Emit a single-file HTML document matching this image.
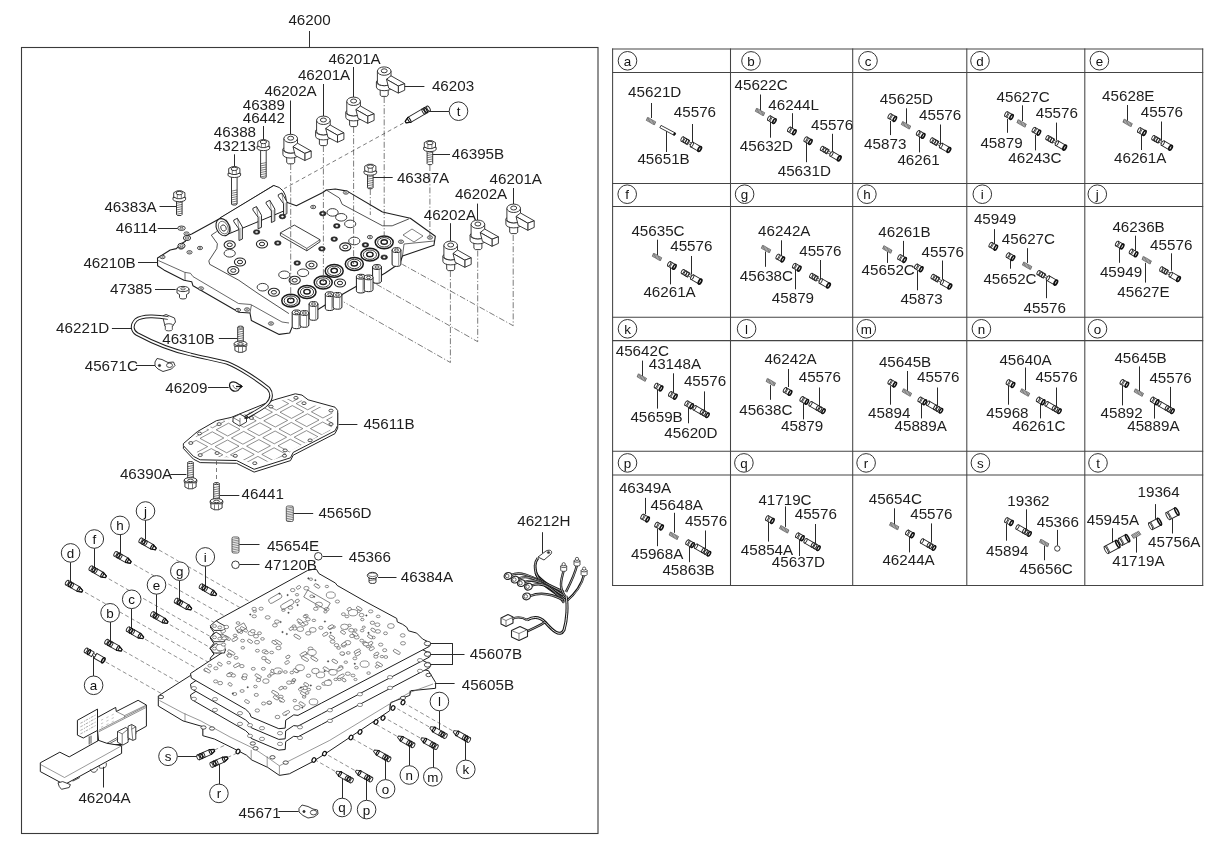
<!DOCTYPE html>
<html><head><meta charset="utf-8"><style>
html,body{margin:0;padding:0;background:#fff;}
body{width:1224px;height:848px;overflow:hidden;}
svg{display:block;will-change:transform;}
text{font-family:"Liberation Sans",sans-serif;}
</style></head><body>
<svg width="1224" height="848" viewBox="0 0 1224 848">

<g fill="none" stroke="#3a3a3a" stroke-width="1.1">
<rect x="21.5" y="47.5" width="576.5" height="786"/>
</g><g fill="none" stroke="#444" stroke-width="1.05">
<line x1="612.6" y1="48.5" x2="612.6" y2="585.9"/>
<line x1="730.5" y1="48.5" x2="730.5" y2="585.9"/>
<line x1="852.7" y1="48.5" x2="852.7" y2="585.9"/>
<line x1="966.8" y1="48.5" x2="966.8" y2="585.9"/>
<line x1="1084.8" y1="48.5" x2="1084.8" y2="585.9"/>
<line x1="1202.7" y1="48.5" x2="1202.7" y2="585.9"/>
<line x1="612.1" y1="49.0" x2="1203.2" y2="49.0"/>
<line x1="612.1" y1="72.4" x2="1203.2" y2="72.4"/>
<line x1="612.1" y1="183.4" x2="1203.2" y2="183.4"/>
<line x1="612.1" y1="206.4" x2="1203.2" y2="206.4"/>
<line x1="612.1" y1="317.3" x2="1203.2" y2="317.3"/>
<line x1="612.1" y1="340.6" x2="1203.2" y2="340.6"/>
<line x1="612.1" y1="451.3" x2="1203.2" y2="451.3"/>
<line x1="612.1" y1="474.9" x2="1203.2" y2="474.9"/>
<line x1="612.1" y1="585.4" x2="1203.2" y2="585.4"/>
</g>
<polygon points="157.5,258.0 164.7,253.5 170.2,250.0 176.3,248.6 181.2,243.7 185.5,241.3 185.5,236.4 191.7,234.0 218.6,219.2 273.8,185.5 286.0,202.0 296.4,205.7 322.8,192.5 326.3,190.0 335.3,189.0 347.1,191.1 382.5,212.0 410.3,218.2 435.3,236.3 433.9,245.3 402.5,256.0 400.0,263.0 385.3,273.0 370.6,281.5 358.3,285.2 341.2,295.0 321.6,307.3 309.3,314.6 292.2,326.9 289.7,333.0 279.2,334.4 251.4,320.6 250.0,313.0 238.9,312.2 193.0,285.8 191.7,281.7 184.0,280.3 163.9,269.9 157.6,265.7" fill="#fff" stroke="#1e1e1e" stroke-width="1.1" stroke-linejoin="round" />
<polyline points="158.3,260.5 184.7,272.3 190.5,273.3 193.0,276.6 238.5,303.5 250.8,304.5 282.0,322.0 289.0,323.0" fill="none" stroke="#262626" stroke-width="0.7" stroke-linejoin="round" />
<polyline points="250.0,313.0 251.4,305.0" fill="none" stroke="#262626" stroke-width="0.7" stroke-linejoin="round" />
<polyline points="185.0,272.5 185.0,280.3" fill="none" stroke="#262626" stroke-width="0.7" stroke-linejoin="round" />
<polyline points="216.8,231.5 211.3,235.1 217.4,243.7 216.8,248.6 208.8,260.9 209.7,264.3 238.9,280.3 257.0,292.8 288.9,313.6" fill="none" stroke="#262626" stroke-width="0.8" stroke-linejoin="round" />
<polyline points="326.3,190.0 339.4,198.0 342.2,204.3 382.5,225.8 392.2,225.8 408.9,218.9" fill="none" stroke="#262626" stroke-width="0.8" stroke-linejoin="round" />
<polyline points="403.0,235.0 412.0,229.0 423.0,236.0 414.0,242.0 403.0,235.0" fill="none" stroke="#262626" stroke-width="0.6" stroke-linejoin="round" />
<polyline points="402.5,256.0 404.0,244.0 434.0,241.0" fill="none" stroke="#262626" stroke-width="0.7" stroke-linejoin="round" />
<polygon points="280.4,232.8 294.3,225.1 320.0,239.7 320.0,241.8 306.8,250.8 280.4,235.6" fill="#fff" stroke="#262626" stroke-width="0.9" stroke-linejoin="round" />
<polyline points="280.4,232.8 306.8,248.4 320.0,239.7" fill="none" stroke="#262626" stroke-width="0.7" stroke-linejoin="round" />
<polyline points="306.8,248.4 306.8,250.8" fill="none" stroke="#262626" stroke-width="0.7" stroke-linejoin="round" />
<path d="M219.9,218 L273.8,185.5 Q286,188 286.5,202 L284.8,210.6 L228.4,234 Z" fill="#fff" stroke="#1e1e1e" stroke-width="1.0" stroke-linejoin="round" />
<ellipse cx="222.9" cy="227.2" rx="6.4" ry="9.0" fill="#fff" stroke="#1e1e1e" stroke-width="1.1" transform="rotate(-25 222.9 227.2)"/>
<ellipse cx="223.3" cy="227.6" rx="4.6" ry="6.6" fill="#fff" stroke="#262626" stroke-width="0.6" transform="rotate(-25 223.3 227.6)"/>
<ellipse cx="223.5" cy="228.0" rx="2.6" ry="3.2" fill="#fff" stroke="#262626" stroke-width="0.8" transform="rotate(-28 223.5 228.0)"/>
<polyline points="226.0,219.5 230.0,226.0 231.0,233.0" fill="none" stroke="#262626" stroke-width="0.6" stroke-linejoin="round" />
<polygon points="233.8,220.0 237.4,218.3 242.4,227.0 242.4,239.0 239.0,240.5 239.0,229.0 233.8,221.7" fill="#fff" stroke="#1a1a1a" stroke-width="0.9" stroke-linejoin="round" />
<line x1="237.4" y1="218.3" x2="239.0" y2="229.0" stroke="#262626" stroke-width="0.5"/>
<line x1="240.7" y1="228.0" x2="240.7" y2="239.7" stroke="#666" stroke-width="0.5"/>
<polygon points="252.9,208.3 256.5,206.6 261.5,215.3 261.5,227.3 258.1,228.8 258.1,217.3 252.9,210.0" fill="#fff" stroke="#1a1a1a" stroke-width="0.9" stroke-linejoin="round" />
<line x1="256.5" y1="206.6" x2="258.1" y2="217.3" stroke="#262626" stroke-width="0.5"/>
<line x1="259.8" y1="216.3" x2="259.8" y2="228.0" stroke="#666" stroke-width="0.5"/>
<polygon points="266.2,202.0 269.8,200.3 274.8,209.0 274.8,221.0 271.4,222.5 271.4,211.0 266.2,203.7" fill="#fff" stroke="#1a1a1a" stroke-width="0.9" stroke-linejoin="round" />
<line x1="269.8" y1="200.3" x2="271.4" y2="211.0" stroke="#262626" stroke-width="0.5"/>
<line x1="273.1" y1="210.0" x2="273.1" y2="221.7" stroke="#666" stroke-width="0.5"/>
<polygon points="278.3,194.7 281.9,193.0 286.9,201.7 286.9,213.7 283.5,215.2 283.5,203.7 278.3,196.4" fill="#fff" stroke="#1a1a1a" stroke-width="0.9" stroke-linejoin="round" />
<line x1="281.9" y1="193.0" x2="283.5" y2="203.7" stroke="#262626" stroke-width="0.5"/>
<line x1="285.2" y1="202.7" x2="285.2" y2="214.4" stroke="#666" stroke-width="0.5"/>
<ellipse cx="290.8" cy="300.7" rx="9.0" ry="6.4" fill="#fff" stroke="#1a1a1a" stroke-width="1.5"/>
<ellipse cx="290.8" cy="300.7" rx="6.6" ry="4.7" fill="#fff" stroke="#262626" stroke-width="0.9"/>
<ellipse cx="290.8" cy="300.4" rx="3.2" ry="2.3" fill="#fff" stroke="#1a1a1a" stroke-width="1.4"/>
<ellipse cx="307.0" cy="292.0" rx="9.0" ry="6.4" fill="#fff" stroke="#1a1a1a" stroke-width="1.5"/>
<ellipse cx="307.0" cy="292.0" rx="6.6" ry="4.7" fill="#fff" stroke="#262626" stroke-width="0.9"/>
<ellipse cx="307.0" cy="291.7" rx="3.2" ry="2.3" fill="#fff" stroke="#1a1a1a" stroke-width="1.4"/>
<ellipse cx="323.2" cy="282.5" rx="9.0" ry="6.4" fill="#fff" stroke="#1a1a1a" stroke-width="1.5"/>
<ellipse cx="323.2" cy="282.5" rx="6.6" ry="4.7" fill="#fff" stroke="#262626" stroke-width="0.9"/>
<ellipse cx="323.2" cy="282.2" rx="3.2" ry="2.3" fill="#fff" stroke="#1a1a1a" stroke-width="1.4"/>
<ellipse cx="334.2" cy="270.9" rx="9.0" ry="6.4" fill="#fff" stroke="#1a1a1a" stroke-width="1.5"/>
<ellipse cx="334.2" cy="270.9" rx="6.6" ry="4.7" fill="#fff" stroke="#262626" stroke-width="0.9"/>
<ellipse cx="334.2" cy="270.6" rx="3.2" ry="2.3" fill="#fff" stroke="#1a1a1a" stroke-width="1.4"/>
<ellipse cx="354.3" cy="264.0" rx="9.0" ry="6.4" fill="#fff" stroke="#1a1a1a" stroke-width="1.5"/>
<ellipse cx="354.3" cy="264.0" rx="6.6" ry="4.7" fill="#fff" stroke="#262626" stroke-width="0.9"/>
<ellipse cx="354.3" cy="263.7" rx="3.2" ry="2.3" fill="#fff" stroke="#1a1a1a" stroke-width="1.4"/>
<ellipse cx="369.9" cy="254.7" rx="9.0" ry="6.4" fill="#fff" stroke="#1a1a1a" stroke-width="1.5"/>
<ellipse cx="369.9" cy="254.7" rx="6.6" ry="4.7" fill="#fff" stroke="#262626" stroke-width="0.9"/>
<ellipse cx="369.9" cy="254.4" rx="3.2" ry="2.3" fill="#fff" stroke="#1a1a1a" stroke-width="1.4"/>
<ellipse cx="384.2" cy="242.3" rx="9.0" ry="6.4" fill="#fff" stroke="#1a1a1a" stroke-width="1.5"/>
<ellipse cx="384.2" cy="242.3" rx="6.6" ry="4.7" fill="#fff" stroke="#262626" stroke-width="0.9"/>
<ellipse cx="384.2" cy="242.0" rx="3.2" ry="2.3" fill="#fff" stroke="#1a1a1a" stroke-width="1.4"/>
<ellipse cx="311.5" cy="265.0" rx="5.6" ry="4.0" fill="#fff" stroke="#262626" stroke-width="1.1"/>
<ellipse cx="311.5" cy="265.0" rx="2.6" ry="1.8" fill="#fff" stroke="#262626" stroke-width="1.0"/>
<ellipse cx="345.3" cy="246.9" rx="5.6" ry="4.0" fill="#fff" stroke="#262626" stroke-width="1.1"/>
<ellipse cx="345.3" cy="246.9" rx="2.6" ry="1.8" fill="#fff" stroke="#262626" stroke-width="1.0"/>
<ellipse cx="273.9" cy="292.3" rx="5.6" ry="4.0" fill="#fff" stroke="#262626" stroke-width="1.1"/>
<ellipse cx="273.9" cy="292.3" rx="2.6" ry="1.8" fill="#fff" stroke="#262626" stroke-width="1.0"/>
<ellipse cx="294.7" cy="280.3" rx="5.6" ry="4.0" fill="#fff" stroke="#262626" stroke-width="1.1"/>
<ellipse cx="294.7" cy="280.3" rx="2.6" ry="1.8" fill="#fff" stroke="#262626" stroke-width="1.0"/>
<ellipse cx="340.0" cy="283.0" rx="5.6" ry="4.0" fill="#fff" stroke="#262626" stroke-width="1.1"/>
<ellipse cx="340.0" cy="283.0" rx="2.6" ry="1.8" fill="#fff" stroke="#262626" stroke-width="1.0"/>
<ellipse cx="233.3" cy="270.5" rx="5.6" ry="4.0" fill="#fff" stroke="#262626" stroke-width="1.1"/>
<ellipse cx="233.3" cy="270.5" rx="2.6" ry="1.8" fill="#fff" stroke="#262626" stroke-width="1.0"/>
<ellipse cx="229.7" cy="244.8" rx="5.6" ry="4.0" fill="#fff" stroke="#262626" stroke-width="1.1"/>
<ellipse cx="229.7" cy="244.8" rx="2.6" ry="1.8" fill="#fff" stroke="#262626" stroke-width="1.0"/>
<ellipse cx="262.0" cy="244.0" rx="5.6" ry="4.0" fill="#fff" stroke="#262626" stroke-width="1.1"/>
<ellipse cx="262.0" cy="244.0" rx="2.6" ry="1.8" fill="#fff" stroke="#262626" stroke-width="1.0"/>
<ellipse cx="240.0" cy="262.0" rx="5.6" ry="4.0" fill="#fff" stroke="#262626" stroke-width="1.1"/>
<ellipse cx="240.0" cy="262.0" rx="2.6" ry="1.8" fill="#fff" stroke="#262626" stroke-width="1.0"/>
<ellipse cx="284.3" cy="274.8" rx="5.6" ry="3.8" fill="#fff" stroke="#262626" stroke-width="0.9"/>
<ellipse cx="303.1" cy="272.8" rx="5.6" ry="3.8" fill="#fff" stroke="#262626" stroke-width="0.9"/>
<ellipse cx="354.3" cy="241.0" rx="5.6" ry="3.8" fill="#fff" stroke="#262626" stroke-width="0.9"/>
<ellipse cx="229.7" cy="253.3" rx="5.6" ry="3.8" fill="#fff" stroke="#262626" stroke-width="0.9"/>
<ellipse cx="262.7" cy="287.2" rx="5.6" ry="3.8" fill="#fff" stroke="#262626" stroke-width="0.9"/>
<ellipse cx="332.6" cy="212.4" rx="5.6" ry="3.8" fill="#fff" stroke="#262626" stroke-width="0.9"/>
<ellipse cx="341.2" cy="217.3" rx="5.6" ry="3.8" fill="#fff" stroke="#262626" stroke-width="0.9"/>
<ellipse cx="350.2" cy="223.9" rx="5.6" ry="3.8" fill="#fff" stroke="#262626" stroke-width="0.9"/>
<ellipse cx="277.8" cy="243.0" rx="3.3" ry="2.3" fill="#2a2a2a" stroke="#262626" stroke-width="0.6"/>
<ellipse cx="277.8" cy="243.0" rx="1.2" ry="0.8" fill="#fff" stroke="#fff" stroke-width="0.3"/>
<ellipse cx="297.2" cy="263.0" rx="3.3" ry="2.3" fill="#2a2a2a" stroke="#262626" stroke-width="0.6"/>
<ellipse cx="297.2" cy="263.0" rx="1.2" ry="0.8" fill="#fff" stroke="#fff" stroke-width="0.3"/>
<ellipse cx="321.9" cy="248.8" rx="3.3" ry="2.3" fill="#2a2a2a" stroke="#262626" stroke-width="0.6"/>
<ellipse cx="321.9" cy="248.8" rx="1.2" ry="0.8" fill="#fff" stroke="#fff" stroke-width="0.3"/>
<ellipse cx="334.2" cy="239.1" rx="3.3" ry="2.3" fill="#2a2a2a" stroke="#262626" stroke-width="0.6"/>
<ellipse cx="334.2" cy="239.1" rx="1.2" ry="0.8" fill="#fff" stroke="#fff" stroke-width="0.3"/>
<ellipse cx="365.4" cy="244.9" rx="3.3" ry="2.3" fill="#2a2a2a" stroke="#262626" stroke-width="0.6"/>
<ellipse cx="365.4" cy="244.9" rx="1.2" ry="0.8" fill="#fff" stroke="#fff" stroke-width="0.3"/>
<ellipse cx="384.2" cy="257.2" rx="3.3" ry="2.3" fill="#2a2a2a" stroke="#262626" stroke-width="0.6"/>
<ellipse cx="384.2" cy="257.2" rx="1.2" ry="0.8" fill="#fff" stroke="#fff" stroke-width="0.3"/>
<ellipse cx="256.6" cy="232.0" rx="3.3" ry="2.3" fill="#2a2a2a" stroke="#262626" stroke-width="0.6"/>
<ellipse cx="256.6" cy="232.0" rx="1.2" ry="0.8" fill="#fff" stroke="#fff" stroke-width="0.3"/>
<ellipse cx="282.4" cy="216.6" rx="3.3" ry="2.3" fill="#2a2a2a" stroke="#262626" stroke-width="0.6"/>
<ellipse cx="282.4" cy="216.6" rx="1.2" ry="0.8" fill="#fff" stroke="#fff" stroke-width="0.3"/>
<ellipse cx="336.8" cy="225.9" rx="3.3" ry="2.3" fill="#2a2a2a" stroke="#262626" stroke-width="0.6"/>
<ellipse cx="336.8" cy="225.9" rx="1.2" ry="0.8" fill="#fff" stroke="#fff" stroke-width="0.3"/>
<ellipse cx="322.8" cy="213.6" rx="3.3" ry="2.3" fill="#2a2a2a" stroke="#262626" stroke-width="0.6"/>
<ellipse cx="322.8" cy="213.6" rx="1.2" ry="0.8" fill="#fff" stroke="#fff" stroke-width="0.3"/>
<ellipse cx="369.9" cy="237.1" rx="2.6" ry="1.7" fill="#fff" stroke="#262626" stroke-width="0.8"/>
<ellipse cx="369.9" cy="237.1" rx="1.0" ry="0.6" fill="#fff" stroke="#262626" stroke-width="0.5"/>
<ellipse cx="401.0" cy="241.7" rx="2.6" ry="1.7" fill="#fff" stroke="#262626" stroke-width="0.8"/>
<ellipse cx="401.0" cy="241.7" rx="1.0" ry="0.6" fill="#fff" stroke="#262626" stroke-width="0.5"/>
<ellipse cx="162.5" cy="257.0" rx="2.6" ry="1.7" fill="#fff" stroke="#262626" stroke-width="0.8"/>
<ellipse cx="162.5" cy="257.0" rx="1.0" ry="0.6" fill="#fff" stroke="#262626" stroke-width="0.5"/>
<ellipse cx="200.0" cy="248.0" rx="2.6" ry="1.7" fill="#fff" stroke="#262626" stroke-width="0.8"/>
<ellipse cx="200.0" cy="248.0" rx="1.0" ry="0.6" fill="#fff" stroke="#262626" stroke-width="0.5"/>
<ellipse cx="186.5" cy="233.6" rx="2.6" ry="1.7" fill="#fff" stroke="#262626" stroke-width="0.8"/>
<ellipse cx="186.5" cy="233.6" rx="1.0" ry="0.6" fill="#fff" stroke="#262626" stroke-width="0.5"/>
<ellipse cx="181.0" cy="247.5" rx="2.6" ry="1.7" fill="#fff" stroke="#262626" stroke-width="0.8"/>
<ellipse cx="181.0" cy="247.5" rx="1.0" ry="0.6" fill="#fff" stroke="#262626" stroke-width="0.5"/>
<ellipse cx="189.5" cy="252.3" rx="2.6" ry="1.7" fill="#fff" stroke="#262626" stroke-width="0.8"/>
<ellipse cx="189.5" cy="252.3" rx="1.0" ry="0.6" fill="#fff" stroke="#262626" stroke-width="0.5"/>
<ellipse cx="345.9" cy="192.5" rx="2.6" ry="1.7" fill="#fff" stroke="#262626" stroke-width="0.8"/>
<ellipse cx="345.9" cy="192.5" rx="1.0" ry="0.6" fill="#fff" stroke="#262626" stroke-width="0.5"/>
<ellipse cx="313.2" cy="207.0" rx="2.6" ry="1.7" fill="#fff" stroke="#262626" stroke-width="0.8"/>
<ellipse cx="313.2" cy="207.0" rx="1.0" ry="0.6" fill="#fff" stroke="#262626" stroke-width="0.5"/>
<ellipse cx="430.0" cy="237.5" rx="2.6" ry="1.7" fill="#fff" stroke="#262626" stroke-width="0.8"/>
<ellipse cx="430.0" cy="237.5" rx="1.0" ry="0.6" fill="#fff" stroke="#262626" stroke-width="0.5"/>
<ellipse cx="201.0" cy="288.5" rx="2.6" ry="1.7" fill="#fff" stroke="#262626" stroke-width="0.8"/>
<ellipse cx="201.0" cy="288.5" rx="1.0" ry="0.6" fill="#fff" stroke="#262626" stroke-width="0.5"/>
<ellipse cx="247.0" cy="309.5" rx="2.6" ry="1.7" fill="#fff" stroke="#262626" stroke-width="0.8"/>
<ellipse cx="247.0" cy="309.5" rx="1.0" ry="0.6" fill="#fff" stroke="#262626" stroke-width="0.5"/>
<ellipse cx="271.0" cy="323.5" rx="2.6" ry="1.7" fill="#fff" stroke="#262626" stroke-width="0.8"/>
<ellipse cx="271.0" cy="323.5" rx="1.0" ry="0.6" fill="#fff" stroke="#262626" stroke-width="0.5"/>
<ellipse cx="238.0" cy="310.0" rx="2.6" ry="1.7" fill="#fff" stroke="#262626" stroke-width="0.8"/>
<ellipse cx="238.0" cy="310.0" rx="1.0" ry="0.6" fill="#fff" stroke="#262626" stroke-width="0.5"/>
<ellipse cx="187.0" cy="238.0" rx="3.6" ry="2.5" fill="#fff" stroke="#262626" stroke-width="1.0"/>
<ellipse cx="187.0" cy="238.0" rx="1.7" ry="1.1" fill="#fff" stroke="#262626" stroke-width="0.7"/>
<ellipse cx="181.5" cy="245.8" rx="3.6" ry="2.5" fill="#fff" stroke="#262626" stroke-width="1.0"/>
<ellipse cx="181.5" cy="245.8" rx="1.7" ry="1.1" fill="#fff" stroke="#262626" stroke-width="0.7"/>
<path d="M392.1,250.1 L392.1,264.1 A4.4,2.3 0 0 0 400.9,264.1 L400.9,250.1 Z" fill="#fff" stroke="#1a1a1a" stroke-width="1.0" stroke-linejoin="round" />
<line x1="398.7" y1="251.6" x2="398.7" y2="265.6" stroke="#262626" stroke-width="0.5"/>
<ellipse cx="396.5" cy="250.1" rx="4.4" ry="2.4" fill="#fff" stroke="#1a1a1a" stroke-width="1.0"/>
<ellipse cx="396.5" cy="250.1" rx="2.0" ry="1.2" fill="#fff" stroke="#262626" stroke-width="0.8"/>
<path d="M372.6,267 L372.6,281 A4.4,2.3 0 0 0 381.4,281 L381.4,267 Z" fill="#fff" stroke="#1a1a1a" stroke-width="1.0" stroke-linejoin="round" />
<line x1="379.2" y1="268.5" x2="379.2" y2="282.5" stroke="#262626" stroke-width="0.5"/>
<ellipse cx="377.0" cy="267.0" rx="4.4" ry="2.4" fill="#fff" stroke="#1a1a1a" stroke-width="1.0"/>
<ellipse cx="377.0" cy="267.0" rx="2.0" ry="1.2" fill="#fff" stroke="#262626" stroke-width="0.8"/>
<path d="M356.40000000000003,276.7 L356.40000000000003,290.7 A4.4,2.3 0 0 0 365.2,290.7 L365.2,276.7 Z" fill="#fff" stroke="#1a1a1a" stroke-width="1.0" stroke-linejoin="round" />
<line x1="363.0" y1="278.2" x2="363.0" y2="292.2" stroke="#262626" stroke-width="0.5"/>
<ellipse cx="360.8" cy="276.7" rx="4.4" ry="2.4" fill="#fff" stroke="#1a1a1a" stroke-width="1.0"/>
<ellipse cx="360.8" cy="276.7" rx="2.0" ry="1.2" fill="#fff" stroke="#262626" stroke-width="0.8"/>
<path d="M364.20000000000005,277.4 L364.20000000000005,289.4 A4.4,2.3 0 0 0 373.0,289.4 L373.0,277.4 Z" fill="#fff" stroke="#1a1a1a" stroke-width="1.0" stroke-linejoin="round" />
<line x1="370.8" y1="278.9" x2="370.8" y2="290.9" stroke="#262626" stroke-width="0.5"/>
<ellipse cx="368.6" cy="277.4" rx="4.4" ry="2.4" fill="#fff" stroke="#1a1a1a" stroke-width="1.0"/>
<ellipse cx="368.6" cy="277.4" rx="2.0" ry="1.2" fill="#fff" stroke="#262626" stroke-width="0.8"/>
<path d="M325.3,294.2 L325.3,308.2 A4.4,2.3 0 0 0 334.09999999999997,308.2 L334.09999999999997,294.2 Z" fill="#fff" stroke="#1a1a1a" stroke-width="1.0" stroke-linejoin="round" />
<line x1="331.9" y1="295.7" x2="331.9" y2="309.7" stroke="#262626" stroke-width="0.5"/>
<ellipse cx="329.7" cy="294.2" rx="4.4" ry="2.4" fill="#fff" stroke="#1a1a1a" stroke-width="1.0"/>
<ellipse cx="329.7" cy="294.2" rx="2.0" ry="1.2" fill="#fff" stroke="#262626" stroke-width="0.8"/>
<path d="M333.1,294.9 L333.1,306.9 A4.4,2.3 0 0 0 341.9,306.9 L341.9,294.9 Z" fill="#fff" stroke="#1a1a1a" stroke-width="1.0" stroke-linejoin="round" />
<line x1="339.7" y1="296.4" x2="339.7" y2="308.4" stroke="#262626" stroke-width="0.5"/>
<ellipse cx="337.5" cy="294.9" rx="4.4" ry="2.4" fill="#fff" stroke="#1a1a1a" stroke-width="1.0"/>
<ellipse cx="337.5" cy="294.9" rx="2.0" ry="1.2" fill="#fff" stroke="#262626" stroke-width="0.8"/>
<path d="M309.1,304 L309.1,318 A4.4,2.3 0 0 0 317.9,318 L317.9,304 Z" fill="#fff" stroke="#1a1a1a" stroke-width="1.0" stroke-linejoin="round" />
<line x1="315.7" y1="305.5" x2="315.7" y2="319.5" stroke="#262626" stroke-width="0.5"/>
<ellipse cx="313.5" cy="304.0" rx="4.4" ry="2.4" fill="#fff" stroke="#1a1a1a" stroke-width="1.0"/>
<ellipse cx="313.5" cy="304.0" rx="2.0" ry="1.2" fill="#fff" stroke="#262626" stroke-width="0.8"/>
<path d="M292.20000000000005,312.4 L292.20000000000005,326.4 A4.4,2.3 0 0 0 301.0,326.4 L301.0,312.4 Z" fill="#fff" stroke="#1a1a1a" stroke-width="1.0" stroke-linejoin="round" />
<line x1="298.8" y1="313.9" x2="298.8" y2="327.9" stroke="#262626" stroke-width="0.5"/>
<ellipse cx="296.6" cy="312.4" rx="4.4" ry="2.4" fill="#fff" stroke="#1a1a1a" stroke-width="1.0"/>
<ellipse cx="296.6" cy="312.4" rx="2.0" ry="1.2" fill="#fff" stroke="#262626" stroke-width="0.8"/>
<path d="M300.0,313 L300.0,325 A4.4,2.3 0 0 0 308.79999999999995,325 L308.79999999999995,313 Z" fill="#fff" stroke="#1a1a1a" stroke-width="1.0" stroke-linejoin="round" />
<line x1="306.6" y1="314.5" x2="306.6" y2="326.5" stroke="#262626" stroke-width="0.5"/>
<ellipse cx="304.4" cy="313.0" rx="4.4" ry="2.4" fill="#fff" stroke="#1a1a1a" stroke-width="1.0"/>
<ellipse cx="304.4" cy="313.0" rx="2.0" ry="1.2" fill="#fff" stroke="#262626" stroke-width="0.8"/>
<polyline points="290.7,164.0 290.7,300.0" fill="none" stroke="#444" stroke-width="0.7" stroke-dasharray="6,2,1.2,2" stroke-linejoin="round" />
<polyline points="323.4,146.0 323.4,282.0" fill="none" stroke="#444" stroke-width="0.7" stroke-dasharray="6,2,1.2,2" stroke-linejoin="round" />
<polyline points="353.6,127.0 353.6,264.0" fill="none" stroke="#444" stroke-width="0.7" stroke-dasharray="6,2,1.2,2" stroke-linejoin="round" />
<polyline points="384.2,97.0 384.2,241.0" fill="none" stroke="#444" stroke-width="0.7" stroke-dasharray="6,2,1.2,2" stroke-linejoin="round" />
<polyline points="429.9,165.0 429.9,236.0" fill="none" stroke="#444" stroke-width="0.7" stroke-dasharray="6,2,1.2,2" stroke-linejoin="round" />
<polyline points="370.3,189.0 370.3,215.0" fill="none" stroke="#444" stroke-width="0.7" stroke-dasharray="6,2,1.2,2" stroke-linejoin="round" />
<polyline points="513.2,235.0 513.2,325.7 402.3,264.3" fill="none" stroke="#444" stroke-width="0.7" stroke-dasharray="6,2,1.2,2" stroke-linejoin="round" />
<polyline points="477.7,250.5 477.7,341.7 373.0,282.3" fill="none" stroke="#444" stroke-width="0.7" stroke-dasharray="6,2,1.2,2" stroke-linejoin="round" />
<polyline points="450.4,271.0 450.4,362.5 343.8,302.0" fill="none" stroke="#444" stroke-width="0.7" stroke-dasharray="6,2,1.2,2" stroke-linejoin="round" />
<polyline points="403.5,123.0 284.2,188.6" fill="none" stroke="#444" stroke-width="0.7" stroke-dasharray="4,3" stroke-linejoin="round" />
<g transform="translate(428.5 108.6) rotate(149.5)">
<path d="M0,-2.9 L22.3,-2.9 L26.5,-0.9 L26.5,0.9 L22.3,2.9 L0,2.9 Z" fill="#fff" stroke="#262626" stroke-width="0.9" stroke-linejoin="round"/>
<ellipse cx="0" cy="0" rx="1.3" ry="2.9" fill="#fff" stroke="#262626" stroke-width="0.9"/>
<ellipse cx="3.3" cy="0" rx="1.1" ry="2.9" fill="none" stroke="#111" stroke-width="1.3"/>
<ellipse cx="5.8" cy="0" rx="1.0" ry="2.9" fill="none" stroke="#222" stroke-width="1.0"/>
<ellipse cx="22.3" cy="0" rx="1.0" ry="2.9" fill="none" stroke="#111" stroke-width="1.1"/>
<path d="M23.3,-2.32 L26.5,-0.9 L26.5,0.9 L23.3,2.32" fill="none" stroke="#111" stroke-width="1.2"/>
</g>
<line x1="159.0" y1="550.0" x2="250.7" y2="602.2" stroke="#555" stroke-width="0.65" stroke-dasharray="4,2.6"/>
<line x1="133.9" y1="564.4" x2="224.8" y2="616.1" stroke="#555" stroke-width="0.65" stroke-dasharray="4,2.6"/>
<line x1="108.7" y1="578.8" x2="216.1" y2="639.8" stroke="#555" stroke-width="0.65" stroke-dasharray="4,2.6"/>
<line x1="85.0" y1="592.2" x2="209.8" y2="663.1" stroke="#555" stroke-width="0.65" stroke-dasharray="4,2.6"/>
<line x1="219.2" y1="595.8" x2="240.5" y2="607.9" stroke="#555" stroke-width="0.65" stroke-dasharray="4,2.6"/>
<line x1="194.1" y1="611.1" x2="216.3" y2="623.7" stroke="#555" stroke-width="0.65" stroke-dasharray="4,2.6"/>
<line x1="169.8" y1="624.6" x2="216.3" y2="651.1" stroke="#555" stroke-width="0.65" stroke-dasharray="4,2.6"/>
<line x1="145.0" y1="639.1" x2="199.3" y2="670.0" stroke="#555" stroke-width="0.65" stroke-dasharray="4,2.6"/>
<line x1="123.4" y1="650.8" x2="179.5" y2="682.7" stroke="#555" stroke-width="0.65" stroke-dasharray="4,2.6"/>
<line x1="105.7" y1="661.9" x2="161.8" y2="693.8" stroke="#555" stroke-width="0.65" stroke-dasharray="4,2.6"/>
<line x1="429.0" y1="726.8" x2="397.3" y2="708.7" stroke="#555" stroke-width="0.65" stroke-dasharray="4,2.6"/>
<line x1="452.4" y1="730.7" x2="405.9" y2="704.2" stroke="#555" stroke-width="0.65" stroke-dasharray="4,2.6"/>
<line x1="420.0" y1="737.9" x2="383.0" y2="716.9" stroke="#555" stroke-width="0.65" stroke-dasharray="4,2.6"/>
<line x1="396.7" y1="736.1" x2="371.9" y2="722.0" stroke="#555" stroke-width="0.65" stroke-dasharray="4,2.6"/>
<line x1="372.7" y1="750.1" x2="347.0" y2="735.5" stroke="#555" stroke-width="0.65" stroke-dasharray="4,2.6"/>
<line x1="354.6" y1="770.3" x2="319.4" y2="750.3" stroke="#555" stroke-width="0.65" stroke-dasharray="4,2.6"/>
<line x1="335.1" y1="771.3" x2="308.6" y2="756.2" stroke="#555" stroke-width="0.65" stroke-dasharray="4,2.6"/>
<line x1="214.5" y1="750.0" x2="228.5" y2="743.5" stroke="#555" stroke-width="0.65" stroke-dasharray="4,2.6"/>
<line x1="227.5" y1="757.5" x2="241.5" y2="751.0" stroke="#555" stroke-width="0.65" stroke-dasharray="4,2.6"/>
<polygon points="158.3,696.0 190.4,675.5 300.0,640.0 428.5,670.7 435.6,682.5 435.6,688.3 410.8,690.7 409.7,695.4 390.8,702.5 389.6,710.8 325.5,753.6 312.8,761.6 289.4,773.8 279.4,775.4 267.7,767.4 251.8,760.0 246.5,755.2 236.4,749.9 230.0,746.7 214.4,739.0 202.8,735.7 202.8,726.6 183.0,720.9 158.3,706.0" fill="#fff" stroke="#1e1e1e" stroke-width="1.0" stroke-linejoin="round" />
<polyline points="159.5,700.5 183.0,713.0 201.0,721.0 230.0,737.0 254.4,748.8 270.3,759.4 279.4,765.8 329.8,740.3 389.6,704.0 409.7,692.5 433.0,684.0" fill="none" stroke="#555" stroke-width="0.6" stroke-linejoin="round" />
<line x1="185.0" y1="713.5" x2="185.0" y2="721.5" stroke="#555" stroke-width="0.6"/>
<line x1="202.8" y1="726.6" x2="202.8" y2="735.7" stroke="#555" stroke-width="0.6"/>
<line x1="251.2" y1="749.9" x2="251.2" y2="760.0" stroke="#555" stroke-width="0.6"/>
<line x1="267.2" y1="756.3" x2="267.2" y2="767.0" stroke="#555" stroke-width="0.6"/>
<line x1="279.4" y1="765.8" x2="279.4" y2="775.4" stroke="#555" stroke-width="0.6"/>
<line x1="389.6" y1="704.0" x2="389.6" y2="710.8" stroke="#555" stroke-width="0.6"/>
<line x1="409.7" y1="690.7" x2="409.7" y2="695.4" stroke="#555" stroke-width="0.6"/>
<ellipse cx="161.0" cy="697.0" rx="2.6" ry="1.7" fill="#fff" stroke="#262626" stroke-width="0.8"/>
<ellipse cx="203.5" cy="727.5" rx="2.6" ry="1.7" fill="#fff" stroke="#262626" stroke-width="0.8"/>
<ellipse cx="212.0" cy="728.5" rx="2.6" ry="1.7" fill="#fff" stroke="#262626" stroke-width="0.8"/>
<ellipse cx="285.7" cy="762.6" rx="2.6" ry="1.7" fill="#fff" stroke="#262626" stroke-width="0.8"/>
<ellipse cx="272.5" cy="757.3" rx="2.6" ry="1.7" fill="#fff" stroke="#262626" stroke-width="0.8"/>
<ellipse cx="255.5" cy="748.3" rx="2.6" ry="1.7" fill="#fff" stroke="#262626" stroke-width="0.8"/>
<ellipse cx="252.8" cy="743.5" rx="2.6" ry="1.7" fill="#fff" stroke="#262626" stroke-width="0.8"/>
<ellipse cx="428.5" cy="675.0" rx="2.6" ry="1.7" fill="#fff" stroke="#262626" stroke-width="0.8"/>
<ellipse cx="403.0" cy="698.0" rx="2.6" ry="1.7" fill="#fff" stroke="#262626" stroke-width="0.8"/>
<ellipse cx="313.9" cy="760.0" rx="1.8" ry="2.3" fill="#fff" stroke="#111" stroke-width="1.2" transform="rotate(30 313.9 760.0)"/>
<ellipse cx="324.5" cy="753.6" rx="1.8" ry="2.3" fill="#fff" stroke="#111" stroke-width="1.2" transform="rotate(30 324.5 753.6)"/>
<ellipse cx="238.0" cy="751.5" rx="1.8" ry="2.3" fill="#fff" stroke="#111" stroke-width="1.2" transform="rotate(30 238.0 751.5)"/>
<ellipse cx="351.0" cy="737.5" rx="1.8" ry="2.3" fill="#fff" stroke="#111" stroke-width="1.2" transform="rotate(30 351.0 737.5)"/>
<ellipse cx="360.0" cy="732.0" rx="1.8" ry="2.3" fill="#fff" stroke="#111" stroke-width="1.2" transform="rotate(30 360.0 732.0)"/>
<ellipse cx="376.0" cy="722.0" rx="1.8" ry="2.3" fill="#fff" stroke="#111" stroke-width="1.2" transform="rotate(30 376.0 722.0)"/>
<ellipse cx="383.0" cy="718.0" rx="1.8" ry="2.3" fill="#fff" stroke="#111" stroke-width="1.2" transform="rotate(30 383.0 718.0)"/>
<ellipse cx="393.0" cy="708.0" rx="1.8" ry="2.3" fill="#fff" stroke="#111" stroke-width="1.2" transform="rotate(30 393.0 708.0)"/>
<ellipse cx="403.0" cy="702.5" rx="1.8" ry="2.3" fill="#fff" stroke="#111" stroke-width="1.2" transform="rotate(30 403.0 702.5)"/>
<polygon points="312.5,590.9 316.5,590.8 318.9,595.0 335.4,604.4 337.1,606.8 366.0,623.3 396.7,639.8 397.3,643.3 402.6,645.7 406.7,648.6 408.5,652.2 416.7,654.5 422.6,660.4 427.4,662.8 431.0,664.9 429.5,667.7 321.3,724.6 298.0,736.8 293.7,736.3 285.7,741.6 285.2,749.5 278.8,750.1 251.2,738.4 249.5,734.4 245.7,730.7 191.3,699.4 190.5,694.9 225.3,672.0 216.0,674.4 210.2,668.9 214.0,664.9 210.2,659.4 214.0,653.9 210.2,648.4 216.1,642.2 307.4,592.0" fill="#fff" stroke="#1e1e1e" stroke-width="1.0" stroke-linejoin="round" />
<ellipse cx="194.0" cy="698.9" rx="2.6" ry="1.7" fill="#fff" stroke="#444" stroke-width="0.6"/>
<ellipse cx="215.0" cy="709.9" rx="2.6" ry="1.7" fill="#fff" stroke="#444" stroke-width="0.6"/>
<ellipse cx="240.0" cy="723.9" rx="2.6" ry="1.7" fill="#fff" stroke="#444" stroke-width="0.6"/>
<ellipse cx="250.0" cy="735.9" rx="2.6" ry="1.7" fill="#fff" stroke="#444" stroke-width="0.6"/>
<ellipse cx="262.0" cy="738.9" rx="2.6" ry="1.7" fill="#fff" stroke="#444" stroke-width="0.6"/>
<ellipse cx="280.0" cy="743.9" rx="2.6" ry="1.7" fill="#fff" stroke="#444" stroke-width="0.6"/>
<ellipse cx="300.0" cy="737.9" rx="2.6" ry="1.7" fill="#fff" stroke="#444" stroke-width="0.6"/>
<ellipse cx="330.0" cy="720.9" rx="2.6" ry="1.7" fill="#fff" stroke="#444" stroke-width="0.6"/>
<ellipse cx="360.0" cy="704.9" rx="2.6" ry="1.7" fill="#fff" stroke="#444" stroke-width="0.6"/>
<ellipse cx="390.0" cy="687.9" rx="2.6" ry="1.7" fill="#fff" stroke="#444" stroke-width="0.6"/>
<ellipse cx="420.0" cy="670.9" rx="2.6" ry="1.7" fill="#fff" stroke="#444" stroke-width="0.6"/>
<ellipse cx="428.0" cy="663.9" rx="2.6" ry="1.7" fill="#fff" stroke="#444" stroke-width="0.6"/>
<polygon points="312.5,580.2 316.5,580.1 318.9,584.3 335.4,593.7 337.1,596.1 366.0,612.6 396.7,629.1 397.3,632.6 402.6,635.0 406.7,637.9 408.5,641.5 416.7,643.8 422.6,649.7 427.4,652.1 431.0,654.2 429.5,657.0 321.3,713.9 298.0,726.1 293.7,725.6 285.7,730.9 285.2,738.8 278.8,739.4 251.2,727.7 249.5,723.7 245.7,720.0 191.3,688.7 190.5,684.2 225.3,661.3 216.0,663.7 210.2,658.2 214.0,654.2 210.2,648.7 214.0,643.2 210.2,637.7 216.1,631.5 307.4,581.3" fill="#fff" stroke="#1e1e1e" stroke-width="1.0" stroke-linejoin="round" />
<ellipse cx="194.0" cy="688.2" rx="2.6" ry="1.7" fill="#fff" stroke="#444" stroke-width="0.6"/>
<ellipse cx="215.0" cy="699.2" rx="2.6" ry="1.7" fill="#fff" stroke="#444" stroke-width="0.6"/>
<ellipse cx="240.0" cy="713.2" rx="2.6" ry="1.7" fill="#fff" stroke="#444" stroke-width="0.6"/>
<ellipse cx="250.0" cy="725.2" rx="2.6" ry="1.7" fill="#fff" stroke="#444" stroke-width="0.6"/>
<ellipse cx="262.0" cy="728.2" rx="2.6" ry="1.7" fill="#fff" stroke="#444" stroke-width="0.6"/>
<ellipse cx="280.0" cy="733.2" rx="2.6" ry="1.7" fill="#fff" stroke="#444" stroke-width="0.6"/>
<ellipse cx="300.0" cy="727.2" rx="2.6" ry="1.7" fill="#fff" stroke="#444" stroke-width="0.6"/>
<ellipse cx="330.0" cy="710.2" rx="2.6" ry="1.7" fill="#fff" stroke="#444" stroke-width="0.6"/>
<ellipse cx="360.0" cy="694.2" rx="2.6" ry="1.7" fill="#fff" stroke="#444" stroke-width="0.6"/>
<ellipse cx="390.0" cy="677.2" rx="2.6" ry="1.7" fill="#fff" stroke="#444" stroke-width="0.6"/>
<ellipse cx="420.0" cy="660.2" rx="2.6" ry="1.7" fill="#fff" stroke="#444" stroke-width="0.6"/>
<ellipse cx="428.0" cy="653.2" rx="2.6" ry="1.7" fill="#fff" stroke="#444" stroke-width="0.6"/>
<polygon points="312.5,569.5 316.5,569.4 318.9,573.6 335.4,583.0 337.1,585.4 366.0,601.9 396.7,618.4 397.3,621.9 402.6,624.3 406.7,627.2 408.5,630.8 416.7,633.1 422.6,639.0 427.4,641.4 431.0,643.5 429.5,646.3 321.3,703.2 298.0,715.4 293.7,714.9 285.7,720.2 285.2,728.1 278.8,728.7 251.2,717.0 249.5,713.0 245.7,709.3 191.3,678.0 190.5,673.5 225.3,650.6 216.0,653.0 210.2,647.5 214.0,643.5 210.2,638.0 214.0,632.5 210.2,627.0 216.1,620.8 307.4,570.6" fill="#fff" stroke="#1e1e1e" stroke-width="1.0" stroke-linejoin="round" />
<polygon points="216.1,620.8 210.2,625.8 214.0,630.4 224.5,630.4 225.5,626.3 220.0,623.3" fill="#fff" stroke="#1e1e1e" stroke-width="0.9" stroke-linejoin="round" />
<ellipse cx="214.5" cy="626.0" rx="2.0" ry="1.4" fill="#fff" stroke="#444" stroke-width="0.6"/>
<ellipse cx="219.8" cy="627.4" rx="2.0" ry="1.4" fill="#fff" stroke="#444" stroke-width="0.6"/>
<polygon points="216.1,632.1 210.2,637.1 214.0,641.7 224.5,641.7 225.5,637.6 220.0,634.6" fill="#fff" stroke="#1e1e1e" stroke-width="0.9" stroke-linejoin="round" />
<ellipse cx="214.5" cy="637.3" rx="2.0" ry="1.4" fill="#fff" stroke="#444" stroke-width="0.6"/>
<ellipse cx="219.8" cy="638.7" rx="2.0" ry="1.4" fill="#fff" stroke="#444" stroke-width="0.6"/>
<polygon points="216.1,643.4 210.2,648.4 214.0,653.0 224.5,653.0 225.5,648.9 220.0,645.9" fill="#fff" stroke="#1e1e1e" stroke-width="0.9" stroke-linejoin="round" />
<ellipse cx="214.5" cy="648.6" rx="2.0" ry="1.4" fill="#fff" stroke="#444" stroke-width="0.6"/>
<ellipse cx="219.8" cy="650.0" rx="2.0" ry="1.4" fill="#fff" stroke="#444" stroke-width="0.6"/>
<ellipse cx="320.9" cy="627.8" rx="2.1" ry="1.5" fill="#fff" stroke="#444" stroke-width="0.6"/>
<ellipse cx="294.8" cy="700.6" rx="1.8" ry="1.3" fill="#fff" stroke="#444" stroke-width="0.6"/>
<ellipse cx="330.6" cy="632.7" rx="0.8" ry="0.8" fill="#444" stroke="#444" stroke-width="0.3"/>
<ellipse cx="331.7" cy="670.9" rx="2.1" ry="1.5" fill="#fff" stroke="#444" stroke-width="0.6"/>
<ellipse cx="243.4" cy="677.5" rx="1.9" ry="1.3" fill="#fff" stroke="#444" stroke-width="0.6"/>
<ellipse cx="332.6" cy="641.6" rx="2.4" ry="1.7" fill="#fff" stroke="#444" stroke-width="0.6"/>
<rect x="356.2" y="607.2" width="6.1" height="2.8" rx="1.4" fill="#fff" stroke="#444" stroke-width="0.6" transform="rotate(30 359.3 608.6)"/>
<ellipse cx="366.4" cy="615.5" rx="0.8" ry="0.8" fill="#444" stroke="#444" stroke-width="0.3"/>
<rect x="220.4" y="634.7" width="4.6" height="2.8" rx="1.4" fill="#fff" stroke="#444" stroke-width="0.6" transform="rotate(30 222.7 636.1)"/>
<ellipse cx="274.9" cy="625.3" rx="2.4" ry="1.7" fill="#fff" stroke="#444" stroke-width="0.6"/>
<ellipse cx="258.4" cy="680.1" rx="2.3" ry="1.6" fill="#fff" stroke="#444" stroke-width="0.6"/>
<rect x="264.9" y="659.9" width="5.8" height="2.8" rx="1.4" fill="#fff" stroke="#444" stroke-width="0.6" transform="rotate(30 267.8 661.3)"/>
<ellipse cx="338.6" cy="648.0" rx="1.9" ry="1.3" fill="#fff" stroke="#444" stroke-width="0.6"/>
<ellipse cx="368.5" cy="632.9" rx="0.8" ry="0.8" fill="#444" stroke="#444" stroke-width="0.3"/>
<ellipse cx="311.7" cy="596.3" rx="1.9" ry="1.3" fill="#fff" stroke="#444" stroke-width="0.6"/>
<rect x="223.8" y="636.6" width="6.8" height="2.8" rx="1.4" fill="#fff" stroke="#444" stroke-width="0.6" transform="rotate(30 227.2 638.0)"/>
<ellipse cx="355.4" cy="630.1" rx="1.7" ry="1.2" fill="#fff" stroke="#444" stroke-width="0.6"/>
<ellipse cx="230.6" cy="674.0" rx="2.4" ry="1.7" fill="#fff" stroke="#444" stroke-width="0.6"/>
<rect x="226.6" y="653.1" width="5.3" height="2.8" rx="1.4" fill="#fff" stroke="#444" stroke-width="0.6" transform="rotate(-28 229.2 654.5)"/>
<rect x="353.9" y="650.0" width="6.7" height="2.8" rx="1.4" fill="#fff" stroke="#444" stroke-width="0.6" transform="rotate(-28 357.3 651.4)"/>
<ellipse cx="302.3" cy="707.6" rx="0.8" ry="0.8" fill="#444" stroke="#444" stroke-width="0.3"/>
<ellipse cx="354.9" cy="658.4" rx="2.0" ry="1.4" fill="#fff" stroke="#444" stroke-width="0.6"/>
<ellipse cx="308.2" cy="633.3" rx="2.6" ry="1.8" fill="#fff" stroke="#444" stroke-width="0.6"/>
<rect x="296.3" y="586.0" width="4.4" height="2.8" rx="1.4" fill="#fff" stroke="#444" stroke-width="0.6" transform="rotate(-28 298.5 587.4)"/>
<rect x="240.0" y="628.0" width="7.8" height="2.8" rx="1.4" fill="#fff" stroke="#444" stroke-width="0.6" transform="rotate(30 243.9 629.4)"/>
<ellipse cx="306.4" cy="588.2" rx="2.6" ry="1.8" fill="#fff" stroke="#444" stroke-width="0.6"/>
<ellipse cx="307.9" cy="619.3" rx="2.3" ry="1.6" fill="#fff" stroke="#444" stroke-width="0.6"/>
<rect x="365.9" y="644.2" width="6.1" height="2.8" rx="1.4" fill="#fff" stroke="#444" stroke-width="0.6" transform="rotate(-28 369.0 645.6)"/>
<ellipse cx="229.5" cy="655.8" rx="2.1" ry="1.5" fill="#fff" stroke="#444" stroke-width="0.6"/>
<ellipse cx="358.6" cy="611.3" rx="1.8" ry="1.2" fill="#fff" stroke="#444" stroke-width="0.6"/>
<rect x="373.7" y="652.7" width="5.3" height="2.8" rx="1.4" fill="#fff" stroke="#444" stroke-width="0.6" transform="rotate(-28 376.4 654.1)"/>
<ellipse cx="251.3" cy="633.3" rx="3.3" ry="2.3" fill="#fff" stroke="#444" stroke-width="0.6"/>
<ellipse cx="310.8" cy="685.5" rx="0.8" ry="0.8" fill="#444" stroke="#444" stroke-width="0.3"/>
<ellipse cx="380.7" cy="644.6" rx="2.2" ry="1.5" fill="#fff" stroke="#444" stroke-width="0.6"/>
<rect x="273.2" y="696.4" width="5.4" height="2.8" rx="1.4" fill="#fff" stroke="#444" stroke-width="0.6" transform="rotate(30 275.9 697.8)"/>
<ellipse cx="305.5" cy="623.4" rx="2.6" ry="1.8" fill="#fff" stroke="#444" stroke-width="0.6"/>
<rect x="220.8" y="630.0" width="4.8" height="2.8" rx="1.4" fill="#fff" stroke="#444" stroke-width="0.6" transform="rotate(-28 223.2 631.4)"/>
<ellipse cx="297.0" cy="670.5" rx="2.5" ry="1.8" fill="#fff" stroke="#444" stroke-width="0.6"/>
<rect x="362.5" y="641.8" width="4.3" height="2.8" rx="1.4" fill="#fff" stroke="#444" stroke-width="0.6" transform="rotate(-28 364.6 643.2)"/>
<ellipse cx="349.5" cy="625.4" rx="1.7" ry="1.2" fill="#fff" stroke="#444" stroke-width="0.6"/>
<ellipse cx="347.7" cy="653.2" rx="0.8" ry="0.8" fill="#444" stroke="#444" stroke-width="0.3"/>
<ellipse cx="296.9" cy="707.7" rx="3.3" ry="2.3" fill="#fff" stroke="#444" stroke-width="0.6"/>
<ellipse cx="254.2" cy="616.3" rx="2.2" ry="1.5" fill="#fff" stroke="#444" stroke-width="0.6"/>
<ellipse cx="256.0" cy="636.2" rx="2.5" ry="1.8" fill="#fff" stroke="#444" stroke-width="0.6"/>
<rect x="274.3" y="641.0" width="7.6" height="2.8" rx="1.4" fill="#fff" stroke="#444" stroke-width="0.6" transform="rotate(30 278.1 642.4)"/>
<rect x="375.2" y="664.8" width="4.6" height="2.8" rx="1.4" fill="#fff" stroke="#444" stroke-width="0.6" transform="rotate(-28 377.5 666.2)"/>
<rect x="303.6" y="683.2" width="5.3" height="2.8" rx="1.4" fill="#fff" stroke="#444" stroke-width="0.6" transform="rotate(30 306.3 684.6)"/>
<ellipse cx="326.7" cy="609.3" rx="2.4" ry="1.7" fill="#fff" stroke="#444" stroke-width="0.6"/>
<rect x="310.5" y="657.4" width="7.6" height="2.8" rx="1.4" fill="#fff" stroke="#444" stroke-width="0.6" transform="rotate(30 314.3 658.8)"/>
<ellipse cx="337.4" cy="601.5" rx="2.1" ry="1.5" fill="#fff" stroke="#444" stroke-width="0.6"/>
<ellipse cx="384.7" cy="650.2" rx="2.1" ry="1.5" fill="#fff" stroke="#444" stroke-width="0.6"/>
<ellipse cx="242.6" cy="640.7" rx="2.0" ry="1.4" fill="#fff" stroke="#444" stroke-width="0.6"/>
<ellipse cx="269.3" cy="676.0" rx="1.8" ry="1.3" fill="#fff" stroke="#444" stroke-width="0.6"/>
<ellipse cx="346.2" cy="627.9" rx="1.7" ry="1.2" fill="#fff" stroke="#444" stroke-width="0.6"/>
<ellipse cx="304.9" cy="688.0" rx="2.5" ry="1.7" fill="#fff" stroke="#444" stroke-width="0.6"/>
<ellipse cx="233.3" cy="675.5" rx="2.3" ry="1.6" fill="#fff" stroke="#444" stroke-width="0.6"/>
<ellipse cx="294.0" cy="626.3" rx="2.0" ry="1.4" fill="#fff" stroke="#444" stroke-width="0.6"/>
<rect x="271.7" y="641.1" width="5.5" height="2.8" rx="1.4" fill="#fff" stroke="#444" stroke-width="0.6" transform="rotate(30 274.4 642.5)"/>
<ellipse cx="315.4" cy="580.2" rx="0.8" ry="0.8" fill="#444" stroke="#444" stroke-width="0.3"/>
<ellipse cx="329.1" cy="680.7" rx="1.7" ry="1.2" fill="#fff" stroke="#444" stroke-width="0.6"/>
<ellipse cx="356.7" cy="637.2" rx="2.5" ry="1.8" fill="#fff" stroke="#444" stroke-width="0.6"/>
<rect x="297.8" y="622.2" width="7.7" height="2.8" rx="1.4" fill="#fff" stroke="#444" stroke-width="0.6" transform="rotate(30 301.6 623.6)"/>
<ellipse cx="342.7" cy="653.9" rx="2.0" ry="1.4" fill="#fff" stroke="#444" stroke-width="0.6"/>
<ellipse cx="353.0" cy="612.7" rx="4.6" ry="3.2" fill="#fff" stroke="#444" stroke-width="0.6"/>
<ellipse cx="315.8" cy="608.8" rx="2.3" ry="1.6" fill="#fff" stroke="#444" stroke-width="0.6"/>
<ellipse cx="347.8" cy="673.7" rx="2.5" ry="1.7" fill="#fff" stroke="#444" stroke-width="0.6"/>
<ellipse cx="351.3" cy="630.2" rx="2.6" ry="1.8" fill="#fff" stroke="#444" stroke-width="0.6"/>
<ellipse cx="335.7" cy="679.4" rx="1.8" ry="1.2" fill="#fff" stroke="#444" stroke-width="0.6"/>
<ellipse cx="280.6" cy="622.0" rx="0.8" ry="0.8" fill="#444" stroke="#444" stroke-width="0.3"/>
<ellipse cx="238.0" cy="623.0" rx="1.9" ry="1.3" fill="#fff" stroke="#444" stroke-width="0.6"/>
<rect x="347.0" y="607.8" width="4.4" height="2.8" rx="1.4" fill="#fff" stroke="#444" stroke-width="0.6" transform="rotate(-28 349.2 609.2)"/>
<ellipse cx="228.8" cy="662.7" rx="1.9" ry="1.3" fill="#fff" stroke="#444" stroke-width="0.6"/>
<rect x="375.8" y="662.9" width="6.9" height="2.8" rx="1.4" fill="#fff" stroke="#444" stroke-width="0.6" transform="rotate(30 379.2 664.3)"/>
<rect x="228.0" y="683.0" width="4.2" height="2.8" rx="1.4" fill="#fff" stroke="#444" stroke-width="0.6" transform="rotate(30 230.1 684.4)"/>
<ellipse cx="313.5" cy="701.9" rx="4.3" ry="3.0" fill="#fff" stroke="#444" stroke-width="0.6"/>
<ellipse cx="355.5" cy="679.5" rx="1.6" ry="1.1" fill="#fff" stroke="#444" stroke-width="0.6"/>
<ellipse cx="226.3" cy="627.0" rx="2.4" ry="1.7" fill="#fff" stroke="#444" stroke-width="0.6"/>
<rect x="322.9" y="667.8" width="6.7" height="2.8" rx="1.4" fill="#fff" stroke="#444" stroke-width="0.6" transform="rotate(30 326.3 669.2)"/>
<ellipse cx="257.0" cy="642.2" rx="2.5" ry="1.8" fill="#fff" stroke="#444" stroke-width="0.6"/>
<ellipse cx="318.6" cy="687.8" rx="2.4" ry="1.7" fill="#fff" stroke="#444" stroke-width="0.6"/>
<ellipse cx="347.7" cy="642.7" rx="3.1" ry="2.2" fill="#fff" stroke="#444" stroke-width="0.6"/>
<ellipse cx="206.0" cy="670.0" rx="2.2" ry="1.5" fill="#fff" stroke="#444" stroke-width="0.6"/>
<rect x="269.7" y="671.5" width="6.5" height="2.8" rx="1.4" fill="#fff" stroke="#444" stroke-width="0.6" transform="rotate(-28 273.0 672.9)"/>
<rect x="254.8" y="674.8" width="6.7" height="2.8" rx="1.4" fill="#fff" stroke="#444" stroke-width="0.6" transform="rotate(30 258.2 676.2)"/>
<ellipse cx="361.6" cy="615.1" rx="2.4" ry="1.7" fill="#fff" stroke="#444" stroke-width="0.6"/>
<ellipse cx="306.1" cy="615.8" rx="2.1" ry="1.5" fill="#fff" stroke="#444" stroke-width="0.6"/>
<ellipse cx="285.9" cy="714.8" rx="0.8" ry="0.8" fill="#444" stroke="#444" stroke-width="0.3"/>
<ellipse cx="370.7" cy="611.4" rx="2.2" ry="1.5" fill="#fff" stroke="#444" stroke-width="0.6"/>
<ellipse cx="343.4" cy="614.2" rx="2.0" ry="1.4" fill="#fff" stroke="#444" stroke-width="0.6"/>
<ellipse cx="287.6" cy="595.1" rx="0.8" ry="0.8" fill="#444" stroke="#444" stroke-width="0.3"/>
<rect x="352.3" y="632.7" width="5.7" height="2.8" rx="1.4" fill="#fff" stroke="#444" stroke-width="0.6" transform="rotate(30 355.2 634.1)"/>
<ellipse cx="269.3" cy="702.8" rx="2.4" ry="1.6" fill="#fff" stroke="#444" stroke-width="0.6"/>
<ellipse cx="282.5" cy="632.1" rx="0.8" ry="0.8" fill="#444" stroke="#444" stroke-width="0.3"/>
<ellipse cx="333.5" cy="627.0" rx="1.9" ry="1.3" fill="#fff" stroke="#444" stroke-width="0.6"/>
<ellipse cx="257.4" cy="650.7" rx="2.0" ry="1.4" fill="#fff" stroke="#444" stroke-width="0.6"/>
<ellipse cx="324.1" cy="683.7" rx="2.3" ry="1.6" fill="#fff" stroke="#444" stroke-width="0.6"/>
<rect x="298.4" y="687.5" width="5.1" height="2.8" rx="1.4" fill="#fff" stroke="#444" stroke-width="0.6" transform="rotate(-28 301.0 688.9)"/>
<ellipse cx="235.1" cy="635.5" rx="1.9" ry="1.3" fill="#fff" stroke="#444" stroke-width="0.6"/>
<ellipse cx="368.6" cy="673.1" rx="1.8" ry="1.3" fill="#fff" stroke="#444" stroke-width="0.6"/>
<ellipse cx="308.5" cy="675.7" rx="2.2" ry="1.6" fill="#fff" stroke="#444" stroke-width="0.6"/>
<ellipse cx="385.8" cy="657.0" rx="1.9" ry="1.4" fill="#fff" stroke="#444" stroke-width="0.6"/>
<ellipse cx="373.4" cy="637.5" rx="1.8" ry="1.3" fill="#fff" stroke="#444" stroke-width="0.6"/>
<ellipse cx="236.1" cy="657.8" rx="2.0" ry="1.4" fill="#fff" stroke="#444" stroke-width="0.6"/>
<ellipse cx="285.0" cy="687.8" rx="1.9" ry="1.3" fill="#fff" stroke="#444" stroke-width="0.6"/>
<rect x="369.0" y="647.3" width="5.4" height="2.8" rx="1.4" fill="#fff" stroke="#444" stroke-width="0.6" transform="rotate(-28 371.7 648.7)"/>
<ellipse cx="285.4" cy="672.0" rx="1.9" ry="1.3" fill="#fff" stroke="#444" stroke-width="0.6"/>
<rect x="221.3" y="635.8" width="7.2" height="2.8" rx="1.4" fill="#fff" stroke="#444" stroke-width="0.6" transform="rotate(30 224.9 637.2)"/>
<rect x="227.4" y="651.1" width="7.8" height="2.8" rx="1.4" fill="#fff" stroke="#444" stroke-width="0.6" transform="rotate(30 231.3 652.5)"/>
<ellipse cx="342.2" cy="653.5" rx="2.4" ry="1.7" fill="#fff" stroke="#444" stroke-width="0.6"/>
<ellipse cx="256.3" cy="694.9" rx="2.1" ry="1.5" fill="#fff" stroke="#444" stroke-width="0.6"/>
<ellipse cx="269.3" cy="702.6" rx="2.1" ry="1.5" fill="#fff" stroke="#444" stroke-width="0.6"/>
<ellipse cx="291.8" cy="672.6" rx="1.8" ry="1.3" fill="#fff" stroke="#444" stroke-width="0.6"/>
<ellipse cx="294.7" cy="628.5" rx="2.3" ry="1.6" fill="#fff" stroke="#444" stroke-width="0.6"/>
<ellipse cx="363.8" cy="627.2" rx="1.6" ry="1.1" fill="#fff" stroke="#444" stroke-width="0.6"/>
<ellipse cx="263.6" cy="703.5" rx="2.1" ry="1.5" fill="#fff" stroke="#444" stroke-width="0.6"/>
<ellipse cx="242.1" cy="691.0" rx="2.1" ry="1.4" fill="#fff" stroke="#444" stroke-width="0.6"/>
<ellipse cx="257.3" cy="710.5" rx="2.2" ry="1.6" fill="#fff" stroke="#444" stroke-width="0.6"/>
<ellipse cx="292.6" cy="682.2" rx="2.0" ry="1.4" fill="#fff" stroke="#444" stroke-width="0.6"/>
<ellipse cx="362.3" cy="619.6" rx="1.7" ry="1.2" fill="#fff" stroke="#444" stroke-width="0.6"/>
<ellipse cx="348.3" cy="652.9" rx="1.9" ry="1.3" fill="#fff" stroke="#444" stroke-width="0.6"/>
<rect x="370.7" y="628.7" width="5.2" height="2.8" rx="1.4" fill="#fff" stroke="#444" stroke-width="0.6" transform="rotate(30 373.3 630.1)"/>
<ellipse cx="215.6" cy="681.4" rx="2.1" ry="1.5" fill="#fff" stroke="#444" stroke-width="0.6"/>
<rect x="296.9" y="619.7" width="5.9" height="2.8" rx="1.4" fill="#fff" stroke="#444" stroke-width="0.6" transform="rotate(30 299.9 621.1)"/>
<ellipse cx="253.3" cy="668.8" rx="2.0" ry="1.4" fill="#fff" stroke="#444" stroke-width="0.6"/>
<ellipse cx="304.1" cy="696.9" rx="1.8" ry="1.3" fill="#fff" stroke="#444" stroke-width="0.6"/>
<ellipse cx="209.8" cy="665.7" rx="1.9" ry="1.4" fill="#fff" stroke="#444" stroke-width="0.6"/>
<ellipse cx="364.6" cy="664.1" rx="4.5" ry="3.2" fill="#fff" stroke="#444" stroke-width="0.6"/>
<ellipse cx="220.2" cy="683.1" rx="2.4" ry="1.7" fill="#fff" stroke="#444" stroke-width="0.6"/>
<rect x="300.3" y="692.4" width="6.0" height="2.8" rx="1.4" fill="#fff" stroke="#444" stroke-width="0.6" transform="rotate(30 303.3 693.8)"/>
<ellipse cx="324.9" cy="621.5" rx="0.8" ry="0.8" fill="#444" stroke="#444" stroke-width="0.3"/>
<ellipse cx="361.8" cy="640.6" rx="2.0" ry="1.4" fill="#fff" stroke="#444" stroke-width="0.6"/>
<rect x="337.1" y="675.1" width="7.4" height="2.8" rx="1.4" fill="#fff" stroke="#444" stroke-width="0.6" transform="rotate(-28 340.8 676.5)"/>
<ellipse cx="378.2" cy="616.4" rx="1.9" ry="1.3" fill="#fff" stroke="#444" stroke-width="0.6"/>
<ellipse cx="254.7" cy="611.1" rx="1.8" ry="1.3" fill="#fff" stroke="#444" stroke-width="0.6"/>
<ellipse cx="250.3" cy="614.5" rx="0.8" ry="0.8" fill="#444" stroke="#444" stroke-width="0.3"/>
<ellipse cx="254.1" cy="608.9" rx="2.2" ry="1.6" fill="#fff" stroke="#444" stroke-width="0.6"/>
<ellipse cx="300.3" cy="629.1" rx="3.4" ry="2.4" fill="#fff" stroke="#444" stroke-width="0.6"/>
<rect x="233.4" y="663.9" width="6.7" height="2.8" rx="1.4" fill="#fff" stroke="#444" stroke-width="0.6" transform="rotate(-28 236.8 665.3)"/>
<rect x="217.4" y="662.8" width="4.9" height="2.8" rx="1.4" fill="#fff" stroke="#444" stroke-width="0.6" transform="rotate(30 219.9 664.2)"/>
<rect x="289.0" y="627.3" width="4.3" height="2.8" rx="1.4" fill="#fff" stroke="#444" stroke-width="0.6" transform="rotate(-28 291.1 628.7)"/>
<ellipse cx="381.9" cy="656.6" rx="1.7" ry="1.2" fill="#fff" stroke="#444" stroke-width="0.6"/>
<rect x="285.7" y="655.5" width="4.4" height="2.8" rx="1.4" fill="#fff" stroke="#444" stroke-width="0.6" transform="rotate(-28 287.9 656.9)"/>
<ellipse cx="288.5" cy="612.8" rx="0.8" ry="0.8" fill="#444" stroke="#444" stroke-width="0.3"/>
<ellipse cx="351.9" cy="636.0" rx="2.3" ry="1.6" fill="#fff" stroke="#444" stroke-width="0.6"/>
<ellipse cx="402.7" cy="635.4" rx="2.4" ry="1.7" fill="#fff" stroke="#444" stroke-width="0.6"/>
<ellipse cx="286.8" cy="634.0" rx="0.8" ry="0.8" fill="#444" stroke="#444" stroke-width="0.3"/>
<ellipse cx="297.0" cy="594.7" rx="1.7" ry="1.2" fill="#fff" stroke="#444" stroke-width="0.6"/>
<rect x="328.5" y="626.2" width="4.5" height="2.8" rx="1.4" fill="#fff" stroke="#444" stroke-width="0.6" transform="rotate(-28 330.8 627.6)"/>
<ellipse cx="324.6" cy="671.2" rx="0.8" ry="0.8" fill="#444" stroke="#444" stroke-width="0.3"/>
<ellipse cx="215.9" cy="668.3" rx="2.1" ry="1.5" fill="#fff" stroke="#444" stroke-width="0.6"/>
<ellipse cx="220.6" cy="647.5" rx="4.5" ry="3.2" fill="#fff" stroke="#444" stroke-width="0.6"/>
<ellipse cx="308.4" cy="578.4" rx="0.8" ry="0.8" fill="#444" stroke="#444" stroke-width="0.3"/>
<rect x="282.5" y="711.5" width="7.3" height="2.8" rx="1.4" fill="#fff" stroke="#444" stroke-width="0.6" transform="rotate(-28 286.2 712.9)"/>
<ellipse cx="340.9" cy="667.1" rx="2.1" ry="1.5" fill="#fff" stroke="#444" stroke-width="0.6"/>
<ellipse cx="279.4" cy="593.6" rx="0.8" ry="0.8" fill="#444" stroke="#444" stroke-width="0.3"/>
<ellipse cx="353.0" cy="675.5" rx="2.0" ry="1.4" fill="#fff" stroke="#444" stroke-width="0.6"/>
<rect x="298.8" y="702.7" width="6.6" height="2.8" rx="1.4" fill="#fff" stroke="#444" stroke-width="0.6" transform="rotate(30 302.1 704.1)"/>
<rect x="329.0" y="635.9" width="5.8" height="2.8" rx="1.4" fill="#fff" stroke="#444" stroke-width="0.6" transform="rotate(30 331.9 637.3)"/>
<ellipse cx="300.0" cy="667.7" rx="4.3" ry="3.0" fill="#fff" stroke="#444" stroke-width="0.6"/>
<ellipse cx="385.5" cy="633.3" rx="2.0" ry="1.4" fill="#fff" stroke="#444" stroke-width="0.6"/>
<ellipse cx="280.9" cy="696.8" rx="2.3" ry="1.6" fill="#fff" stroke="#444" stroke-width="0.6"/>
<ellipse cx="339.3" cy="679.4" rx="1.7" ry="1.2" fill="#fff" stroke="#444" stroke-width="0.6"/>
<rect x="244.5" y="700.2" width="5.0" height="2.8" rx="1.4" fill="#fff" stroke="#444" stroke-width="0.6" transform="rotate(30 247.0 701.6)"/>
<ellipse cx="313.9" cy="620.4" rx="1.8" ry="1.2" fill="#fff" stroke="#444" stroke-width="0.6"/>
<ellipse cx="234.7" cy="694.0" rx="2.1" ry="1.5" fill="#fff" stroke="#444" stroke-width="0.6"/>
<ellipse cx="344.5" cy="626.8" rx="3.9" ry="2.7" fill="#fff" stroke="#444" stroke-width="0.6"/>
<rect x="340.5" y="630.9" width="5.1" height="2.8" rx="1.4" fill="#fff" stroke="#444" stroke-width="0.6" transform="rotate(30 343.0 632.3)"/>
<rect x="327.8" y="625.5" width="5.8" height="2.8" rx="1.4" fill="#fff" stroke="#444" stroke-width="0.6" transform="rotate(-28 330.7 626.9)"/>
<ellipse cx="264.7" cy="651.5" rx="2.6" ry="1.8" fill="#fff" stroke="#444" stroke-width="0.6"/>
<ellipse cx="263.4" cy="668.8" rx="2.0" ry="1.4" fill="#fff" stroke="#444" stroke-width="0.6"/>
<ellipse cx="266.4" cy="652.6" rx="2.0" ry="1.4" fill="#fff" stroke="#444" stroke-width="0.6"/>
<ellipse cx="281.1" cy="700.9" rx="1.6" ry="1.1" fill="#fff" stroke="#444" stroke-width="0.6"/>
<ellipse cx="229.0" cy="675.1" rx="2.4" ry="1.7" fill="#fff" stroke="#444" stroke-width="0.6"/>
<rect x="331.7" y="660.0" width="6.1" height="2.8" rx="1.4" fill="#fff" stroke="#444" stroke-width="0.6" transform="rotate(30 334.8 661.4)"/>
<ellipse cx="290.4" cy="607.6" rx="2.4" ry="1.7" fill="#fff" stroke="#444" stroke-width="0.6"/>
<ellipse cx="241.9" cy="666.1" rx="2.2" ry="1.6" fill="#fff" stroke="#444" stroke-width="0.6"/>
<ellipse cx="267.7" cy="617.4" rx="2.5" ry="1.7" fill="#fff" stroke="#444" stroke-width="0.6"/>
<rect x="367.2" y="642.1" width="5.8" height="2.8" rx="1.4" fill="#fff" stroke="#444" stroke-width="0.6" transform="rotate(-28 370.1 643.5)"/>
<rect x="204.0" y="669.1" width="6.7" height="2.8" rx="1.4" fill="#fff" stroke="#444" stroke-width="0.6" transform="rotate(30 207.3 670.5)"/>
<ellipse cx="314.2" cy="596.8" rx="0.8" ry="0.8" fill="#444" stroke="#444" stroke-width="0.3"/>
<rect x="237.3" y="630.0" width="5.5" height="2.8" rx="1.4" fill="#fff" stroke="#444" stroke-width="0.6" transform="rotate(30 240.1 631.4)"/>
<ellipse cx="306.0" cy="653.8" rx="1.6" ry="1.1" fill="#fff" stroke="#444" stroke-width="0.6"/>
<rect x="284.7" y="661.1" width="4.7" height="2.8" rx="1.4" fill="#fff" stroke="#444" stroke-width="0.6" transform="rotate(-28 287.0 662.5)"/>
<rect x="341.8" y="678.7" width="4.3" height="2.8" rx="1.4" fill="#fff" stroke="#444" stroke-width="0.6" transform="rotate(30 344.0 680.1)"/>
<ellipse cx="320.5" cy="674.9" rx="4.2" ry="2.9" fill="#fff" stroke="#444" stroke-width="0.6"/>
<ellipse cx="362.1" cy="630.6" rx="1.8" ry="1.3" fill="#fff" stroke="#444" stroke-width="0.6"/>
<ellipse cx="343.6" cy="645.4" rx="2.4" ry="1.7" fill="#fff" stroke="#444" stroke-width="0.6"/>
<ellipse cx="346.9" cy="616.5" rx="1.9" ry="1.3" fill="#fff" stroke="#444" stroke-width="0.6"/>
<ellipse cx="277.5" cy="717.0" rx="2.4" ry="1.7" fill="#fff" stroke="#444" stroke-width="0.6"/>
<ellipse cx="336.5" cy="645.2" rx="2.3" ry="1.6" fill="#fff" stroke="#444" stroke-width="0.6"/>
<ellipse cx="316.9" cy="585.5" rx="1.6" ry="1.2" fill="#fff" stroke="#444" stroke-width="0.6"/>
<ellipse cx="328.0" cy="682.9" rx="3.9" ry="2.7" fill="#fff" stroke="#444" stroke-width="0.6"/>
<ellipse cx="262.5" cy="638.9" rx="1.9" ry="1.3" fill="#fff" stroke="#444" stroke-width="0.6"/>
<ellipse cx="330.8" cy="595.1" rx="4.5" ry="3.2" fill="#fff" stroke="#444" stroke-width="0.6"/>
<ellipse cx="326.9" cy="586.5" rx="1.7" ry="1.2" fill="#fff" stroke="#444" stroke-width="0.6"/>
<rect x="367.4" y="635.3" width="5.5" height="2.8" rx="1.4" fill="#fff" stroke="#444" stroke-width="0.6" transform="rotate(30 370.1 636.7)"/>
<ellipse cx="312.8" cy="629.9" rx="3.4" ry="2.4" fill="#fff" stroke="#444" stroke-width="0.6"/>
<rect x="299.8" y="652.6" width="7.0" height="2.8" rx="1.4" fill="#fff" stroke="#444" stroke-width="0.6" transform="rotate(-28 303.3 654.0)"/>
<ellipse cx="276.9" cy="621.6" rx="2.4" ry="1.7" fill="#fff" stroke="#444" stroke-width="0.6"/>
<rect x="231.7" y="637.9" width="6.3" height="2.8" rx="1.4" fill="#fff" stroke="#444" stroke-width="0.6" transform="rotate(-28 234.8 639.3)"/>
<rect x="270.5" y="670.1" width="6.0" height="2.8" rx="1.4" fill="#fff" stroke="#444" stroke-width="0.6" transform="rotate(30 273.5 671.5)"/>
<ellipse cx="265.9" cy="681.1" rx="3.2" ry="2.3" fill="#fff" stroke="#444" stroke-width="0.6"/>
<ellipse cx="271.7" cy="652.5" rx="1.9" ry="1.3" fill="#fff" stroke="#444" stroke-width="0.6"/>
<rect x="295.0" y="599.6" width="4.4" height="2.8" rx="1.4" fill="#fff" stroke="#444" stroke-width="0.6" transform="rotate(-28 297.2 601.0)"/>
<ellipse cx="403.0" cy="643.3" rx="2.5" ry="1.7" fill="#fff" stroke="#444" stroke-width="0.6"/>
<ellipse cx="297.6" cy="605.1" rx="0.8" ry="0.8" fill="#444" stroke="#444" stroke-width="0.3"/>
<ellipse cx="255.4" cy="686.6" rx="1.8" ry="1.3" fill="#fff" stroke="#444" stroke-width="0.6"/>
<ellipse cx="333.0" cy="672.3" rx="4.1" ry="2.8" fill="#fff" stroke="#444" stroke-width="0.6"/>
<ellipse cx="345.8" cy="662.2" rx="1.8" ry="1.2" fill="#fff" stroke="#444" stroke-width="0.6"/>
<ellipse cx="224.2" cy="638.3" rx="2.3" ry="1.6" fill="#fff" stroke="#444" stroke-width="0.6"/>
<ellipse cx="289.0" cy="682.6" rx="2.4" ry="1.7" fill="#fff" stroke="#444" stroke-width="0.6"/>
<rect x="393.0" y="650.5" width="7.5" height="2.8" rx="1.4" fill="#fff" stroke="#444" stroke-width="0.6" transform="rotate(30 396.8 651.9)"/>
<ellipse cx="377.9" cy="631.4" rx="2.6" ry="1.8" fill="#fff" stroke="#444" stroke-width="0.6"/>
<ellipse cx="232.8" cy="693.5" rx="0.8" ry="0.8" fill="#444" stroke="#444" stroke-width="0.3"/>
<rect x="313.9" y="584.6" width="6.2" height="2.8" rx="1.4" fill="#fff" stroke="#444" stroke-width="0.6" transform="rotate(30 317.0 586.0)"/>
<ellipse cx="315.4" cy="671.0" rx="3.8" ry="2.7" fill="#fff" stroke="#444" stroke-width="0.6"/>
<ellipse cx="244.4" cy="678.1" rx="2.4" ry="1.7" fill="#fff" stroke="#444" stroke-width="0.6"/>
<ellipse cx="259.5" cy="633.2" rx="2.0" ry="1.4" fill="#fff" stroke="#444" stroke-width="0.6"/>
<ellipse cx="293.8" cy="680.3" rx="1.9" ry="1.3" fill="#fff" stroke="#444" stroke-width="0.6"/>
<ellipse cx="247.7" cy="687.2" rx="0.8" ry="0.8" fill="#444" stroke="#444" stroke-width="0.3"/>
<ellipse cx="318.9" cy="604.6" rx="3.6" ry="2.5" fill="#fff" stroke="#444" stroke-width="0.6"/>
<rect x="341.6" y="642.7" width="4.9" height="2.8" rx="1.4" fill="#fff" stroke="#444" stroke-width="0.6" transform="rotate(-28 344.1 644.1)"/>
<ellipse cx="278.0" cy="670.9" rx="4.3" ry="3.0" fill="#fff" stroke="#444" stroke-width="0.6"/>
<ellipse cx="305.0" cy="616.5" rx="1.7" ry="1.2" fill="#fff" stroke="#444" stroke-width="0.6"/>
<ellipse cx="390.9" cy="626.0" rx="3.4" ry="2.4" fill="#fff" stroke="#444" stroke-width="0.6"/>
<ellipse cx="283.4" cy="610.1" rx="1.8" ry="1.3" fill="#fff" stroke="#444" stroke-width="0.6"/>
<ellipse cx="261.1" cy="608.7" rx="2.1" ry="1.5" fill="#fff" stroke="#444" stroke-width="0.6"/>
<rect x="293.0" y="669.3" width="5.4" height="2.8" rx="1.4" fill="#fff" stroke="#444" stroke-width="0.6" transform="rotate(30 295.7 670.7)"/>
<ellipse cx="377.4" cy="624.7" rx="2.5" ry="1.8" fill="#fff" stroke="#444" stroke-width="0.6"/>
<rect x="354.9" y="652.5" width="5.8" height="2.8" rx="1.4" fill="#fff" stroke="#444" stroke-width="0.6" transform="rotate(-28 357.8 653.9)"/>
<ellipse cx="325.4" cy="611.8" rx="1.7" ry="1.2" fill="#fff" stroke="#444" stroke-width="0.6"/>
<ellipse cx="310.9" cy="579.2" rx="1.7" ry="1.2" fill="#fff" stroke="#444" stroke-width="0.6"/>
<ellipse cx="310.5" cy="648.7" rx="2.5" ry="1.7" fill="#fff" stroke="#444" stroke-width="0.6"/>
<rect x="301.3" y="657.5" width="7.4" height="2.8" rx="1.4" fill="#fff" stroke="#444" stroke-width="0.6" transform="rotate(30 305.0 658.9)"/>
<ellipse cx="279.7" cy="672.2" rx="1.6" ry="1.2" fill="#fff" stroke="#444" stroke-width="0.6"/>
<ellipse cx="308.8" cy="689.6" rx="1.8" ry="1.3" fill="#fff" stroke="#444" stroke-width="0.6"/>
<ellipse cx="292.7" cy="590.1" rx="2.3" ry="1.6" fill="#fff" stroke="#444" stroke-width="0.6"/>
<rect x="271.4" y="691.6" width="7.6" height="2.8" rx="1.4" fill="#fff" stroke="#444" stroke-width="0.6" transform="rotate(30 275.2 693.0)"/>
<rect x="293.6" y="635.3" width="7.3" height="2.8" rx="1.4" fill="#fff" stroke="#444" stroke-width="0.6" transform="rotate(30 297.3 636.7)"/>
<ellipse cx="278.5" cy="648.0" rx="2.6" ry="1.8" fill="#fff" stroke="#444" stroke-width="0.6"/>
<ellipse cx="242.8" cy="647.8" rx="1.8" ry="1.3" fill="#fff" stroke="#444" stroke-width="0.6"/>
<rect x="322.5" y="632.8" width="5.6" height="2.8" rx="1.4" fill="#fff" stroke="#444" stroke-width="0.6" transform="rotate(-28 325.3 634.2)"/>
<rect x="336.7" y="667.6" width="6.4" height="2.8" rx="1.4" fill="#fff" stroke="#444" stroke-width="0.6" transform="rotate(-28 339.9 669.0)"/>
<ellipse cx="244.9" cy="675.4" rx="2.4" ry="1.7" fill="#fff" stroke="#444" stroke-width="0.6"/>
<rect x="278.6" y="698.6" width="6.2" height="2.8" rx="1.4" fill="#fff" stroke="#444" stroke-width="0.6" transform="rotate(30 281.7 700.0)"/>
<ellipse cx="328.1" cy="661.4" rx="0.8" ry="0.8" fill="#444" stroke="#444" stroke-width="0.3"/>
<ellipse cx="312.0" cy="652.5" rx="4.2" ry="3.0" fill="#fff" stroke="#444" stroke-width="0.6"/>
<ellipse cx="294.0" cy="679.9" rx="1.7" ry="1.2" fill="#fff" stroke="#444" stroke-width="0.6"/>
<ellipse cx="354.8" cy="663.8" rx="0.8" ry="0.8" fill="#444" stroke="#444" stroke-width="0.3"/>
<ellipse cx="375.9" cy="656.7" rx="2.1" ry="1.5" fill="#fff" stroke="#444" stroke-width="0.6"/>
<ellipse cx="223.5" cy="644.6" rx="2.2" ry="1.5" fill="#fff" stroke="#444" stroke-width="0.6"/>
<ellipse cx="300.9" cy="687.6" rx="0.8" ry="0.8" fill="#444" stroke="#444" stroke-width="0.3"/>
<rect x="278.7" y="686.7" width="4.6" height="2.8" rx="1.4" fill="#fff" stroke="#444" stroke-width="0.6" transform="rotate(-28 281.0 688.1)"/>
<ellipse cx="263.9" cy="658.1" rx="2.3" ry="1.6" fill="#fff" stroke="#444" stroke-width="0.6"/>
<ellipse cx="356.4" cy="667.7" rx="1.9" ry="1.3" fill="#fff" stroke="#444" stroke-width="0.6"/>
<ellipse cx="366.0" cy="644.2" rx="2.6" ry="1.8" fill="#fff" stroke="#444" stroke-width="0.6"/>
<ellipse cx="307.1" cy="692.9" rx="1.9" ry="1.3" fill="#fff" stroke="#444" stroke-width="0.6"/>
<ellipse cx="372.4" cy="622.8" rx="2.2" ry="1.6" fill="#fff" stroke="#444" stroke-width="0.6"/>
<ellipse cx="252.8" cy="631.2" rx="2.4" ry="1.7" fill="#fff" stroke="#444" stroke-width="0.6"/>
<rect x="247.4" y="639.9" width="5.3" height="2.8" rx="1.4" fill="#fff" stroke="#444" stroke-width="0.6" transform="rotate(30 250.1 641.3)"/>
<rect x="304" y="596" width="26" height="8" fill="none" stroke="#444" stroke-width="0.6" transform="rotate(30 317 600)"/>
<rect x="236" y="625" width="10" height="6" fill="none" stroke="#444" stroke-width="0.6" transform="rotate(-30 241 628)"/>
<rect x="268" y="596" width="14" height="5" rx="2" fill="none" stroke="#444" stroke-width="0.6" transform="rotate(-30 275 598)"/>
<rect x="280" y="602" width="14" height="5" rx="2" fill="none" stroke="#444" stroke-width="0.6" transform="rotate(-30 287 604)"/>
<ellipse cx="427.5" cy="643.5" rx="3.2" ry="2.2" fill="#fff" stroke="#262626" stroke-width="0.8"/>
<ellipse cx="427.5" cy="654.2" rx="3.2" ry="2.2" fill="#fff" stroke="#262626" stroke-width="0.8"/>
<ellipse cx="427.5" cy="664.9" rx="3.2" ry="2.2" fill="#fff" stroke="#262626" stroke-width="0.8"/>
<line x1="651.5" y1="103.0" x2="651.5" y2="118.0" stroke="#2a2a2a" stroke-width="1.0"/>
<line x1="692.5" y1="124.0" x2="692.5" y2="143.6" stroke="#2a2a2a" stroke-width="1.0"/>
<line x1="666.5" y1="130.8" x2="666.5" y2="152.0" stroke="#2a2a2a" stroke-width="1.0"/>
<line x1="760.5" y1="94.5" x2="760.5" y2="111.2" stroke="#2a2a2a" stroke-width="1.0"/>
<line x1="792.5" y1="113.2" x2="792.5" y2="128.9" stroke="#2a2a2a" stroke-width="1.0"/>
<line x1="832.5" y1="133.8" x2="832.5" y2="152.4" stroke="#2a2a2a" stroke-width="1.0"/>
<line x1="770.5" y1="122.0" x2="770.5" y2="137.7" stroke="#2a2a2a" stroke-width="1.0"/>
<line x1="806.5" y1="142.6" x2="806.5" y2="162.2" stroke="#2a2a2a" stroke-width="1.0"/>
<line x1="906.5" y1="108.3" x2="906.5" y2="124.0" stroke="#2a2a2a" stroke-width="1.0"/>
<line x1="940.5" y1="124.5" x2="940.5" y2="144.5" stroke="#2a2a2a" stroke-width="1.0"/>
<line x1="890.5" y1="121.0" x2="890.5" y2="135.1" stroke="#2a2a2a" stroke-width="1.0"/>
<line x1="919.5" y1="136.7" x2="919.5" y2="152.4" stroke="#2a2a2a" stroke-width="1.0"/>
<line x1="1022.5" y1="105.3" x2="1022.5" y2="121.0" stroke="#2a2a2a" stroke-width="1.0"/>
<line x1="1056.5" y1="122.6" x2="1056.5" y2="140.6" stroke="#2a2a2a" stroke-width="1.0"/>
<line x1="1007.5" y1="119.0" x2="1007.5" y2="132.8" stroke="#2a2a2a" stroke-width="1.0"/>
<line x1="1035.5" y1="134.7" x2="1035.5" y2="150.4" stroke="#2a2a2a" stroke-width="1.0"/>
<line x1="1127.5" y1="105.0" x2="1127.5" y2="120.9" stroke="#2a2a2a" stroke-width="1.0"/>
<line x1="1161.5" y1="121.5" x2="1161.5" y2="140.7" stroke="#2a2a2a" stroke-width="1.0"/>
<line x1="1141.5" y1="134.0" x2="1141.5" y2="150.0" stroke="#2a2a2a" stroke-width="1.0"/>
<line x1="657.5" y1="239.7" x2="657.5" y2="255.0" stroke="#2a2a2a" stroke-width="1.0"/>
<line x1="691.5" y1="256.0" x2="691.5" y2="274.6" stroke="#2a2a2a" stroke-width="1.0"/>
<line x1="670.5" y1="267.8" x2="670.5" y2="284.4" stroke="#2a2a2a" stroke-width="1.0"/>
<line x1="781.5" y1="240.3" x2="781.5" y2="256.0" stroke="#2a2a2a" stroke-width="1.0"/>
<line x1="820.5" y1="260.0" x2="820.5" y2="279.5" stroke="#2a2a2a" stroke-width="1.0"/>
<line x1="765.5" y1="251.5" x2="765.5" y2="266.8" stroke="#2a2a2a" stroke-width="1.0"/>
<line x1="795.5" y1="269.7" x2="795.5" y2="289.3" stroke="#2a2a2a" stroke-width="1.0"/>
<line x1="903.5" y1="240.9" x2="903.5" y2="256.0" stroke="#2a2a2a" stroke-width="1.0"/>
<line x1="942.5" y1="260.5" x2="942.5" y2="279.5" stroke="#2a2a2a" stroke-width="1.0"/>
<line x1="887.5" y1="252.0" x2="887.5" y2="262.9" stroke="#2a2a2a" stroke-width="1.0"/>
<line x1="917.5" y1="270.7" x2="917.5" y2="290.3" stroke="#2a2a2a" stroke-width="1.0"/>
<line x1="994.5" y1="229.1" x2="994.5" y2="244.2" stroke="#2a2a2a" stroke-width="1.0"/>
<line x1="1027.5" y1="248.2" x2="1027.5" y2="262.9" stroke="#2a2a2a" stroke-width="1.0"/>
<line x1="1010.5" y1="259.0" x2="1010.5" y2="268.7" stroke="#2a2a2a" stroke-width="1.0"/>
<line x1="1046.5" y1="279.5" x2="1046.5" y2="298.2" stroke="#2a2a2a" stroke-width="1.0"/>
<line x1="1135.5" y1="235.7" x2="1135.5" y2="250.9" stroke="#2a2a2a" stroke-width="1.0"/>
<line x1="1171.5" y1="253.3" x2="1171.5" y2="270.7" stroke="#2a2a2a" stroke-width="1.0"/>
<line x1="1119.5" y1="247.0" x2="1119.5" y2="262.8" stroke="#2a2a2a" stroke-width="1.0"/>
<line x1="1145.5" y1="262.8" x2="1145.5" y2="282.6" stroke="#2a2a2a" stroke-width="1.0"/>
<line x1="642.5" y1="360.6" x2="642.5" y2="376.3" stroke="#2a2a2a" stroke-width="1.0"/>
<line x1="673.5" y1="373.3" x2="673.5" y2="392.9" stroke="#2a2a2a" stroke-width="1.0"/>
<line x1="704.5" y1="391.4" x2="704.5" y2="411.6" stroke="#2a2a2a" stroke-width="1.0"/>
<line x1="657.5" y1="390.0" x2="657.5" y2="408.6" stroke="#2a2a2a" stroke-width="1.0"/>
<line x1="688.5" y1="406.7" x2="688.5" y2="423.3" stroke="#2a2a2a" stroke-width="1.0"/>
<line x1="788.5" y1="369.0" x2="788.5" y2="387.0" stroke="#2a2a2a" stroke-width="1.0"/>
<line x1="819.5" y1="387.5" x2="819.5" y2="406.7" stroke="#2a2a2a" stroke-width="1.0"/>
<line x1="770.5" y1="385.1" x2="770.5" y2="399.8" stroke="#2a2a2a" stroke-width="1.0"/>
<line x1="803.5" y1="402.7" x2="803.5" y2="419.4" stroke="#2a2a2a" stroke-width="1.0"/>
<line x1="907.5" y1="371.0" x2="907.5" y2="391.4" stroke="#2a2a2a" stroke-width="1.0"/>
<line x1="937.5" y1="387.5" x2="937.5" y2="406.7" stroke="#2a2a2a" stroke-width="1.0"/>
<line x1="890.5" y1="386.1" x2="890.5" y2="404.7" stroke="#2a2a2a" stroke-width="1.0"/>
<line x1="921.5" y1="402.7" x2="921.5" y2="418.4" stroke="#2a2a2a" stroke-width="1.0"/>
<line x1="1025.5" y1="367.5" x2="1025.5" y2="390.0" stroke="#2a2a2a" stroke-width="1.0"/>
<line x1="1056.5" y1="387.5" x2="1056.5" y2="406.7" stroke="#2a2a2a" stroke-width="1.0"/>
<line x1="1008.5" y1="386.0" x2="1008.5" y2="404.7" stroke="#2a2a2a" stroke-width="1.0"/>
<line x1="1040.5" y1="402.7" x2="1040.5" y2="418.4" stroke="#2a2a2a" stroke-width="1.0"/>
<line x1="1139.5" y1="366.4" x2="1139.5" y2="391.5" stroke="#2a2a2a" stroke-width="1.0"/>
<line x1="1170.5" y1="386.9" x2="1170.5" y2="407.4" stroke="#2a2a2a" stroke-width="1.0"/>
<line x1="1122.5" y1="385.6" x2="1122.5" y2="405.4" stroke="#2a2a2a" stroke-width="1.0"/>
<line x1="1154.5" y1="402.1" x2="1154.5" y2="418.6" stroke="#2a2a2a" stroke-width="1.0"/>
<line x1="645.5" y1="497.9" x2="645.5" y2="514.2" stroke="#2a2a2a" stroke-width="1.0"/>
<line x1="674.5" y1="512.8" x2="674.5" y2="532.8" stroke="#2a2a2a" stroke-width="1.0"/>
<line x1="705.5" y1="530.5" x2="705.5" y2="549.5" stroke="#2a2a2a" stroke-width="1.0"/>
<line x1="657.5" y1="528.9" x2="657.5" y2="546.2" stroke="#2a2a2a" stroke-width="1.0"/>
<line x1="689.5" y1="545.6" x2="689.5" y2="562.2" stroke="#2a2a2a" stroke-width="1.0"/>
<line x1="785.5" y1="506.4" x2="785.5" y2="526.9" stroke="#2a2a2a" stroke-width="1.0"/>
<line x1="815.5" y1="524.0" x2="815.5" y2="543.6" stroke="#2a2a2a" stroke-width="1.0"/>
<line x1="768.5" y1="522.0" x2="768.5" y2="541.6" stroke="#2a2a2a" stroke-width="1.0"/>
<line x1="799.5" y1="539.7" x2="799.5" y2="556.0" stroke="#2a2a2a" stroke-width="1.0"/>
<line x1="894.5" y1="508.3" x2="894.5" y2="525.0" stroke="#2a2a2a" stroke-width="1.0"/>
<line x1="931.5" y1="523.4" x2="931.5" y2="542.6" stroke="#2a2a2a" stroke-width="1.0"/>
<line x1="909.5" y1="536.7" x2="909.5" y2="552.4" stroke="#2a2a2a" stroke-width="1.0"/>
<line x1="1026.5" y1="509.3" x2="1026.5" y2="529.9" stroke="#2a2a2a" stroke-width="1.0"/>
<line x1="1057.5" y1="529.9" x2="1057.5" y2="545.6" stroke="#2a2a2a" stroke-width="1.0"/>
<line x1="1006.5" y1="524.0" x2="1006.5" y2="540.7" stroke="#2a2a2a" stroke-width="1.0"/>
<line x1="1044.5" y1="545.6" x2="1044.5" y2="560.3" stroke="#2a2a2a" stroke-width="1.0"/>
<line x1="1155.5" y1="504.1" x2="1155.5" y2="518.9" stroke="#2a2a2a" stroke-width="1.0"/>
<line x1="1112.5" y1="528.2" x2="1112.5" y2="543.4" stroke="#2a2a2a" stroke-width="1.0"/>
<line x1="1172.5" y1="518.3" x2="1172.5" y2="533.5" stroke="#2a2a2a" stroke-width="1.0"/>
<line x1="1136.5" y1="536.1" x2="1136.5" y2="552.6" stroke="#2a2a2a" stroke-width="1.0"/>
<g transform="translate(651.0 121.1) rotate(30)">
<rect x="-4.5" y="-1.7" width="9" height="3.4" fill="#ccc" stroke="#666" stroke-width="0.6"/>
<line x1="-5.0" y1="-1.7" x2="-4.0" y2="1.7" stroke="#555" stroke-width="0.6"/>
<line x1="-3.5" y1="-1.7" x2="-2.5" y2="1.7" stroke="#555" stroke-width="0.6"/>
<line x1="-2.0" y1="-1.7" x2="-1.0" y2="1.7" stroke="#555" stroke-width="0.6"/>
<line x1="-0.5" y1="-1.7" x2="0.5" y2="1.7" stroke="#555" stroke-width="0.6"/>
<line x1="1.0" y1="-1.7" x2="2.0" y2="1.7" stroke="#555" stroke-width="0.6"/>
<line x1="2.5" y1="-1.7" x2="3.5" y2="1.7" stroke="#555" stroke-width="0.6"/>
<line x1="4.0" y1="-1.7" x2="5.0" y2="1.7" stroke="#555" stroke-width="0.6"/>
</g>
<g transform="translate(667.5 130.3) rotate(28)">
<rect x="-8.0" y="-1.3" width="16" height="2.6" fill="#fff" stroke="#262626" stroke-width="0.8"/>
<ellipse cx="8.0" cy="0" rx="0.8" ry="1.3" fill="#111" stroke="#111" stroke-width="0.8"/>
</g>
<g transform="translate(691.0 144.0) rotate(30)">
<rect x="-10.0" y="-2.3400000000000003" width="7" height="4.680000000000001" fill="#fff" stroke="#262626" stroke-width="0.9"/>
<ellipse cx="-10.0" cy="0" rx="1.2" ry="2.3400000000000003" fill="#fff" stroke="#262626" stroke-width="0.9"/>
<ellipse cx="-7.0" cy="0" rx="1.1" ry="2.3400000000000003" fill="none" stroke="#222" stroke-width="0.9"/>
<ellipse cx="-4.6" cy="0" rx="1.1" ry="2.3400000000000003" fill="none" stroke="#222" stroke-width="0.9"/>
<rect x="-3.0" y="-1" width="4" height="2" fill="#fff" stroke="#262626" stroke-width="0.7"/>
<rect x="1.0" y="-2.6" width="9" height="5.2" fill="#fff" stroke="#262626" stroke-width="0.9"/>
<ellipse cx="1.0" cy="0" rx="1.2" ry="2.6" fill="#fff" stroke="#262626" stroke-width="0.9"/>
<ellipse cx="10.0" cy="0" rx="1.3" ry="2.6" fill="#fff" stroke="#111" stroke-width="1.8"/>
</g>
<g transform="translate(760.0 112.0) rotate(30)">
<rect x="-4.5" y="-1.7" width="9" height="3.4" fill="#ccc" stroke="#666" stroke-width="0.6"/>
<line x1="-5.0" y1="-1.7" x2="-4.0" y2="1.7" stroke="#555" stroke-width="0.6"/>
<line x1="-3.5" y1="-1.7" x2="-2.5" y2="1.7" stroke="#555" stroke-width="0.6"/>
<line x1="-2.0" y1="-1.7" x2="-1.0" y2="1.7" stroke="#555" stroke-width="0.6"/>
<line x1="-0.5" y1="-1.7" x2="0.5" y2="1.7" stroke="#555" stroke-width="0.6"/>
<line x1="1.0" y1="-1.7" x2="2.0" y2="1.7" stroke="#555" stroke-width="0.6"/>
<line x1="2.5" y1="-1.7" x2="3.5" y2="1.7" stroke="#555" stroke-width="0.6"/>
<line x1="4.0" y1="-1.7" x2="5.0" y2="1.7" stroke="#555" stroke-width="0.6"/>
</g>
<g transform="translate(771.8 119.6) rotate(30)">
<rect x="-3.0" y="-2.6" width="6" height="5.2" fill="#fff" stroke="#262626" stroke-width="0.9"/>
<ellipse cx="-3.0" cy="0" rx="1.2" ry="2.6" fill="#fff" stroke="#262626" stroke-width="0.9"/>
<ellipse cx="3.0" cy="0" rx="1.2" ry="2.6" fill="#fff" stroke="#111" stroke-width="1.6"/>
<line x1="-0.7999999999999998" y1="-2.6" x2="-0.7999999999999998" y2="2.6" stroke="#262626" stroke-width="0.7"/>
</g>
<g transform="translate(791.8 130.8) rotate(30)">
<rect x="-3.0" y="-2.6" width="6" height="5.2" fill="#fff" stroke="#262626" stroke-width="0.9"/>
<ellipse cx="-3.0" cy="0" rx="1.2" ry="2.6" fill="#fff" stroke="#262626" stroke-width="0.9"/>
<ellipse cx="3.0" cy="0" rx="1.2" ry="2.6" fill="#fff" stroke="#111" stroke-width="1.6"/>
<line x1="-0.7999999999999998" y1="-2.6" x2="-0.7999999999999998" y2="2.6" stroke="#262626" stroke-width="0.7"/>
</g>
<g transform="translate(808.0 140.6) rotate(30)">
<rect x="-2.75" y="-2.6" width="5.5" height="5.2" fill="#fff" stroke="#262626" stroke-width="0.9"/>
<ellipse cx="-2.75" cy="0" rx="1.2" ry="2.6" fill="#fff" stroke="#262626" stroke-width="0.9"/>
<ellipse cx="2.75" cy="0" rx="1.2" ry="2.6" fill="#fff" stroke="#111" stroke-width="1.6"/>
<line x1="-0.5499999999999998" y1="-2.6" x2="-0.5499999999999998" y2="2.6" stroke="#262626" stroke-width="0.7"/>
</g>
<g transform="translate(830.6 153.4) rotate(30)">
<rect x="-10.0" y="-2.3400000000000003" width="7" height="4.680000000000001" fill="#fff" stroke="#262626" stroke-width="0.9"/>
<ellipse cx="-10.0" cy="0" rx="1.2" ry="2.3400000000000003" fill="#fff" stroke="#262626" stroke-width="0.9"/>
<ellipse cx="-7.0" cy="0" rx="1.1" ry="2.3400000000000003" fill="none" stroke="#222" stroke-width="0.9"/>
<ellipse cx="-4.6" cy="0" rx="1.1" ry="2.3400000000000003" fill="none" stroke="#222" stroke-width="0.9"/>
<rect x="-3.0" y="-1" width="4" height="2" fill="#fff" stroke="#262626" stroke-width="0.7"/>
<rect x="1.0" y="-2.6" width="9" height="5.2" fill="#fff" stroke="#262626" stroke-width="0.9"/>
<ellipse cx="1.0" cy="0" rx="1.2" ry="2.6" fill="#fff" stroke="#262626" stroke-width="0.9"/>
<ellipse cx="10.0" cy="0" rx="1.3" ry="2.6" fill="#fff" stroke="#111" stroke-width="1.8"/>
</g>
<g transform="translate(892.2 117.5) rotate(30)">
<rect x="-3.0" y="-2.6" width="6" height="5.2" fill="#fff" stroke="#262626" stroke-width="0.9"/>
<ellipse cx="-3.0" cy="0" rx="1.2" ry="2.6" fill="#fff" stroke="#262626" stroke-width="0.9"/>
<ellipse cx="3.0" cy="0" rx="1.2" ry="2.6" fill="#fff" stroke="#111" stroke-width="1.6"/>
<line x1="-0.7999999999999998" y1="-2.6" x2="-0.7999999999999998" y2="2.6" stroke="#262626" stroke-width="0.7"/>
</g>
<g transform="translate(906.0 125.3) rotate(30)">
<rect x="-4.5" y="-1.7" width="9" height="3.4" fill="#ccc" stroke="#666" stroke-width="0.6"/>
<line x1="-5.0" y1="-1.7" x2="-4.0" y2="1.7" stroke="#555" stroke-width="0.6"/>
<line x1="-3.5" y1="-1.7" x2="-2.5" y2="1.7" stroke="#555" stroke-width="0.6"/>
<line x1="-2.0" y1="-1.7" x2="-1.0" y2="1.7" stroke="#555" stroke-width="0.6"/>
<line x1="-0.5" y1="-1.7" x2="0.5" y2="1.7" stroke="#555" stroke-width="0.6"/>
<line x1="1.0" y1="-1.7" x2="2.0" y2="1.7" stroke="#555" stroke-width="0.6"/>
<line x1="2.5" y1="-1.7" x2="3.5" y2="1.7" stroke="#555" stroke-width="0.6"/>
<line x1="4.0" y1="-1.7" x2="5.0" y2="1.7" stroke="#555" stroke-width="0.6"/>
</g>
<g transform="translate(920.6 134.4) rotate(30)">
<rect x="-3.0" y="-2.6" width="6" height="5.2" fill="#fff" stroke="#262626" stroke-width="0.9"/>
<ellipse cx="-3.0" cy="0" rx="1.2" ry="2.6" fill="#fff" stroke="#262626" stroke-width="0.9"/>
<ellipse cx="3.0" cy="0" rx="1.2" ry="2.6" fill="#fff" stroke="#111" stroke-width="1.6"/>
<line x1="-0.7999999999999998" y1="-2.6" x2="-0.7999999999999998" y2="2.6" stroke="#262626" stroke-width="0.7"/>
</g>
<g transform="translate(940.2 145.0) rotate(30)">
<rect x="-10.0" y="-2.3400000000000003" width="7" height="4.680000000000001" fill="#fff" stroke="#262626" stroke-width="0.9"/>
<ellipse cx="-10.0" cy="0" rx="1.2" ry="2.3400000000000003" fill="#fff" stroke="#262626" stroke-width="0.9"/>
<ellipse cx="-7.0" cy="0" rx="1.1" ry="2.3400000000000003" fill="none" stroke="#222" stroke-width="0.9"/>
<ellipse cx="-4.6" cy="0" rx="1.1" ry="2.3400000000000003" fill="none" stroke="#222" stroke-width="0.9"/>
<rect x="-3.0" y="-1" width="4" height="2" fill="#fff" stroke="#262626" stroke-width="0.7"/>
<rect x="1.0" y="-2.6" width="9" height="5.2" fill="#fff" stroke="#262626" stroke-width="0.9"/>
<ellipse cx="1.0" cy="0" rx="1.2" ry="2.6" fill="#fff" stroke="#262626" stroke-width="0.9"/>
<ellipse cx="10.0" cy="0" rx="1.3" ry="2.6" fill="#fff" stroke="#111" stroke-width="1.8"/>
</g>
<g transform="translate(1008.9 115.5) rotate(30)">
<rect x="-3.0" y="-2.6" width="6" height="5.2" fill="#fff" stroke="#262626" stroke-width="0.9"/>
<ellipse cx="-3.0" cy="0" rx="1.2" ry="2.6" fill="#fff" stroke="#262626" stroke-width="0.9"/>
<ellipse cx="3.0" cy="0" rx="1.2" ry="2.6" fill="#fff" stroke="#111" stroke-width="1.6"/>
<line x1="-0.7999999999999998" y1="-2.6" x2="-0.7999999999999998" y2="2.6" stroke="#262626" stroke-width="0.7"/>
</g>
<g transform="translate(1021.6 123.4) rotate(30)">
<rect x="-4.5" y="-1.7" width="9" height="3.4" fill="#ccc" stroke="#666" stroke-width="0.6"/>
<line x1="-5.0" y1="-1.7" x2="-4.0" y2="1.7" stroke="#555" stroke-width="0.6"/>
<line x1="-3.5" y1="-1.7" x2="-2.5" y2="1.7" stroke="#555" stroke-width="0.6"/>
<line x1="-2.0" y1="-1.7" x2="-1.0" y2="1.7" stroke="#555" stroke-width="0.6"/>
<line x1="-0.5" y1="-1.7" x2="0.5" y2="1.7" stroke="#555" stroke-width="0.6"/>
<line x1="1.0" y1="-1.7" x2="2.0" y2="1.7" stroke="#555" stroke-width="0.6"/>
<line x1="2.5" y1="-1.7" x2="3.5" y2="1.7" stroke="#555" stroke-width="0.6"/>
<line x1="4.0" y1="-1.7" x2="5.0" y2="1.7" stroke="#555" stroke-width="0.6"/>
</g>
<g transform="translate(1036.3 131.2) rotate(30)">
<rect x="-3.0" y="-2.6" width="6" height="5.2" fill="#fff" stroke="#262626" stroke-width="0.9"/>
<ellipse cx="-3.0" cy="0" rx="1.2" ry="2.6" fill="#fff" stroke="#262626" stroke-width="0.9"/>
<ellipse cx="3.0" cy="0" rx="1.2" ry="2.6" fill="#fff" stroke="#111" stroke-width="1.6"/>
<line x1="-0.7999999999999998" y1="-2.6" x2="-0.7999999999999998" y2="2.6" stroke="#262626" stroke-width="0.7"/>
</g>
<g transform="translate(1056.0 142.6) rotate(30)">
<rect x="-10.0" y="-2.3400000000000003" width="7" height="4.680000000000001" fill="#fff" stroke="#262626" stroke-width="0.9"/>
<ellipse cx="-10.0" cy="0" rx="1.2" ry="2.3400000000000003" fill="#fff" stroke="#262626" stroke-width="0.9"/>
<ellipse cx="-7.0" cy="0" rx="1.1" ry="2.3400000000000003" fill="none" stroke="#222" stroke-width="0.9"/>
<ellipse cx="-4.6" cy="0" rx="1.1" ry="2.3400000000000003" fill="none" stroke="#222" stroke-width="0.9"/>
<rect x="-3.0" y="-1" width="4" height="2" fill="#fff" stroke="#262626" stroke-width="0.7"/>
<rect x="1.0" y="-2.6" width="9" height="5.2" fill="#fff" stroke="#262626" stroke-width="0.9"/>
<ellipse cx="1.0" cy="0" rx="1.2" ry="2.6" fill="#fff" stroke="#262626" stroke-width="0.9"/>
<ellipse cx="10.0" cy="0" rx="1.3" ry="2.6" fill="#fff" stroke="#111" stroke-width="1.8"/>
</g>
<g transform="translate(1127.6 122.9) rotate(30)">
<rect x="-4.5" y="-1.7" width="9" height="3.4" fill="#ccc" stroke="#666" stroke-width="0.6"/>
<line x1="-5.0" y1="-1.7" x2="-4.0" y2="1.7" stroke="#555" stroke-width="0.6"/>
<line x1="-3.5" y1="-1.7" x2="-2.5" y2="1.7" stroke="#555" stroke-width="0.6"/>
<line x1="-2.0" y1="-1.7" x2="-1.0" y2="1.7" stroke="#555" stroke-width="0.6"/>
<line x1="-0.5" y1="-1.7" x2="0.5" y2="1.7" stroke="#555" stroke-width="0.6"/>
<line x1="1.0" y1="-1.7" x2="2.0" y2="1.7" stroke="#555" stroke-width="0.6"/>
<line x1="2.5" y1="-1.7" x2="3.5" y2="1.7" stroke="#555" stroke-width="0.6"/>
<line x1="4.0" y1="-1.7" x2="5.0" y2="1.7" stroke="#555" stroke-width="0.6"/>
</g>
<g transform="translate(1141.8 131.5) rotate(30)">
<rect x="-3.0" y="-2.6" width="6" height="5.2" fill="#fff" stroke="#262626" stroke-width="0.9"/>
<ellipse cx="-3.0" cy="0" rx="1.2" ry="2.6" fill="#fff" stroke="#262626" stroke-width="0.9"/>
<ellipse cx="3.0" cy="0" rx="1.2" ry="2.6" fill="#fff" stroke="#111" stroke-width="1.6"/>
<line x1="-0.7999999999999998" y1="-2.6" x2="-0.7999999999999998" y2="2.6" stroke="#262626" stroke-width="0.7"/>
</g>
<g transform="translate(1161.9 142.7) rotate(30)">
<rect x="-10.0" y="-2.3400000000000003" width="7" height="4.680000000000001" fill="#fff" stroke="#262626" stroke-width="0.9"/>
<ellipse cx="-10.0" cy="0" rx="1.2" ry="2.3400000000000003" fill="#fff" stroke="#262626" stroke-width="0.9"/>
<ellipse cx="-7.0" cy="0" rx="1.1" ry="2.3400000000000003" fill="none" stroke="#222" stroke-width="0.9"/>
<ellipse cx="-4.6" cy="0" rx="1.1" ry="2.3400000000000003" fill="none" stroke="#222" stroke-width="0.9"/>
<rect x="-3.0" y="-1" width="4" height="2" fill="#fff" stroke="#262626" stroke-width="0.7"/>
<rect x="1.0" y="-2.6" width="9" height="5.2" fill="#fff" stroke="#262626" stroke-width="0.9"/>
<ellipse cx="1.0" cy="0" rx="1.2" ry="2.6" fill="#fff" stroke="#262626" stroke-width="0.9"/>
<ellipse cx="10.0" cy="0" rx="1.3" ry="2.6" fill="#fff" stroke="#111" stroke-width="1.8"/>
</g>
<g transform="translate(657.0 257.0) rotate(30)">
<rect x="-4.5" y="-1.7" width="9" height="3.4" fill="#ccc" stroke="#666" stroke-width="0.6"/>
<line x1="-5.0" y1="-1.7" x2="-4.0" y2="1.7" stroke="#555" stroke-width="0.6"/>
<line x1="-3.5" y1="-1.7" x2="-2.5" y2="1.7" stroke="#555" stroke-width="0.6"/>
<line x1="-2.0" y1="-1.7" x2="-1.0" y2="1.7" stroke="#555" stroke-width="0.6"/>
<line x1="-0.5" y1="-1.7" x2="0.5" y2="1.7" stroke="#555" stroke-width="0.6"/>
<line x1="1.0" y1="-1.7" x2="2.0" y2="1.7" stroke="#555" stroke-width="0.6"/>
<line x1="2.5" y1="-1.7" x2="3.5" y2="1.7" stroke="#555" stroke-width="0.6"/>
<line x1="4.0" y1="-1.7" x2="5.0" y2="1.7" stroke="#555" stroke-width="0.6"/>
</g>
<g transform="translate(671.8 265.4) rotate(30)">
<rect x="-3.0" y="-2.6" width="6" height="5.2" fill="#fff" stroke="#262626" stroke-width="0.9"/>
<ellipse cx="-3.0" cy="0" rx="1.2" ry="2.6" fill="#fff" stroke="#262626" stroke-width="0.9"/>
<ellipse cx="3.0" cy="0" rx="1.2" ry="2.6" fill="#fff" stroke="#111" stroke-width="1.6"/>
<line x1="-0.7999999999999998" y1="-2.6" x2="-0.7999999999999998" y2="2.6" stroke="#262626" stroke-width="0.7"/>
</g>
<g transform="translate(691.4 276.6) rotate(30)">
<rect x="-10.0" y="-2.3400000000000003" width="7" height="4.680000000000001" fill="#fff" stroke="#262626" stroke-width="0.9"/>
<ellipse cx="-10.0" cy="0" rx="1.2" ry="2.3400000000000003" fill="#fff" stroke="#262626" stroke-width="0.9"/>
<ellipse cx="-7.0" cy="0" rx="1.1" ry="2.3400000000000003" fill="none" stroke="#222" stroke-width="0.9"/>
<ellipse cx="-4.6" cy="0" rx="1.1" ry="2.3400000000000003" fill="none" stroke="#222" stroke-width="0.9"/>
<rect x="-3.0" y="-1" width="4" height="2" fill="#fff" stroke="#262626" stroke-width="0.7"/>
<rect x="1.0" y="-2.6" width="9" height="5.2" fill="#fff" stroke="#262626" stroke-width="0.9"/>
<ellipse cx="1.0" cy="0" rx="1.2" ry="2.6" fill="#fff" stroke="#262626" stroke-width="0.9"/>
<ellipse cx="10.0" cy="0" rx="1.3" ry="2.6" fill="#fff" stroke="#111" stroke-width="1.8"/>
</g>
<g transform="translate(766.0 249.0) rotate(30)">
<rect x="-4.5" y="-1.7" width="9" height="3.4" fill="#ccc" stroke="#666" stroke-width="0.6"/>
<line x1="-5.0" y1="-1.7" x2="-4.0" y2="1.7" stroke="#555" stroke-width="0.6"/>
<line x1="-3.5" y1="-1.7" x2="-2.5" y2="1.7" stroke="#555" stroke-width="0.6"/>
<line x1="-2.0" y1="-1.7" x2="-1.0" y2="1.7" stroke="#555" stroke-width="0.6"/>
<line x1="-0.5" y1="-1.7" x2="0.5" y2="1.7" stroke="#555" stroke-width="0.6"/>
<line x1="1.0" y1="-1.7" x2="2.0" y2="1.7" stroke="#555" stroke-width="0.6"/>
<line x1="2.5" y1="-1.7" x2="3.5" y2="1.7" stroke="#555" stroke-width="0.6"/>
<line x1="4.0" y1="-1.7" x2="5.0" y2="1.7" stroke="#555" stroke-width="0.6"/>
</g>
<g transform="translate(780.2 258.0) rotate(30)">
<rect x="-3.0" y="-2.6" width="6" height="5.2" fill="#fff" stroke="#262626" stroke-width="0.9"/>
<ellipse cx="-3.0" cy="0" rx="1.2" ry="2.6" fill="#fff" stroke="#262626" stroke-width="0.9"/>
<ellipse cx="3.0" cy="0" rx="1.2" ry="2.6" fill="#fff" stroke="#111" stroke-width="1.6"/>
<line x1="-0.7999999999999998" y1="-2.6" x2="-0.7999999999999998" y2="2.6" stroke="#262626" stroke-width="0.7"/>
</g>
<g transform="translate(796.7 267.2) rotate(30)">
<rect x="-3.0" y="-2.6" width="6" height="5.2" fill="#fff" stroke="#262626" stroke-width="0.9"/>
<ellipse cx="-3.0" cy="0" rx="1.2" ry="2.6" fill="#fff" stroke="#262626" stroke-width="0.9"/>
<ellipse cx="3.0" cy="0" rx="1.2" ry="2.6" fill="#fff" stroke="#111" stroke-width="1.6"/>
<line x1="-0.7999999999999998" y1="-2.6" x2="-0.7999999999999998" y2="2.6" stroke="#262626" stroke-width="0.7"/>
</g>
<g transform="translate(819.8 280.5) rotate(30)">
<rect x="-10.0" y="-2.3400000000000003" width="7" height="4.680000000000001" fill="#fff" stroke="#262626" stroke-width="0.9"/>
<ellipse cx="-10.0" cy="0" rx="1.2" ry="2.3400000000000003" fill="#fff" stroke="#262626" stroke-width="0.9"/>
<ellipse cx="-7.0" cy="0" rx="1.1" ry="2.3400000000000003" fill="none" stroke="#222" stroke-width="0.9"/>
<ellipse cx="-4.6" cy="0" rx="1.1" ry="2.3400000000000003" fill="none" stroke="#222" stroke-width="0.9"/>
<rect x="-3.0" y="-1" width="4" height="2" fill="#fff" stroke="#262626" stroke-width="0.7"/>
<rect x="1.0" y="-2.6" width="9" height="5.2" fill="#fff" stroke="#262626" stroke-width="0.9"/>
<ellipse cx="1.0" cy="0" rx="1.2" ry="2.6" fill="#fff" stroke="#262626" stroke-width="0.9"/>
<ellipse cx="10.0" cy="0" rx="1.3" ry="2.6" fill="#fff" stroke="#111" stroke-width="1.8"/>
</g>
<g transform="translate(887.3 249.5) rotate(30)">
<rect x="-4.5" y="-1.7" width="9" height="3.4" fill="#ccc" stroke="#666" stroke-width="0.6"/>
<line x1="-5.0" y1="-1.7" x2="-4.0" y2="1.7" stroke="#555" stroke-width="0.6"/>
<line x1="-3.5" y1="-1.7" x2="-2.5" y2="1.7" stroke="#555" stroke-width="0.6"/>
<line x1="-2.0" y1="-1.7" x2="-1.0" y2="1.7" stroke="#555" stroke-width="0.6"/>
<line x1="-0.5" y1="-1.7" x2="0.5" y2="1.7" stroke="#555" stroke-width="0.6"/>
<line x1="1.0" y1="-1.7" x2="2.0" y2="1.7" stroke="#555" stroke-width="0.6"/>
<line x1="2.5" y1="-1.7" x2="3.5" y2="1.7" stroke="#555" stroke-width="0.6"/>
<line x1="4.0" y1="-1.7" x2="5.0" y2="1.7" stroke="#555" stroke-width="0.6"/>
</g>
<g transform="translate(902.0 258.5) rotate(30)">
<rect x="-3.0" y="-2.6" width="6" height="5.2" fill="#fff" stroke="#262626" stroke-width="0.9"/>
<ellipse cx="-3.0" cy="0" rx="1.2" ry="2.6" fill="#fff" stroke="#262626" stroke-width="0.9"/>
<ellipse cx="3.0" cy="0" rx="1.2" ry="2.6" fill="#fff" stroke="#111" stroke-width="1.6"/>
<line x1="-0.7999999999999998" y1="-2.6" x2="-0.7999999999999998" y2="2.6" stroke="#262626" stroke-width="0.7"/>
</g>
<g transform="translate(918.7 267.8) rotate(30)">
<rect x="-3.0" y="-2.6" width="6" height="5.2" fill="#fff" stroke="#262626" stroke-width="0.9"/>
<ellipse cx="-3.0" cy="0" rx="1.2" ry="2.6" fill="#fff" stroke="#262626" stroke-width="0.9"/>
<ellipse cx="3.0" cy="0" rx="1.2" ry="2.6" fill="#fff" stroke="#111" stroke-width="1.6"/>
<line x1="-0.7999999999999998" y1="-2.6" x2="-0.7999999999999998" y2="2.6" stroke="#262626" stroke-width="0.7"/>
</g>
<g transform="translate(941.2 281.5) rotate(30)">
<rect x="-10.0" y="-2.3400000000000003" width="7" height="4.680000000000001" fill="#fff" stroke="#262626" stroke-width="0.9"/>
<ellipse cx="-10.0" cy="0" rx="1.2" ry="2.3400000000000003" fill="#fff" stroke="#262626" stroke-width="0.9"/>
<ellipse cx="-7.0" cy="0" rx="1.1" ry="2.3400000000000003" fill="none" stroke="#222" stroke-width="0.9"/>
<ellipse cx="-4.6" cy="0" rx="1.1" ry="2.3400000000000003" fill="none" stroke="#222" stroke-width="0.9"/>
<rect x="-3.0" y="-1" width="4" height="2" fill="#fff" stroke="#262626" stroke-width="0.7"/>
<rect x="1.0" y="-2.6" width="9" height="5.2" fill="#fff" stroke="#262626" stroke-width="0.9"/>
<ellipse cx="1.0" cy="0" rx="1.2" ry="2.6" fill="#fff" stroke="#262626" stroke-width="0.9"/>
<ellipse cx="10.0" cy="0" rx="1.3" ry="2.6" fill="#fff" stroke="#111" stroke-width="1.8"/>
</g>
<g transform="translate(993.2 246.2) rotate(30)">
<rect x="-3.0" y="-2.6" width="6" height="5.2" fill="#fff" stroke="#262626" stroke-width="0.9"/>
<ellipse cx="-3.0" cy="0" rx="1.2" ry="2.6" fill="#fff" stroke="#262626" stroke-width="0.9"/>
<ellipse cx="3.0" cy="0" rx="1.2" ry="2.6" fill="#fff" stroke="#111" stroke-width="1.6"/>
<line x1="-0.7999999999999998" y1="-2.6" x2="-0.7999999999999998" y2="2.6" stroke="#262626" stroke-width="0.7"/>
</g>
<g transform="translate(1010.4 256.6) rotate(30)">
<rect x="-3.0" y="-2.6" width="6" height="5.2" fill="#fff" stroke="#262626" stroke-width="0.9"/>
<ellipse cx="-3.0" cy="0" rx="1.2" ry="2.6" fill="#fff" stroke="#262626" stroke-width="0.9"/>
<ellipse cx="3.0" cy="0" rx="1.2" ry="2.6" fill="#fff" stroke="#111" stroke-width="1.6"/>
<line x1="-0.7999999999999998" y1="-2.6" x2="-0.7999999999999998" y2="2.6" stroke="#262626" stroke-width="0.7"/>
</g>
<g transform="translate(1027.1 265.8) rotate(30)">
<rect x="-4.5" y="-1.7" width="9" height="3.4" fill="#ccc" stroke="#666" stroke-width="0.6"/>
<line x1="-5.0" y1="-1.7" x2="-4.0" y2="1.7" stroke="#555" stroke-width="0.6"/>
<line x1="-3.5" y1="-1.7" x2="-2.5" y2="1.7" stroke="#555" stroke-width="0.6"/>
<line x1="-2.0" y1="-1.7" x2="-1.0" y2="1.7" stroke="#555" stroke-width="0.6"/>
<line x1="-0.5" y1="-1.7" x2="0.5" y2="1.7" stroke="#555" stroke-width="0.6"/>
<line x1="1.0" y1="-1.7" x2="2.0" y2="1.7" stroke="#555" stroke-width="0.6"/>
<line x1="2.5" y1="-1.7" x2="3.5" y2="1.7" stroke="#555" stroke-width="0.6"/>
<line x1="4.0" y1="-1.7" x2="5.0" y2="1.7" stroke="#555" stroke-width="0.6"/>
</g>
<g transform="translate(1047.1 277.6) rotate(30)">
<rect x="-10.0" y="-2.3400000000000003" width="7" height="4.680000000000001" fill="#fff" stroke="#262626" stroke-width="0.9"/>
<ellipse cx="-10.0" cy="0" rx="1.2" ry="2.3400000000000003" fill="#fff" stroke="#262626" stroke-width="0.9"/>
<ellipse cx="-7.0" cy="0" rx="1.1" ry="2.3400000000000003" fill="none" stroke="#222" stroke-width="0.9"/>
<ellipse cx="-4.6" cy="0" rx="1.1" ry="2.3400000000000003" fill="none" stroke="#222" stroke-width="0.9"/>
<rect x="-3.0" y="-1" width="4" height="2" fill="#fff" stroke="#262626" stroke-width="0.7"/>
<rect x="1.0" y="-2.6" width="9" height="5.2" fill="#fff" stroke="#262626" stroke-width="0.9"/>
<ellipse cx="1.0" cy="0" rx="1.2" ry="2.6" fill="#fff" stroke="#262626" stroke-width="0.9"/>
<ellipse cx="10.0" cy="0" rx="1.3" ry="2.6" fill="#fff" stroke="#111" stroke-width="1.8"/>
</g>
<g transform="translate(1119.6 245.0) rotate(30)">
<rect x="-3.0" y="-2.6" width="6" height="5.2" fill="#fff" stroke="#262626" stroke-width="0.9"/>
<ellipse cx="-3.0" cy="0" rx="1.2" ry="2.6" fill="#fff" stroke="#262626" stroke-width="0.9"/>
<ellipse cx="3.0" cy="0" rx="1.2" ry="2.6" fill="#fff" stroke="#111" stroke-width="1.6"/>
<line x1="-0.7999999999999998" y1="-2.6" x2="-0.7999999999999998" y2="2.6" stroke="#262626" stroke-width="0.7"/>
</g>
<g transform="translate(1133.5 252.9) rotate(30)">
<rect x="-3.0" y="-2.6" width="6" height="5.2" fill="#fff" stroke="#262626" stroke-width="0.9"/>
<ellipse cx="-3.0" cy="0" rx="1.2" ry="2.6" fill="#fff" stroke="#262626" stroke-width="0.9"/>
<ellipse cx="3.0" cy="0" rx="1.2" ry="2.6" fill="#fff" stroke="#111" stroke-width="1.6"/>
<line x1="-0.7999999999999998" y1="-2.6" x2="-0.7999999999999998" y2="2.6" stroke="#262626" stroke-width="0.7"/>
</g>
<g transform="translate(1146.7 260.2) rotate(30)">
<rect x="-4.5" y="-1.7" width="9" height="3.4" fill="#ccc" stroke="#666" stroke-width="0.6"/>
<line x1="-5.0" y1="-1.7" x2="-4.0" y2="1.7" stroke="#555" stroke-width="0.6"/>
<line x1="-3.5" y1="-1.7" x2="-2.5" y2="1.7" stroke="#555" stroke-width="0.6"/>
<line x1="-2.0" y1="-1.7" x2="-1.0" y2="1.7" stroke="#555" stroke-width="0.6"/>
<line x1="-0.5" y1="-1.7" x2="0.5" y2="1.7" stroke="#555" stroke-width="0.6"/>
<line x1="1.0" y1="-1.7" x2="2.0" y2="1.7" stroke="#555" stroke-width="0.6"/>
<line x1="2.5" y1="-1.7" x2="3.5" y2="1.7" stroke="#555" stroke-width="0.6"/>
<line x1="4.0" y1="-1.7" x2="5.0" y2="1.7" stroke="#555" stroke-width="0.6"/>
</g>
<g transform="translate(1169.8 274.0) rotate(30)">
<rect x="-10.0" y="-2.3400000000000003" width="7" height="4.680000000000001" fill="#fff" stroke="#262626" stroke-width="0.9"/>
<ellipse cx="-10.0" cy="0" rx="1.2" ry="2.3400000000000003" fill="#fff" stroke="#262626" stroke-width="0.9"/>
<ellipse cx="-7.0" cy="0" rx="1.1" ry="2.3400000000000003" fill="none" stroke="#222" stroke-width="0.9"/>
<ellipse cx="-4.6" cy="0" rx="1.1" ry="2.3400000000000003" fill="none" stroke="#222" stroke-width="0.9"/>
<rect x="-3.0" y="-1" width="4" height="2" fill="#fff" stroke="#262626" stroke-width="0.7"/>
<rect x="1.0" y="-2.6" width="9" height="5.2" fill="#fff" stroke="#262626" stroke-width="0.9"/>
<ellipse cx="1.0" cy="0" rx="1.2" ry="2.6" fill="#fff" stroke="#262626" stroke-width="0.9"/>
<ellipse cx="10.0" cy="0" rx="1.3" ry="2.6" fill="#fff" stroke="#111" stroke-width="1.8"/>
</g>
<g transform="translate(641.8 377.6) rotate(30)">
<rect x="-4.5" y="-1.7" width="9" height="3.4" fill="#ccc" stroke="#666" stroke-width="0.6"/>
<line x1="-5.0" y1="-1.7" x2="-4.0" y2="1.7" stroke="#555" stroke-width="0.6"/>
<line x1="-3.5" y1="-1.7" x2="-2.5" y2="1.7" stroke="#555" stroke-width="0.6"/>
<line x1="-2.0" y1="-1.7" x2="-1.0" y2="1.7" stroke="#555" stroke-width="0.6"/>
<line x1="-0.5" y1="-1.7" x2="0.5" y2="1.7" stroke="#555" stroke-width="0.6"/>
<line x1="1.0" y1="-1.7" x2="2.0" y2="1.7" stroke="#555" stroke-width="0.6"/>
<line x1="2.5" y1="-1.7" x2="3.5" y2="1.7" stroke="#555" stroke-width="0.6"/>
<line x1="4.0" y1="-1.7" x2="5.0" y2="1.7" stroke="#555" stroke-width="0.6"/>
</g>
<g transform="translate(658.5 387.0) rotate(30)">
<rect x="-3.0" y="-2.6" width="6" height="5.2" fill="#fff" stroke="#262626" stroke-width="0.9"/>
<ellipse cx="-3.0" cy="0" rx="1.2" ry="2.6" fill="#fff" stroke="#262626" stroke-width="0.9"/>
<ellipse cx="3.0" cy="0" rx="1.2" ry="2.6" fill="#fff" stroke="#111" stroke-width="1.6"/>
<line x1="-0.7999999999999998" y1="-2.6" x2="-0.7999999999999998" y2="2.6" stroke="#262626" stroke-width="0.7"/>
</g>
<g transform="translate(672.8 395.3) rotate(30)">
<rect x="-3.0" y="-2.6" width="6" height="5.2" fill="#fff" stroke="#262626" stroke-width="0.9"/>
<ellipse cx="-3.0" cy="0" rx="1.2" ry="2.6" fill="#fff" stroke="#262626" stroke-width="0.9"/>
<ellipse cx="3.0" cy="0" rx="1.2" ry="2.6" fill="#fff" stroke="#111" stroke-width="1.6"/>
<line x1="-0.7999999999999998" y1="-2.6" x2="-0.7999999999999998" y2="2.6" stroke="#262626" stroke-width="0.7"/>
</g>
<g transform="translate(689.0 404.7) rotate(30)">
<rect x="-3.0" y="-2.6" width="6" height="5.2" fill="#fff" stroke="#262626" stroke-width="0.9"/>
<ellipse cx="-3.0" cy="0" rx="1.2" ry="2.6" fill="#fff" stroke="#262626" stroke-width="0.9"/>
<ellipse cx="3.0" cy="0" rx="1.2" ry="2.6" fill="#fff" stroke="#111" stroke-width="1.6"/>
<line x1="-0.7999999999999998" y1="-2.6" x2="-0.7999999999999998" y2="2.6" stroke="#262626" stroke-width="0.7"/>
</g>
<g transform="translate(701.0 411.5) rotate(30)">
<rect x="-7.5" y="-2.5" width="15" height="5.0" fill="#fff" stroke="#262626" stroke-width="0.9"/>
<ellipse cx="-7.5" cy="0" rx="1.2" ry="2.5" fill="#fff" stroke="#262626" stroke-width="0.9"/>
<ellipse cx="0.8" cy="0" rx="1.1" ry="2.5" fill="none" stroke="#222" stroke-width="1.0"/>
<ellipse cx="3.8" cy="0" rx="1.1" ry="2.5" fill="none" stroke="#222" stroke-width="1.0"/>
<ellipse cx="7.5" cy="0" rx="1.2" ry="2.5" fill="#fff" stroke="#111" stroke-width="1.5"/>
</g>
<g transform="translate(770.8 382.2) rotate(30)">
<rect x="-4.5" y="-1.7" width="9" height="3.4" fill="#ccc" stroke="#666" stroke-width="0.6"/>
<line x1="-5.0" y1="-1.7" x2="-4.0" y2="1.7" stroke="#555" stroke-width="0.6"/>
<line x1="-3.5" y1="-1.7" x2="-2.5" y2="1.7" stroke="#555" stroke-width="0.6"/>
<line x1="-2.0" y1="-1.7" x2="-1.0" y2="1.7" stroke="#555" stroke-width="0.6"/>
<line x1="-0.5" y1="-1.7" x2="0.5" y2="1.7" stroke="#555" stroke-width="0.6"/>
<line x1="1.0" y1="-1.7" x2="2.0" y2="1.7" stroke="#555" stroke-width="0.6"/>
<line x1="2.5" y1="-1.7" x2="3.5" y2="1.7" stroke="#555" stroke-width="0.6"/>
<line x1="4.0" y1="-1.7" x2="5.0" y2="1.7" stroke="#555" stroke-width="0.6"/>
</g>
<g transform="translate(787.5 391.4) rotate(30)">
<rect x="-3.0" y="-2.6" width="6" height="5.2" fill="#fff" stroke="#262626" stroke-width="0.9"/>
<ellipse cx="-3.0" cy="0" rx="1.2" ry="2.6" fill="#fff" stroke="#262626" stroke-width="0.9"/>
<ellipse cx="3.0" cy="0" rx="1.2" ry="2.6" fill="#fff" stroke="#111" stroke-width="1.6"/>
<line x1="-0.7999999999999998" y1="-2.6" x2="-0.7999999999999998" y2="2.6" stroke="#262626" stroke-width="0.7"/>
</g>
<g transform="translate(804.2 400.4) rotate(30)">
<rect x="-3.0" y="-2.6" width="6" height="5.2" fill="#fff" stroke="#262626" stroke-width="0.9"/>
<ellipse cx="-3.0" cy="0" rx="1.2" ry="2.6" fill="#fff" stroke="#262626" stroke-width="0.9"/>
<ellipse cx="3.0" cy="0" rx="1.2" ry="2.6" fill="#fff" stroke="#111" stroke-width="1.6"/>
<line x1="-0.7999999999999998" y1="-2.6" x2="-0.7999999999999998" y2="2.6" stroke="#262626" stroke-width="0.7"/>
</g>
<g transform="translate(817.0 407.5) rotate(30)">
<rect x="-7.5" y="-2.5" width="15" height="5.0" fill="#fff" stroke="#262626" stroke-width="0.9"/>
<ellipse cx="-7.5" cy="0" rx="1.2" ry="2.5" fill="#fff" stroke="#262626" stroke-width="0.9"/>
<ellipse cx="0.8" cy="0" rx="1.1" ry="2.5" fill="none" stroke="#222" stroke-width="1.0"/>
<ellipse cx="3.8" cy="0" rx="1.1" ry="2.5" fill="none" stroke="#222" stroke-width="1.0"/>
<ellipse cx="7.5" cy="0" rx="1.2" ry="2.5" fill="#fff" stroke="#111" stroke-width="1.5"/>
</g>
<g transform="translate(892.2 383.1) rotate(30)">
<rect x="-3.0" y="-2.6" width="6" height="5.2" fill="#fff" stroke="#262626" stroke-width="0.9"/>
<ellipse cx="-3.0" cy="0" rx="1.2" ry="2.6" fill="#fff" stroke="#262626" stroke-width="0.9"/>
<ellipse cx="3.0" cy="0" rx="1.2" ry="2.6" fill="#fff" stroke="#111" stroke-width="1.6"/>
<line x1="-0.7999999999999998" y1="-2.6" x2="-0.7999999999999998" y2="2.6" stroke="#262626" stroke-width="0.7"/>
</g>
<g transform="translate(906.9 392.5) rotate(30)">
<rect x="-4.5" y="-1.7" width="9" height="3.4" fill="#ccc" stroke="#666" stroke-width="0.6"/>
<line x1="-5.0" y1="-1.7" x2="-4.0" y2="1.7" stroke="#555" stroke-width="0.6"/>
<line x1="-3.5" y1="-1.7" x2="-2.5" y2="1.7" stroke="#555" stroke-width="0.6"/>
<line x1="-2.0" y1="-1.7" x2="-1.0" y2="1.7" stroke="#555" stroke-width="0.6"/>
<line x1="-0.5" y1="-1.7" x2="0.5" y2="1.7" stroke="#555" stroke-width="0.6"/>
<line x1="1.0" y1="-1.7" x2="2.0" y2="1.7" stroke="#555" stroke-width="0.6"/>
<line x1="2.5" y1="-1.7" x2="3.5" y2="1.7" stroke="#555" stroke-width="0.6"/>
<line x1="4.0" y1="-1.7" x2="5.0" y2="1.7" stroke="#555" stroke-width="0.6"/>
</g>
<g transform="translate(922.2 400.8) rotate(30)">
<rect x="-3.0" y="-2.6" width="6" height="5.2" fill="#fff" stroke="#262626" stroke-width="0.9"/>
<ellipse cx="-3.0" cy="0" rx="1.2" ry="2.6" fill="#fff" stroke="#262626" stroke-width="0.9"/>
<ellipse cx="3.0" cy="0" rx="1.2" ry="2.6" fill="#fff" stroke="#111" stroke-width="1.6"/>
<line x1="-0.7999999999999998" y1="-2.6" x2="-0.7999999999999998" y2="2.6" stroke="#262626" stroke-width="0.7"/>
</g>
<g transform="translate(934.5 407.0) rotate(30)">
<rect x="-7.5" y="-2.5" width="15" height="5.0" fill="#fff" stroke="#262626" stroke-width="0.9"/>
<ellipse cx="-7.5" cy="0" rx="1.2" ry="2.5" fill="#fff" stroke="#262626" stroke-width="0.9"/>
<ellipse cx="0.8" cy="0" rx="1.1" ry="2.5" fill="none" stroke="#222" stroke-width="1.0"/>
<ellipse cx="3.8" cy="0" rx="1.1" ry="2.5" fill="none" stroke="#222" stroke-width="1.0"/>
<ellipse cx="7.5" cy="0" rx="1.2" ry="2.5" fill="#fff" stroke="#111" stroke-width="1.5"/>
</g>
<g transform="translate(1010.4 383.5) rotate(30)">
<rect x="-3.0" y="-2.6" width="6" height="5.2" fill="#fff" stroke="#262626" stroke-width="0.9"/>
<ellipse cx="-3.0" cy="0" rx="1.2" ry="2.6" fill="#fff" stroke="#262626" stroke-width="0.9"/>
<ellipse cx="3.0" cy="0" rx="1.2" ry="2.6" fill="#fff" stroke="#111" stroke-width="1.6"/>
<line x1="-0.7999999999999998" y1="-2.6" x2="-0.7999999999999998" y2="2.6" stroke="#262626" stroke-width="0.7"/>
</g>
<g transform="translate(1025.0 392.5) rotate(30)">
<rect x="-4.5" y="-1.7" width="9" height="3.4" fill="#ccc" stroke="#666" stroke-width="0.6"/>
<line x1="-5.0" y1="-1.7" x2="-4.0" y2="1.7" stroke="#555" stroke-width="0.6"/>
<line x1="-3.5" y1="-1.7" x2="-2.5" y2="1.7" stroke="#555" stroke-width="0.6"/>
<line x1="-2.0" y1="-1.7" x2="-1.0" y2="1.7" stroke="#555" stroke-width="0.6"/>
<line x1="-0.5" y1="-1.7" x2="0.5" y2="1.7" stroke="#555" stroke-width="0.6"/>
<line x1="1.0" y1="-1.7" x2="2.0" y2="1.7" stroke="#555" stroke-width="0.6"/>
<line x1="2.5" y1="-1.7" x2="3.5" y2="1.7" stroke="#555" stroke-width="0.6"/>
<line x1="4.0" y1="-1.7" x2="5.0" y2="1.7" stroke="#555" stroke-width="0.6"/>
</g>
<g transform="translate(1040.6 400.8) rotate(30)">
<rect x="-3.0" y="-2.6" width="6" height="5.2" fill="#fff" stroke="#262626" stroke-width="0.9"/>
<ellipse cx="-3.0" cy="0" rx="1.2" ry="2.6" fill="#fff" stroke="#262626" stroke-width="0.9"/>
<ellipse cx="3.0" cy="0" rx="1.2" ry="2.6" fill="#fff" stroke="#111" stroke-width="1.6"/>
<line x1="-0.7999999999999998" y1="-2.6" x2="-0.7999999999999998" y2="2.6" stroke="#262626" stroke-width="0.7"/>
</g>
<g transform="translate(1053.0 407.5) rotate(30)">
<rect x="-7.5" y="-2.5" width="15" height="5.0" fill="#fff" stroke="#262626" stroke-width="0.9"/>
<ellipse cx="-7.5" cy="0" rx="1.2" ry="2.5" fill="#fff" stroke="#262626" stroke-width="0.9"/>
<ellipse cx="0.8" cy="0" rx="1.1" ry="2.5" fill="none" stroke="#222" stroke-width="1.0"/>
<ellipse cx="3.8" cy="0" rx="1.1" ry="2.5" fill="none" stroke="#222" stroke-width="1.0"/>
<ellipse cx="7.5" cy="0" rx="1.2" ry="2.5" fill="#fff" stroke="#111" stroke-width="1.5"/>
</g>
<g transform="translate(1124.3 383.3) rotate(30)">
<rect x="-3.0" y="-2.6" width="6" height="5.2" fill="#fff" stroke="#262626" stroke-width="0.9"/>
<ellipse cx="-3.0" cy="0" rx="1.2" ry="2.6" fill="#fff" stroke="#262626" stroke-width="0.9"/>
<ellipse cx="3.0" cy="0" rx="1.2" ry="2.6" fill="#fff" stroke="#111" stroke-width="1.6"/>
<line x1="-0.7999999999999998" y1="-2.6" x2="-0.7999999999999998" y2="2.6" stroke="#262626" stroke-width="0.7"/>
</g>
<g transform="translate(1138.8 392.6) rotate(30)">
<rect x="-4.5" y="-1.7" width="9" height="3.4" fill="#ccc" stroke="#666" stroke-width="0.6"/>
<line x1="-5.0" y1="-1.7" x2="-4.0" y2="1.7" stroke="#555" stroke-width="0.6"/>
<line x1="-3.5" y1="-1.7" x2="-2.5" y2="1.7" stroke="#555" stroke-width="0.6"/>
<line x1="-2.0" y1="-1.7" x2="-1.0" y2="1.7" stroke="#555" stroke-width="0.6"/>
<line x1="-0.5" y1="-1.7" x2="0.5" y2="1.7" stroke="#555" stroke-width="0.6"/>
<line x1="1.0" y1="-1.7" x2="2.0" y2="1.7" stroke="#555" stroke-width="0.6"/>
<line x1="2.5" y1="-1.7" x2="3.5" y2="1.7" stroke="#555" stroke-width="0.6"/>
<line x1="4.0" y1="-1.7" x2="5.0" y2="1.7" stroke="#555" stroke-width="0.6"/>
</g>
<g transform="translate(1154.6 400.8) rotate(30)">
<rect x="-3.0" y="-2.6" width="6" height="5.2" fill="#fff" stroke="#262626" stroke-width="0.9"/>
<ellipse cx="-3.0" cy="0" rx="1.2" ry="2.6" fill="#fff" stroke="#262626" stroke-width="0.9"/>
<ellipse cx="3.0" cy="0" rx="1.2" ry="2.6" fill="#fff" stroke="#111" stroke-width="1.6"/>
<line x1="-0.7999999999999998" y1="-2.6" x2="-0.7999999999999998" y2="2.6" stroke="#262626" stroke-width="0.7"/>
</g>
<g transform="translate(1166.0 407.5) rotate(30)">
<rect x="-7.5" y="-2.5" width="15" height="5.0" fill="#fff" stroke="#262626" stroke-width="0.9"/>
<ellipse cx="-7.5" cy="0" rx="1.2" ry="2.5" fill="#fff" stroke="#262626" stroke-width="0.9"/>
<ellipse cx="0.8" cy="0" rx="1.1" ry="2.5" fill="none" stroke="#222" stroke-width="1.0"/>
<ellipse cx="3.8" cy="0" rx="1.1" ry="2.5" fill="none" stroke="#222" stroke-width="1.0"/>
<ellipse cx="7.5" cy="0" rx="1.2" ry="2.5" fill="#fff" stroke="#111" stroke-width="1.5"/>
</g>
<g transform="translate(645.0 518.0) rotate(30)">
<rect x="-3.0" y="-2.6" width="6" height="5.2" fill="#fff" stroke="#262626" stroke-width="0.9"/>
<ellipse cx="-3.0" cy="0" rx="1.2" ry="2.6" fill="#fff" stroke="#262626" stroke-width="0.9"/>
<ellipse cx="3.0" cy="0" rx="1.2" ry="2.6" fill="#fff" stroke="#111" stroke-width="1.6"/>
<line x1="-0.7999999999999998" y1="-2.6" x2="-0.7999999999999998" y2="2.6" stroke="#262626" stroke-width="0.7"/>
</g>
<g transform="translate(659.0 526.0) rotate(30)">
<rect x="-3.0" y="-2.6" width="6" height="5.2" fill="#fff" stroke="#262626" stroke-width="0.9"/>
<ellipse cx="-3.0" cy="0" rx="1.2" ry="2.6" fill="#fff" stroke="#262626" stroke-width="0.9"/>
<ellipse cx="3.0" cy="0" rx="1.2" ry="2.6" fill="#fff" stroke="#111" stroke-width="1.6"/>
<line x1="-0.7999999999999998" y1="-2.6" x2="-0.7999999999999998" y2="2.6" stroke="#262626" stroke-width="0.7"/>
</g>
<g transform="translate(673.8 535.8) rotate(30)">
<rect x="-4.5" y="-1.7" width="9" height="3.4" fill="#ccc" stroke="#666" stroke-width="0.6"/>
<line x1="-5.0" y1="-1.7" x2="-4.0" y2="1.7" stroke="#555" stroke-width="0.6"/>
<line x1="-3.5" y1="-1.7" x2="-2.5" y2="1.7" stroke="#555" stroke-width="0.6"/>
<line x1="-2.0" y1="-1.7" x2="-1.0" y2="1.7" stroke="#555" stroke-width="0.6"/>
<line x1="-0.5" y1="-1.7" x2="0.5" y2="1.7" stroke="#555" stroke-width="0.6"/>
<line x1="1.0" y1="-1.7" x2="2.0" y2="1.7" stroke="#555" stroke-width="0.6"/>
<line x1="2.5" y1="-1.7" x2="3.5" y2="1.7" stroke="#555" stroke-width="0.6"/>
<line x1="4.0" y1="-1.7" x2="5.0" y2="1.7" stroke="#555" stroke-width="0.6"/>
</g>
<g transform="translate(690.0 543.6) rotate(30)">
<rect x="-3.0" y="-2.6" width="6" height="5.2" fill="#fff" stroke="#262626" stroke-width="0.9"/>
<ellipse cx="-3.0" cy="0" rx="1.2" ry="2.6" fill="#fff" stroke="#262626" stroke-width="0.9"/>
<ellipse cx="3.0" cy="0" rx="1.2" ry="2.6" fill="#fff" stroke="#111" stroke-width="1.6"/>
<line x1="-0.7999999999999998" y1="-2.6" x2="-0.7999999999999998" y2="2.6" stroke="#262626" stroke-width="0.7"/>
</g>
<g transform="translate(702.5 550.0) rotate(30)">
<rect x="-7.5" y="-2.5" width="15" height="5.0" fill="#fff" stroke="#262626" stroke-width="0.9"/>
<ellipse cx="-7.5" cy="0" rx="1.2" ry="2.5" fill="#fff" stroke="#262626" stroke-width="0.9"/>
<ellipse cx="0.8" cy="0" rx="1.1" ry="2.5" fill="none" stroke="#222" stroke-width="1.0"/>
<ellipse cx="3.8" cy="0" rx="1.1" ry="2.5" fill="none" stroke="#222" stroke-width="1.0"/>
<ellipse cx="7.5" cy="0" rx="1.2" ry="2.5" fill="#fff" stroke="#111" stroke-width="1.5"/>
</g>
<g transform="translate(769.8 519.5) rotate(30)">
<rect x="-3.0" y="-2.6" width="6" height="5.2" fill="#fff" stroke="#262626" stroke-width="0.9"/>
<ellipse cx="-3.0" cy="0" rx="1.2" ry="2.6" fill="#fff" stroke="#262626" stroke-width="0.9"/>
<ellipse cx="3.0" cy="0" rx="1.2" ry="2.6" fill="#fff" stroke="#111" stroke-width="1.6"/>
<line x1="-0.7999999999999998" y1="-2.6" x2="-0.7999999999999998" y2="2.6" stroke="#262626" stroke-width="0.7"/>
</g>
<g transform="translate(784.2 529.3) rotate(30)">
<rect x="-4.5" y="-1.7" width="9" height="3.4" fill="#ccc" stroke="#666" stroke-width="0.6"/>
<line x1="-5.0" y1="-1.7" x2="-4.0" y2="1.7" stroke="#555" stroke-width="0.6"/>
<line x1="-3.5" y1="-1.7" x2="-2.5" y2="1.7" stroke="#555" stroke-width="0.6"/>
<line x1="-2.0" y1="-1.7" x2="-1.0" y2="1.7" stroke="#555" stroke-width="0.6"/>
<line x1="-0.5" y1="-1.7" x2="0.5" y2="1.7" stroke="#555" stroke-width="0.6"/>
<line x1="1.0" y1="-1.7" x2="2.0" y2="1.7" stroke="#555" stroke-width="0.6"/>
<line x1="2.5" y1="-1.7" x2="3.5" y2="1.7" stroke="#555" stroke-width="0.6"/>
<line x1="4.0" y1="-1.7" x2="5.0" y2="1.7" stroke="#555" stroke-width="0.6"/>
</g>
<g transform="translate(799.8 536.7) rotate(30)">
<rect x="-3.0" y="-2.6" width="6" height="5.2" fill="#fff" stroke="#262626" stroke-width="0.9"/>
<ellipse cx="-3.0" cy="0" rx="1.2" ry="2.6" fill="#fff" stroke="#262626" stroke-width="0.9"/>
<ellipse cx="3.0" cy="0" rx="1.2" ry="2.6" fill="#fff" stroke="#111" stroke-width="1.6"/>
<line x1="-0.7999999999999998" y1="-2.6" x2="-0.7999999999999998" y2="2.6" stroke="#262626" stroke-width="0.7"/>
</g>
<g transform="translate(812.0 544.5) rotate(30)">
<rect x="-7.5" y="-2.5" width="15" height="5.0" fill="#fff" stroke="#262626" stroke-width="0.9"/>
<ellipse cx="-7.5" cy="0" rx="1.2" ry="2.5" fill="#fff" stroke="#262626" stroke-width="0.9"/>
<ellipse cx="0.8" cy="0" rx="1.1" ry="2.5" fill="none" stroke="#222" stroke-width="1.0"/>
<ellipse cx="3.8" cy="0" rx="1.1" ry="2.5" fill="none" stroke="#222" stroke-width="1.0"/>
<ellipse cx="7.5" cy="0" rx="1.2" ry="2.5" fill="#fff" stroke="#111" stroke-width="1.5"/>
</g>
<g transform="translate(894.2 526.0) rotate(30)">
<rect x="-4.5" y="-1.7" width="9" height="3.4" fill="#ccc" stroke="#666" stroke-width="0.6"/>
<line x1="-5.0" y1="-1.7" x2="-4.0" y2="1.7" stroke="#555" stroke-width="0.6"/>
<line x1="-3.5" y1="-1.7" x2="-2.5" y2="1.7" stroke="#555" stroke-width="0.6"/>
<line x1="-2.0" y1="-1.7" x2="-1.0" y2="1.7" stroke="#555" stroke-width="0.6"/>
<line x1="-0.5" y1="-1.7" x2="0.5" y2="1.7" stroke="#555" stroke-width="0.6"/>
<line x1="1.0" y1="-1.7" x2="2.0" y2="1.7" stroke="#555" stroke-width="0.6"/>
<line x1="2.5" y1="-1.7" x2="3.5" y2="1.7" stroke="#555" stroke-width="0.6"/>
<line x1="4.0" y1="-1.7" x2="5.0" y2="1.7" stroke="#555" stroke-width="0.6"/>
</g>
<g transform="translate(909.8 533.8) rotate(30)">
<rect x="-3.0" y="-2.6" width="6" height="5.2" fill="#fff" stroke="#262626" stroke-width="0.9"/>
<ellipse cx="-3.0" cy="0" rx="1.2" ry="2.6" fill="#fff" stroke="#262626" stroke-width="0.9"/>
<ellipse cx="3.0" cy="0" rx="1.2" ry="2.6" fill="#fff" stroke="#111" stroke-width="1.6"/>
<line x1="-0.7999999999999998" y1="-2.6" x2="-0.7999999999999998" y2="2.6" stroke="#262626" stroke-width="0.7"/>
</g>
<g transform="translate(928.0 544.5) rotate(30)">
<rect x="-7.0" y="-2.5" width="14" height="5.0" fill="#fff" stroke="#262626" stroke-width="0.9"/>
<ellipse cx="-7.0" cy="0" rx="1.2" ry="2.5" fill="#fff" stroke="#262626" stroke-width="0.9"/>
<ellipse cx="0.7" cy="0" rx="1.1" ry="2.5" fill="none" stroke="#222" stroke-width="1.0"/>
<ellipse cx="3.5" cy="0" rx="1.1" ry="2.5" fill="none" stroke="#222" stroke-width="1.0"/>
<ellipse cx="7.0" cy="0" rx="1.2" ry="2.5" fill="#fff" stroke="#111" stroke-width="1.5"/>
</g>
<g transform="translate(1008.9 521.5) rotate(30)">
<rect x="-3.0" y="-2.6" width="6" height="5.2" fill="#fff" stroke="#262626" stroke-width="0.9"/>
<ellipse cx="-3.0" cy="0" rx="1.2" ry="2.6" fill="#fff" stroke="#262626" stroke-width="0.9"/>
<ellipse cx="3.0" cy="0" rx="1.2" ry="2.6" fill="#fff" stroke="#111" stroke-width="1.6"/>
<line x1="-0.7999999999999998" y1="-2.6" x2="-0.7999999999999998" y2="2.6" stroke="#262626" stroke-width="0.7"/>
</g>
<g transform="translate(1023.5 530.5) rotate(30)">
<rect x="-7.0" y="-2.5" width="14" height="5.0" fill="#fff" stroke="#262626" stroke-width="0.9"/>
<ellipse cx="-7.0" cy="0" rx="1.2" ry="2.5" fill="#fff" stroke="#262626" stroke-width="0.9"/>
<ellipse cx="0.7" cy="0" rx="1.1" ry="2.5" fill="none" stroke="#222" stroke-width="1.0"/>
<ellipse cx="3.5" cy="0" rx="1.1" ry="2.5" fill="none" stroke="#222" stroke-width="1.0"/>
<ellipse cx="7.0" cy="0" rx="1.2" ry="2.5" fill="#fff" stroke="#111" stroke-width="1.5"/>
</g>
<g transform="translate(1044.2 543.0) rotate(30)">
<rect x="-4.5" y="-1.7" width="9" height="3.4" fill="#ccc" stroke="#666" stroke-width="0.6"/>
<line x1="-5.0" y1="-1.7" x2="-4.0" y2="1.7" stroke="#555" stroke-width="0.6"/>
<line x1="-3.5" y1="-1.7" x2="-2.5" y2="1.7" stroke="#555" stroke-width="0.6"/>
<line x1="-2.0" y1="-1.7" x2="-1.0" y2="1.7" stroke="#555" stroke-width="0.6"/>
<line x1="-0.5" y1="-1.7" x2="0.5" y2="1.7" stroke="#555" stroke-width="0.6"/>
<line x1="1.0" y1="-1.7" x2="2.0" y2="1.7" stroke="#555" stroke-width="0.6"/>
<line x1="2.5" y1="-1.7" x2="3.5" y2="1.7" stroke="#555" stroke-width="0.6"/>
<line x1="4.0" y1="-1.7" x2="5.0" y2="1.7" stroke="#555" stroke-width="0.6"/>
</g>
<ellipse cx="1057.3" cy="548.5" rx="2.7" ry="2.7" fill="#fff" stroke="#262626" stroke-width="0.9"/>
<g transform="translate(1112.0 547.0) rotate(-28)">
<rect x="-6.5" y="-4" width="13" height="8" fill="#fff" stroke="#262626" stroke-width="0.9"/>
<ellipse cx="-6.5" cy="0" rx="1.2" ry="4" fill="#fff" stroke="#262626" stroke-width="0.9"/>
<ellipse cx="6.5" cy="0" rx="1.2" ry="4" fill="#fff" stroke="#111" stroke-width="1.6"/>
<line x1="-4.3" y1="-4" x2="-4.3" y2="4" stroke="#262626" stroke-width="0.7"/>
</g>
<g transform="translate(1124.0 540.0) rotate(-28)">
<rect x="-4.0" y="-4" width="8" height="8" fill="#fff" stroke="#262626" stroke-width="0.9"/>
<ellipse cx="-4.0" cy="0" rx="1.2" ry="4" fill="#fff" stroke="#262626" stroke-width="0.9"/>
<ellipse cx="4.0" cy="0" rx="1.2" ry="4" fill="#fff" stroke="#111" stroke-width="1.6"/>
<line x1="-1.7999999999999998" y1="-4" x2="-1.7999999999999998" y2="4" stroke="#262626" stroke-width="0.7"/>
</g>
<g transform="translate(1136.1 534.8) rotate(-28)">
<rect x="-4.0" y="-2" width="8" height="4" fill="#ccc" stroke="#666" stroke-width="0.6"/>
<line x1="-4.5" y1="-2" x2="-3.5" y2="2" stroke="#555" stroke-width="0.6"/>
<line x1="-3.2" y1="-2" x2="-2.2" y2="2" stroke="#555" stroke-width="0.6"/>
<line x1="-1.8" y1="-2" x2="-0.8" y2="2" stroke="#555" stroke-width="0.6"/>
<line x1="-0.5" y1="-2" x2="0.5" y2="2" stroke="#555" stroke-width="0.6"/>
<line x1="0.8" y1="-2" x2="1.8" y2="2" stroke="#555" stroke-width="0.6"/>
<line x1="2.2" y1="-2" x2="3.2" y2="2" stroke="#555" stroke-width="0.6"/>
<line x1="3.5" y1="-2" x2="4.5" y2="2" stroke="#555" stroke-width="0.6"/>
</g>
<g transform="translate(1155.0 524.0) rotate(-28)">
<rect x="-5.0" y="-3.8" width="10" height="7.6" fill="#fff" stroke="#262626" stroke-width="0.9"/>
<ellipse cx="-5.0" cy="0" rx="1.2" ry="3.8" fill="#fff" stroke="#262626" stroke-width="0.9"/>
<ellipse cx="5.0" cy="0" rx="1.2" ry="3.8" fill="#fff" stroke="#111" stroke-width="1.6"/>
<line x1="-2.8" y1="-3.8" x2="-2.8" y2="3.8" stroke="#262626" stroke-width="0.7"/>
</g>
<g transform="translate(1172.4 513.8) rotate(-28)">
<rect x="-5.0" y="-4" width="10" height="8" fill="#fff" stroke="#262626" stroke-width="0.9"/>
<ellipse cx="-5.0" cy="0" rx="1.2" ry="4" fill="#fff" stroke="#262626" stroke-width="0.9"/>
<ellipse cx="5.0" cy="0" rx="1.2" ry="4" fill="#fff" stroke="#111" stroke-width="1.6"/>
<line x1="-2.8" y1="-4" x2="-2.8" y2="4" stroke="#262626" stroke-width="0.7"/>
</g>
<line x1="309.5" y1="31.0" x2="309.5" y2="47.0" stroke="#2a2a2a" stroke-width="1.0"/>
<line x1="353.5" y1="67.0" x2="353.5" y2="98.0" stroke="#2a2a2a" stroke-width="1.0"/>
<line x1="323.5" y1="84.0" x2="323.5" y2="117.0" stroke="#2a2a2a" stroke-width="1.0"/>
<line x1="290.5" y1="100.5" x2="290.5" y2="135.0" stroke="#2a2a2a" stroke-width="1.0"/>
<line x1="263.5" y1="126.0" x2="263.5" y2="139.5" stroke="#2a2a2a" stroke-width="1.0"/>
<line x1="234.5" y1="154.3" x2="234.5" y2="166.5" stroke="#2a2a2a" stroke-width="1.0"/>
<line x1="404.0" y1="86.5" x2="424.4" y2="86.5" stroke="#2a2a2a" stroke-width="1.0"/>
<line x1="428.5" y1="111.5" x2="449.0" y2="111.5" stroke="#2a2a2a" stroke-width="1.0"/>
<line x1="432.8" y1="154.5" x2="450.0" y2="154.5" stroke="#2a2a2a" stroke-width="1.0"/>
<line x1="372.7" y1="177.5" x2="392.7" y2="177.5" stroke="#2a2a2a" stroke-width="1.0"/>
<line x1="513.5" y1="188.0" x2="513.5" y2="205.5" stroke="#2a2a2a" stroke-width="1.0"/>
<line x1="477.5" y1="203.6" x2="477.5" y2="221.5" stroke="#2a2a2a" stroke-width="1.0"/>
<line x1="450.5" y1="223.2" x2="450.5" y2="242.0" stroke="#2a2a2a" stroke-width="1.0"/>
<line x1="159.5" y1="206.5" x2="179.3" y2="206.5" stroke="#2a2a2a" stroke-width="1.0"/>
<line x1="157.7" y1="228.5" x2="178.0" y2="228.5" stroke="#2a2a2a" stroke-width="1.0"/>
<line x1="138.0" y1="262.5" x2="157.7" y2="262.5" stroke="#2a2a2a" stroke-width="1.0"/>
<line x1="155.0" y1="289.5" x2="175.7" y2="289.5" stroke="#2a2a2a" stroke-width="1.0"/>
<line x1="111.9" y1="328.5" x2="132.6" y2="328.5" stroke="#2a2a2a" stroke-width="1.0"/>
<line x1="218.8" y1="338.5" x2="237.7" y2="338.5" stroke="#2a2a2a" stroke-width="1.0"/>
<line x1="136.0" y1="365.5" x2="155.0" y2="365.5" stroke="#2a2a2a" stroke-width="1.0"/>
<line x1="208.0" y1="387.5" x2="228.7" y2="387.5" stroke="#2a2a2a" stroke-width="1.0"/>
<line x1="338.6" y1="424.5" x2="357.4" y2="424.5" stroke="#2a2a2a" stroke-width="1.0"/>
<line x1="170.3" y1="474.5" x2="186.4" y2="474.5" stroke="#2a2a2a" stroke-width="1.0"/>
<line x1="220.0" y1="495.5" x2="239.3" y2="495.5" stroke="#2a2a2a" stroke-width="1.0"/>
<line x1="293.4" y1="513.5" x2="313.2" y2="513.5" stroke="#2a2a2a" stroke-width="1.0"/>
<line x1="542.5" y1="532.2" x2="542.5" y2="553.0" stroke="#2a2a2a" stroke-width="1.0"/>
<line x1="239.3" y1="544.5" x2="259.5" y2="544.5" stroke="#2a2a2a" stroke-width="1.0"/>
<line x1="322.8" y1="556.5" x2="342.3" y2="556.5" stroke="#2a2a2a" stroke-width="1.0"/>
<line x1="239.3" y1="564.5" x2="259.5" y2="564.5" stroke="#2a2a2a" stroke-width="1.0"/>
<line x1="378.0" y1="577.5" x2="396.5" y2="577.5" stroke="#2a2a2a" stroke-width="1.0"/>
<line x1="430.3" y1="643.5" x2="452.8" y2="643.5" stroke="#2a2a2a" stroke-width="1.0"/>
<line x1="430.3" y1="654.5" x2="464.5" y2="654.5" stroke="#2a2a2a" stroke-width="1.0"/>
<line x1="430.3" y1="664.5" x2="452.8" y2="664.5" stroke="#2a2a2a" stroke-width="1.0"/>
<line x1="452.5" y1="643.4" x2="452.5" y2="664.9" stroke="#2a2a2a" stroke-width="1.0"/>
<line x1="434.8" y1="683.5" x2="454.6" y2="683.5" stroke="#2a2a2a" stroke-width="1.0"/>
<line x1="103.5" y1="766.8" x2="103.5" y2="787.5" stroke="#2a2a2a" stroke-width="1.0"/>
<line x1="278.4" y1="811.5" x2="298.6" y2="811.5" stroke="#2a2a2a" stroke-width="1.0"/>
<line x1="145.5" y1="520.0" x2="145.5" y2="539.0" stroke="#2a2a2a" stroke-width="1.0"/>
<line x1="120.5" y1="534.5" x2="120.5" y2="553.0" stroke="#2a2a2a" stroke-width="1.0"/>
<line x1="94.5" y1="548.0" x2="94.5" y2="567.0" stroke="#2a2a2a" stroke-width="1.0"/>
<line x1="70.5" y1="562.0" x2="70.5" y2="582.0" stroke="#2a2a2a" stroke-width="1.0"/>
<line x1="205.5" y1="566.0" x2="205.5" y2="585.5" stroke="#2a2a2a" stroke-width="1.0"/>
<line x1="179.5" y1="580.5" x2="179.5" y2="600.0" stroke="#2a2a2a" stroke-width="1.0"/>
<line x1="156.5" y1="594.0" x2="156.5" y2="614.0" stroke="#2a2a2a" stroke-width="1.0"/>
<line x1="131.5" y1="608.8" x2="131.5" y2="628.5" stroke="#2a2a2a" stroke-width="1.0"/>
<line x1="110.5" y1="621.5" x2="110.5" y2="641.0" stroke="#2a2a2a" stroke-width="1.0"/>
<line x1="93.5" y1="656.0" x2="93.5" y2="676.0" stroke="#2a2a2a" stroke-width="1.0"/>
<line x1="439.5" y1="710.5" x2="439.5" y2="732.0" stroke="#2a2a2a" stroke-width="1.0"/>
<line x1="465.5" y1="739.0" x2="465.5" y2="760.3" stroke="#2a2a2a" stroke-width="1.0"/>
<line x1="433.5" y1="744.0" x2="433.5" y2="767.6" stroke="#2a2a2a" stroke-width="1.0"/>
<line x1="409.5" y1="741.0" x2="409.5" y2="765.8" stroke="#2a2a2a" stroke-width="1.0"/>
<line x1="385.5" y1="756.0" x2="385.5" y2="779.7" stroke="#2a2a2a" stroke-width="1.0"/>
<line x1="366.5" y1="776.0" x2="366.5" y2="800.3" stroke="#2a2a2a" stroke-width="1.0"/>
<line x1="342.5" y1="777.0" x2="342.5" y2="798.2" stroke="#2a2a2a" stroke-width="1.0"/>
<line x1="177.4" y1="756.5" x2="199.0" y2="756.5" stroke="#2a2a2a" stroke-width="1.0"/>
<line x1="219.5" y1="761.0" x2="219.5" y2="784.0" stroke="#2a2a2a" stroke-width="1.0"/>
<polygon points="286.7,154.5 286.7,162.5 288.2,163.8 293.2,163.8 294.7,162.5 294.7,154.5" fill="#fff" stroke="#262626" stroke-width="0.9" stroke-linejoin="round" />
<path d="M282.9,149.5 L282.9,154.5 A7.8,3.6 0 0 0 298.5,154.5 L298.5,149.5 Z" fill="#fff" stroke="#262626" stroke-width="0.9" stroke-linejoin="round" />
<ellipse cx="290.7" cy="149.5" rx="7.8" ry="3.6" fill="#fff" stroke="#262626" stroke-width="0.9"/>
<path d="M283.9,138.5 L283.9,149.5 A6.8,3.6 0 0 0 297.5,149.5 L297.5,138.5 Z" fill="#fff" stroke="#262626" stroke-width="0.9" stroke-linejoin="round" />
<ellipse cx="290.7" cy="138.5" rx="6.8" ry="4.2" fill="#fff" stroke="#262626" stroke-width="0.9"/>
<ellipse cx="290.7" cy="138.2" rx="3.0" ry="2.0" fill="#fff" stroke="#262626" stroke-width="0.9"/>
<polygon points="293.0,146.7 297.5,143.2 311.2,151.0 304.8,153.4" fill="#fff" stroke="#262626" stroke-width="0.9" stroke-linejoin="round" />
<polygon points="304.8,153.4 311.2,151.0 311.2,157.6 304.8,160.5" fill="#fff" stroke="#262626" stroke-width="0.9" stroke-linejoin="round" />
<polygon points="293.0,146.7 304.8,153.4 304.8,160.5 295.2,155.5" fill="#fff" stroke="#262626" stroke-width="0.9" stroke-linejoin="round" />
<polygon points="319.4,136.3 319.4,144.3 320.9,145.6 325.9,145.6 327.4,144.3 327.4,136.3" fill="#fff" stroke="#262626" stroke-width="0.9" stroke-linejoin="round" />
<path d="M315.6,131.3 L315.6,136.3 A7.8,3.6 0 0 0 331.2,136.3 L331.2,131.3 Z" fill="#fff" stroke="#262626" stroke-width="0.9" stroke-linejoin="round" />
<ellipse cx="323.4" cy="131.3" rx="7.8" ry="3.6" fill="#fff" stroke="#262626" stroke-width="0.9"/>
<path d="M316.6,120.3 L316.6,131.3 A6.8,3.6 0 0 0 330.2,131.3 L330.2,120.3 Z" fill="#fff" stroke="#262626" stroke-width="0.9" stroke-linejoin="round" />
<ellipse cx="323.4" cy="120.3" rx="6.8" ry="4.2" fill="#fff" stroke="#262626" stroke-width="0.9"/>
<ellipse cx="323.4" cy="120.0" rx="3.0" ry="2.0" fill="#fff" stroke="#262626" stroke-width="0.9"/>
<polygon points="325.7,128.5 330.2,125.0 343.9,132.8 337.5,135.2" fill="#fff" stroke="#262626" stroke-width="0.9" stroke-linejoin="round" />
<polygon points="337.5,135.2 343.9,132.8 343.9,139.4 337.5,142.3" fill="#fff" stroke="#262626" stroke-width="0.9" stroke-linejoin="round" />
<polygon points="325.7,128.5 337.5,135.2 337.5,142.3 327.9,137.3" fill="#fff" stroke="#262626" stroke-width="0.9" stroke-linejoin="round" />
<polygon points="349.6,117.3 349.6,125.3 351.1,126.6 356.1,126.6 357.6,125.3 357.6,117.3" fill="#fff" stroke="#262626" stroke-width="0.9" stroke-linejoin="round" />
<path d="M345.8,112.3 L345.8,117.3 A7.8,3.6 0 0 0 361.4,117.3 L361.4,112.3 Z" fill="#fff" stroke="#262626" stroke-width="0.9" stroke-linejoin="round" />
<ellipse cx="353.6" cy="112.3" rx="7.8" ry="3.6" fill="#fff" stroke="#262626" stroke-width="0.9"/>
<path d="M346.8,101.3 L346.8,112.3 A6.8,3.6 0 0 0 360.4,112.3 L360.4,101.3 Z" fill="#fff" stroke="#262626" stroke-width="0.9" stroke-linejoin="round" />
<ellipse cx="353.6" cy="101.3" rx="6.8" ry="4.2" fill="#fff" stroke="#262626" stroke-width="0.9"/>
<ellipse cx="353.6" cy="101.0" rx="3.0" ry="2.0" fill="#fff" stroke="#262626" stroke-width="0.9"/>
<polygon points="355.9,109.5 360.4,106.0 374.1,113.8 367.7,116.2" fill="#fff" stroke="#262626" stroke-width="0.9" stroke-linejoin="round" />
<polygon points="367.7,116.2 374.1,113.8 374.1,120.4 367.7,123.3" fill="#fff" stroke="#262626" stroke-width="0.9" stroke-linejoin="round" />
<polygon points="355.9,109.5 367.7,116.2 367.7,123.3 358.1,118.3" fill="#fff" stroke="#262626" stroke-width="0.9" stroke-linejoin="round" />
<polygon points="380.2,87.1 380.2,95.1 381.7,96.4 386.7,96.4 388.2,95.1 388.2,87.1" fill="#fff" stroke="#262626" stroke-width="0.9" stroke-linejoin="round" />
<path d="M376.4,82.1 L376.4,87.1 A7.8,3.6 0 0 0 392.0,87.1 L392.0,82.1 Z" fill="#fff" stroke="#262626" stroke-width="0.9" stroke-linejoin="round" />
<ellipse cx="384.2" cy="82.1" rx="7.8" ry="3.6" fill="#fff" stroke="#262626" stroke-width="0.9"/>
<path d="M377.4,71.1 L377.4,82.1 A6.8,3.6 0 0 0 391.0,82.1 L391.0,71.1 Z" fill="#fff" stroke="#262626" stroke-width="0.9" stroke-linejoin="round" />
<ellipse cx="384.2" cy="71.1" rx="6.8" ry="4.2" fill="#fff" stroke="#262626" stroke-width="0.9"/>
<ellipse cx="384.2" cy="70.8" rx="3.0" ry="2.0" fill="#fff" stroke="#262626" stroke-width="0.9"/>
<polygon points="386.5,79.3 391.0,75.8 404.7,83.6 398.3,86.0" fill="#fff" stroke="#262626" stroke-width="0.9" stroke-linejoin="round" />
<polygon points="398.3,86.0 404.7,83.6 404.7,90.2 398.3,93.1" fill="#fff" stroke="#262626" stroke-width="0.9" stroke-linejoin="round" />
<polygon points="386.5,79.3 398.3,86.0 398.3,93.1 388.7,88.1" fill="#fff" stroke="#262626" stroke-width="0.9" stroke-linejoin="round" />
<polygon points="446.7,261.3 446.7,269.3 448.2,270.6 453.2,270.6 454.7,269.3 454.7,261.3" fill="#fff" stroke="#262626" stroke-width="0.9" stroke-linejoin="round" />
<path d="M442.9,256.3 L442.9,261.3 A7.8,3.6 0 0 0 458.5,261.3 L458.5,256.3 Z" fill="#fff" stroke="#262626" stroke-width="0.9" stroke-linejoin="round" />
<ellipse cx="450.7" cy="256.3" rx="7.8" ry="3.6" fill="#fff" stroke="#262626" stroke-width="0.9"/>
<path d="M443.9,245.3 L443.9,256.3 A6.8,3.6 0 0 0 457.5,256.3 L457.5,245.3 Z" fill="#fff" stroke="#262626" stroke-width="0.9" stroke-linejoin="round" />
<ellipse cx="450.7" cy="245.3" rx="6.8" ry="4.2" fill="#fff" stroke="#262626" stroke-width="0.9"/>
<ellipse cx="450.7" cy="245.0" rx="3.0" ry="2.0" fill="#fff" stroke="#262626" stroke-width="0.9"/>
<polygon points="453.0,253.5 457.5,250.0 471.2,257.8 464.8,260.2" fill="#fff" stroke="#262626" stroke-width="0.9" stroke-linejoin="round" />
<polygon points="464.8,260.2 471.2,257.8 471.2,264.4 464.8,267.3" fill="#fff" stroke="#262626" stroke-width="0.9" stroke-linejoin="round" />
<polygon points="453.0,253.5 464.8,260.2 464.8,267.3 455.2,262.3" fill="#fff" stroke="#262626" stroke-width="0.9" stroke-linejoin="round" />
<polygon points="473.9,240.3 473.9,248.3 475.4,249.6 480.4,249.6 481.9,248.3 481.9,240.3" fill="#fff" stroke="#262626" stroke-width="0.9" stroke-linejoin="round" />
<path d="M470.1,235.3 L470.1,240.3 A7.8,3.6 0 0 0 485.7,240.3 L485.7,235.3 Z" fill="#fff" stroke="#262626" stroke-width="0.9" stroke-linejoin="round" />
<ellipse cx="477.9" cy="235.3" rx="7.8" ry="3.6" fill="#fff" stroke="#262626" stroke-width="0.9"/>
<path d="M471.1,224.3 L471.1,235.3 A6.8,3.6 0 0 0 484.7,235.3 L484.7,224.3 Z" fill="#fff" stroke="#262626" stroke-width="0.9" stroke-linejoin="round" />
<ellipse cx="477.9" cy="224.3" rx="6.8" ry="4.2" fill="#fff" stroke="#262626" stroke-width="0.9"/>
<ellipse cx="477.9" cy="224.0" rx="3.0" ry="2.0" fill="#fff" stroke="#262626" stroke-width="0.9"/>
<polygon points="480.2,232.5 484.7,229.0 498.4,236.8 492.0,239.2" fill="#fff" stroke="#262626" stroke-width="0.9" stroke-linejoin="round" />
<polygon points="492.0,239.2 498.4,236.8 498.4,243.4 492.0,246.3" fill="#fff" stroke="#262626" stroke-width="0.9" stroke-linejoin="round" />
<polygon points="480.2,232.5 492.0,239.2 492.0,246.3 482.4,241.3" fill="#fff" stroke="#262626" stroke-width="0.9" stroke-linejoin="round" />
<polygon points="509.7,224.3 509.7,232.3 511.2,233.6 516.2,233.6 517.7,232.3 517.7,224.3" fill="#fff" stroke="#262626" stroke-width="0.9" stroke-linejoin="round" />
<path d="M505.9,219.3 L505.9,224.3 A7.8,3.6 0 0 0 521.5,224.3 L521.5,219.3 Z" fill="#fff" stroke="#262626" stroke-width="0.9" stroke-linejoin="round" />
<ellipse cx="513.7" cy="219.3" rx="7.8" ry="3.6" fill="#fff" stroke="#262626" stroke-width="0.9"/>
<path d="M506.9,208.3 L506.9,219.3 A6.8,3.6 0 0 0 520.5,219.3 L520.5,208.3 Z" fill="#fff" stroke="#262626" stroke-width="0.9" stroke-linejoin="round" />
<ellipse cx="513.7" cy="208.3" rx="6.8" ry="4.2" fill="#fff" stroke="#262626" stroke-width="0.9"/>
<ellipse cx="513.7" cy="208.0" rx="3.0" ry="2.0" fill="#fff" stroke="#262626" stroke-width="0.9"/>
<polygon points="516.0,216.5 520.5,213.0 534.2,220.8 527.8,223.2" fill="#fff" stroke="#262626" stroke-width="0.9" stroke-linejoin="round" />
<polygon points="527.8,223.2 534.2,220.8 534.2,227.4 527.8,230.3" fill="#fff" stroke="#262626" stroke-width="0.9" stroke-linejoin="round" />
<polygon points="516.0,216.5 527.8,223.2 527.8,230.3 518.2,225.3" fill="#fff" stroke="#262626" stroke-width="0.9" stroke-linejoin="round" />
<polygon points="260.6,148.9 260.6,177.1 261.6,178.1 265.2,178.1 266.2,177.1 266.2,148.9" fill="#fff" stroke="#262626" stroke-width="0.9" stroke-linejoin="round" />
<line x1="260.6" y1="163.7" x2="266.2" y2="162.6" stroke="#262626" stroke-width="0.6"/>
<line x1="260.6" y1="165.9" x2="266.2" y2="164.8" stroke="#262626" stroke-width="0.6"/>
<line x1="260.6" y1="168.1" x2="266.2" y2="167.0" stroke="#262626" stroke-width="0.6"/>
<line x1="260.6" y1="170.3" x2="266.2" y2="169.2" stroke="#262626" stroke-width="0.6"/>
<line x1="260.6" y1="172.5" x2="266.2" y2="171.4" stroke="#262626" stroke-width="0.6"/>
<line x1="260.6" y1="174.7" x2="266.2" y2="173.6" stroke="#262626" stroke-width="0.6"/>
<line x1="260.6" y1="176.9" x2="266.2" y2="175.8" stroke="#262626" stroke-width="0.6"/>
<path d="M257.1,146.4 L257.1,148.2 A6.3,2.4 0 0 0 269.7,148.2 L269.7,146.4 Z" fill="#fff" stroke="#262626" stroke-width="0.9" stroke-linejoin="round" />
<polygon points="257.8,141.6 257.8,145.9 261.4,147.6 265.4,147.6 269.0,145.9 269.0,141.6 265.4,139.7 261.4,139.7" fill="#fff" stroke="#262626" stroke-width="0.9" stroke-linejoin="round" />
<line x1="261.4" y1="143.2" x2="261.4" y2="147.6" stroke="#262626" stroke-width="0.6"/>
<line x1="265.4" y1="143.2" x2="265.4" y2="147.6" stroke="#262626" stroke-width="0.6"/>
<ellipse cx="263.4" cy="142.0" rx="3.2" ry="1.7" fill="#fff" stroke="#262626" stroke-width="0.9"/>
<polygon points="231.5,175.8 231.5,204.0 232.5,205.0 236.1,205.0 237.1,204.0 237.1,175.8" fill="#fff" stroke="#262626" stroke-width="0.9" stroke-linejoin="round" />
<line x1="231.5" y1="191.1" x2="237.1" y2="190.0" stroke="#262626" stroke-width="0.6"/>
<line x1="231.5" y1="193.3" x2="237.1" y2="192.2" stroke="#262626" stroke-width="0.6"/>
<line x1="231.5" y1="195.5" x2="237.1" y2="194.4" stroke="#262626" stroke-width="0.6"/>
<line x1="231.5" y1="197.7" x2="237.1" y2="196.6" stroke="#262626" stroke-width="0.6"/>
<line x1="231.5" y1="199.9" x2="237.1" y2="198.8" stroke="#262626" stroke-width="0.6"/>
<line x1="231.5" y1="202.1" x2="237.1" y2="201.0" stroke="#262626" stroke-width="0.6"/>
<line x1="231.5" y1="204.3" x2="237.1" y2="203.2" stroke="#262626" stroke-width="0.6"/>
<path d="M228.0,173.3 L228.0,175.1 A6.3,2.4 0 0 0 240.6,175.1 L240.6,173.3 Z" fill="#fff" stroke="#262626" stroke-width="0.9" stroke-linejoin="round" />
<polygon points="228.7,168.5 228.7,172.8 232.3,174.5 236.3,174.5 239.9,172.8 239.9,168.5 236.3,166.6 232.3,166.6" fill="#fff" stroke="#262626" stroke-width="0.9" stroke-linejoin="round" />
<line x1="232.3" y1="170.1" x2="232.3" y2="174.5" stroke="#262626" stroke-width="0.6"/>
<line x1="236.3" y1="170.1" x2="236.3" y2="174.5" stroke="#262626" stroke-width="0.6"/>
<ellipse cx="234.3" cy="168.9" rx="3.2" ry="1.7" fill="#fff" stroke="#262626" stroke-width="0.9"/>
<polygon points="176.5,200.0 176.5,214.5 177.5,215.5 181.1,215.5 182.1,214.5 182.1,200.0" fill="#fff" stroke="#262626" stroke-width="0.9" stroke-linejoin="round" />
<line x1="176.5" y1="203.3" x2="182.1" y2="202.2" stroke="#262626" stroke-width="0.6"/>
<line x1="176.5" y1="205.5" x2="182.1" y2="204.4" stroke="#262626" stroke-width="0.6"/>
<line x1="176.5" y1="207.7" x2="182.1" y2="206.6" stroke="#262626" stroke-width="0.6"/>
<line x1="176.5" y1="209.9" x2="182.1" y2="208.8" stroke="#262626" stroke-width="0.6"/>
<line x1="176.5" y1="212.1" x2="182.1" y2="211.0" stroke="#262626" stroke-width="0.6"/>
<line x1="176.5" y1="214.3" x2="182.1" y2="213.2" stroke="#262626" stroke-width="0.6"/>
<path d="M173.0,197.5 L173.0,199.3 A6.3,2.4 0 0 0 185.6,199.3 L185.6,197.5 Z" fill="#fff" stroke="#262626" stroke-width="0.9" stroke-linejoin="round" />
<polygon points="173.7,192.7 173.7,197.0 177.3,198.7 181.3,198.7 184.9,197.0 184.9,192.7 181.3,190.8 177.3,190.8" fill="#fff" stroke="#262626" stroke-width="0.9" stroke-linejoin="round" />
<line x1="177.3" y1="194.3" x2="177.3" y2="198.7" stroke="#262626" stroke-width="0.6"/>
<line x1="181.3" y1="194.3" x2="181.3" y2="198.7" stroke="#262626" stroke-width="0.6"/>
<ellipse cx="179.3" cy="193.1" rx="3.2" ry="1.7" fill="#fff" stroke="#262626" stroke-width="0.9"/>
<polygon points="427.1,149.9 427.1,163.6 428.1,164.6 431.7,164.6 432.7,163.6 432.7,149.9" fill="#fff" stroke="#262626" stroke-width="0.9" stroke-linejoin="round" />
<line x1="427.1" y1="151.2" x2="432.7" y2="150.1" stroke="#262626" stroke-width="0.6"/>
<line x1="427.1" y1="153.4" x2="432.7" y2="152.3" stroke="#262626" stroke-width="0.6"/>
<line x1="427.1" y1="155.6" x2="432.7" y2="154.5" stroke="#262626" stroke-width="0.6"/>
<line x1="427.1" y1="157.8" x2="432.7" y2="156.7" stroke="#262626" stroke-width="0.6"/>
<line x1="427.1" y1="160.0" x2="432.7" y2="158.9" stroke="#262626" stroke-width="0.6"/>
<line x1="427.1" y1="162.2" x2="432.7" y2="161.1" stroke="#262626" stroke-width="0.6"/>
<path d="M423.6,147.4 L423.6,149.2 A6.3,2.4 0 0 0 436.2,149.2 L436.2,147.4 Z" fill="#fff" stroke="#262626" stroke-width="0.9" stroke-linejoin="round" />
<polygon points="424.3,142.6 424.3,146.9 427.9,148.6 431.9,148.6 435.5,146.9 435.5,142.6 431.9,140.7 427.9,140.7" fill="#fff" stroke="#262626" stroke-width="0.9" stroke-linejoin="round" />
<line x1="427.9" y1="144.2" x2="427.9" y2="148.6" stroke="#262626" stroke-width="0.6"/>
<line x1="431.9" y1="144.2" x2="431.9" y2="148.6" stroke="#262626" stroke-width="0.6"/>
<ellipse cx="429.9" cy="143.0" rx="3.2" ry="1.7" fill="#fff" stroke="#262626" stroke-width="0.9"/>
<polygon points="367.5,173.5 367.5,187.7 368.5,188.7 372.1,188.7 373.1,187.7 373.1,173.5" fill="#fff" stroke="#262626" stroke-width="0.9" stroke-linejoin="round" />
<line x1="367.5" y1="174.8" x2="373.1" y2="173.7" stroke="#262626" stroke-width="0.6"/>
<line x1="367.5" y1="177.0" x2="373.1" y2="175.9" stroke="#262626" stroke-width="0.6"/>
<line x1="367.5" y1="179.2" x2="373.1" y2="178.1" stroke="#262626" stroke-width="0.6"/>
<line x1="367.5" y1="181.4" x2="373.1" y2="180.3" stroke="#262626" stroke-width="0.6"/>
<line x1="367.5" y1="183.6" x2="373.1" y2="182.5" stroke="#262626" stroke-width="0.6"/>
<line x1="367.5" y1="185.8" x2="373.1" y2="184.7" stroke="#262626" stroke-width="0.6"/>
<line x1="367.5" y1="188.0" x2="373.1" y2="186.9" stroke="#262626" stroke-width="0.6"/>
<path d="M364.0,171.0 L364.0,172.8 A6.3,2.4 0 0 0 376.6,172.8 L376.6,171.0 Z" fill="#fff" stroke="#262626" stroke-width="0.9" stroke-linejoin="round" />
<polygon points="364.7,166.2 364.7,170.5 368.3,172.2 372.3,172.2 375.9,170.5 375.9,166.2 372.3,164.3 368.3,164.3" fill="#fff" stroke="#262626" stroke-width="0.9" stroke-linejoin="round" />
<line x1="368.3" y1="167.8" x2="368.3" y2="172.2" stroke="#262626" stroke-width="0.6"/>
<line x1="372.3" y1="167.8" x2="372.3" y2="172.2" stroke="#262626" stroke-width="0.6"/>
<ellipse cx="370.3" cy="166.6" rx="3.2" ry="1.7" fill="#fff" stroke="#262626" stroke-width="0.9"/>
<polygon points="237.7,344.5 237.7,327.5 238.7,326.5 242.3,326.5 243.3,327.5 243.3,344.5" fill="#fff" stroke="#262626" stroke-width="0.9" stroke-linejoin="round" />
<ellipse cx="240.5" cy="327.1" rx="2.8" ry="1.0" fill="#fff" stroke="#262626" stroke-width="0.9"/>
<line x1="237.7" y1="343.3" x2="243.3" y2="342.2" stroke="#262626" stroke-width="0.6"/>
<line x1="237.7" y1="341.1" x2="243.3" y2="340.0" stroke="#262626" stroke-width="0.6"/>
<line x1="237.7" y1="338.9" x2="243.3" y2="337.8" stroke="#262626" stroke-width="0.6"/>
<line x1="237.7" y1="336.7" x2="243.3" y2="335.6" stroke="#262626" stroke-width="0.6"/>
<line x1="237.7" y1="334.5" x2="243.3" y2="333.4" stroke="#262626" stroke-width="0.6"/>
<line x1="237.7" y1="332.3" x2="243.3" y2="331.2" stroke="#262626" stroke-width="0.6"/>
<line x1="237.7" y1="330.1" x2="243.3" y2="329.0" stroke="#262626" stroke-width="0.6"/>
<path d="M234.2,343.5 L234.2,345.5 A6.3,2.4 0 0 0 246.8,345.5 L246.8,343.5 Z" fill="#fff" stroke="#262626" stroke-width="0.9" stroke-linejoin="round" />
<ellipse cx="240.5" cy="343.5" rx="6.3" ry="2.4" fill="#fff" stroke="#262626" stroke-width="0.9"/>
<polygon points="234.9,346.3 234.9,350.5 238.5,352.3 242.5,352.3 246.1,350.5 246.1,346.3" fill="#fff" stroke="#262626" stroke-width="0.9" stroke-linejoin="round" />
<line x1="238.5" y1="352.3" x2="238.5" y2="347.0" stroke="#262626" stroke-width="0.6"/>
<line x1="242.5" y1="352.3" x2="242.5" y2="347.0" stroke="#262626" stroke-width="0.6"/>
<ellipse cx="240.5" cy="343.9" rx="2.8" ry="1.3" fill="#fff" stroke="#262626" stroke-width="0.9"/>
<polygon points="187.7,481.0 187.7,463.0 188.7,462.0 192.3,462.0 193.3,463.0 193.3,481.0" fill="#fff" stroke="#262626" stroke-width="0.9" stroke-linejoin="round" />
<ellipse cx="190.5" cy="462.6" rx="2.8" ry="1.0" fill="#fff" stroke="#262626" stroke-width="0.9"/>
<line x1="187.7" y1="479.8" x2="193.3" y2="478.7" stroke="#262626" stroke-width="0.6"/>
<line x1="187.7" y1="477.6" x2="193.3" y2="476.5" stroke="#262626" stroke-width="0.6"/>
<line x1="187.7" y1="475.4" x2="193.3" y2="474.3" stroke="#262626" stroke-width="0.6"/>
<line x1="187.7" y1="473.2" x2="193.3" y2="472.1" stroke="#262626" stroke-width="0.6"/>
<line x1="187.7" y1="471.0" x2="193.3" y2="469.9" stroke="#262626" stroke-width="0.6"/>
<line x1="187.7" y1="468.8" x2="193.3" y2="467.7" stroke="#262626" stroke-width="0.6"/>
<line x1="187.7" y1="466.6" x2="193.3" y2="465.5" stroke="#262626" stroke-width="0.6"/>
<path d="M184.2,480.0 L184.2,482.0 A6.3,2.4 0 0 0 196.8,482.0 L196.8,480.0 Z" fill="#fff" stroke="#262626" stroke-width="0.9" stroke-linejoin="round" />
<ellipse cx="190.5" cy="480.0" rx="6.3" ry="2.4" fill="#fff" stroke="#262626" stroke-width="0.9"/>
<polygon points="184.9,482.8 184.9,487.0 188.5,488.8 192.5,488.8 196.1,487.0 196.1,482.8" fill="#fff" stroke="#262626" stroke-width="0.9" stroke-linejoin="round" />
<line x1="188.5" y1="488.8" x2="188.5" y2="483.5" stroke="#262626" stroke-width="0.6"/>
<line x1="192.5" y1="488.8" x2="192.5" y2="483.5" stroke="#262626" stroke-width="0.6"/>
<ellipse cx="190.5" cy="480.4" rx="2.8" ry="1.3" fill="#fff" stroke="#262626" stroke-width="0.9"/>
<polygon points="213.7,502.0 213.7,484.0 214.7,483.0 218.3,483.0 219.3,484.0 219.3,502.0" fill="#fff" stroke="#262626" stroke-width="0.9" stroke-linejoin="round" />
<ellipse cx="216.5" cy="483.6" rx="2.8" ry="1.0" fill="#fff" stroke="#262626" stroke-width="0.9"/>
<line x1="213.7" y1="500.8" x2="219.3" y2="499.7" stroke="#262626" stroke-width="0.6"/>
<line x1="213.7" y1="498.6" x2="219.3" y2="497.5" stroke="#262626" stroke-width="0.6"/>
<line x1="213.7" y1="496.4" x2="219.3" y2="495.3" stroke="#262626" stroke-width="0.6"/>
<line x1="213.7" y1="494.2" x2="219.3" y2="493.1" stroke="#262626" stroke-width="0.6"/>
<line x1="213.7" y1="492.0" x2="219.3" y2="490.9" stroke="#262626" stroke-width="0.6"/>
<line x1="213.7" y1="489.8" x2="219.3" y2="488.7" stroke="#262626" stroke-width="0.6"/>
<line x1="213.7" y1="487.6" x2="219.3" y2="486.5" stroke="#262626" stroke-width="0.6"/>
<path d="M210.2,501.0 L210.2,503.0 A6.3,2.4 0 0 0 222.8,503.0 L222.8,501.0 Z" fill="#fff" stroke="#262626" stroke-width="0.9" stroke-linejoin="round" />
<ellipse cx="216.5" cy="501.0" rx="6.3" ry="2.4" fill="#fff" stroke="#262626" stroke-width="0.9"/>
<polygon points="210.9,503.8 210.9,508.0 214.5,509.8 218.5,509.8 222.1,508.0 222.1,503.8" fill="#fff" stroke="#262626" stroke-width="0.9" stroke-linejoin="round" />
<line x1="214.5" y1="509.8" x2="214.5" y2="504.5" stroke="#262626" stroke-width="0.6"/>
<line x1="218.5" y1="509.8" x2="218.5" y2="504.5" stroke="#262626" stroke-width="0.6"/>
<ellipse cx="216.5" cy="501.4" rx="2.8" ry="1.3" fill="#fff" stroke="#262626" stroke-width="0.9"/>
<g transform="translate(140.6 540.3) rotate(29.6)">
<path d="M0,-2.6 L13.3,-2.6 L17.5,-0.9 L17.5,0.9 L13.3,2.6 L0,2.6 Z" fill="#fff" stroke="#262626" stroke-width="0.9" stroke-linejoin="round"/>
<ellipse cx="0" cy="0" rx="1.3" ry="2.6" fill="#fff" stroke="#262626" stroke-width="0.9"/>
<ellipse cx="3.3" cy="0" rx="1.1" ry="2.6" fill="none" stroke="#111" stroke-width="1.3"/>
<ellipse cx="5.8" cy="0" rx="1.0" ry="2.6" fill="none" stroke="#222" stroke-width="1.0"/>
<ellipse cx="13.3" cy="0" rx="1.0" ry="2.6" fill="none" stroke="#111" stroke-width="1.1"/>
<path d="M14.3,-2.08 L17.5,-0.9 L17.5,0.9 L14.3,2.08" fill="none" stroke="#111" stroke-width="1.2"/>
</g>
<g transform="translate(115.5 553.8) rotate(29.6)">
<path d="M0,-2.6 L13.3,-2.6 L17.5,-0.9 L17.5,0.9 L13.3,2.6 L0,2.6 Z" fill="#fff" stroke="#262626" stroke-width="0.9" stroke-linejoin="round"/>
<ellipse cx="0" cy="0" rx="1.3" ry="2.6" fill="#fff" stroke="#262626" stroke-width="0.9"/>
<ellipse cx="3.3" cy="0" rx="1.1" ry="2.6" fill="none" stroke="#111" stroke-width="1.3"/>
<ellipse cx="5.8" cy="0" rx="1.0" ry="2.6" fill="none" stroke="#222" stroke-width="1.0"/>
<ellipse cx="13.3" cy="0" rx="1.0" ry="2.6" fill="none" stroke="#111" stroke-width="1.1"/>
<path d="M14.3,-2.08 L17.5,-0.9 L17.5,0.9 L14.3,2.08" fill="none" stroke="#111" stroke-width="1.2"/>
</g>
<g transform="translate(90.7 568.2) rotate(29.6)">
<path d="M0,-2.6 L13.3,-2.6 L17.5,-0.9 L17.5,0.9 L13.3,2.6 L0,2.6 Z" fill="#fff" stroke="#262626" stroke-width="0.9" stroke-linejoin="round"/>
<ellipse cx="0" cy="0" rx="1.3" ry="2.6" fill="#fff" stroke="#262626" stroke-width="0.9"/>
<ellipse cx="3.3" cy="0" rx="1.1" ry="2.6" fill="none" stroke="#111" stroke-width="1.3"/>
<ellipse cx="5.8" cy="0" rx="1.0" ry="2.6" fill="none" stroke="#222" stroke-width="1.0"/>
<ellipse cx="13.3" cy="0" rx="1.0" ry="2.6" fill="none" stroke="#111" stroke-width="1.1"/>
<path d="M14.3,-2.08 L17.5,-0.9 L17.5,0.9 L14.3,2.08" fill="none" stroke="#111" stroke-width="1.2"/>
</g>
<g transform="translate(67.0 582.6) rotate(29.6)">
<path d="M0,-2.6 L13.3,-2.6 L17.5,-0.9 L17.5,0.9 L13.3,2.6 L0,2.6 Z" fill="#fff" stroke="#262626" stroke-width="0.9" stroke-linejoin="round"/>
<ellipse cx="0" cy="0" rx="1.3" ry="2.6" fill="#fff" stroke="#262626" stroke-width="0.9"/>
<ellipse cx="3.3" cy="0" rx="1.1" ry="2.6" fill="none" stroke="#111" stroke-width="1.3"/>
<ellipse cx="5.8" cy="0" rx="1.0" ry="2.6" fill="none" stroke="#222" stroke-width="1.0"/>
<ellipse cx="13.3" cy="0" rx="1.0" ry="2.6" fill="none" stroke="#111" stroke-width="1.1"/>
<path d="M14.3,-2.08 L17.5,-0.9 L17.5,0.9 L14.3,2.08" fill="none" stroke="#111" stroke-width="1.2"/>
</g>
<g transform="translate(200.9 586.2) rotate(29.6)">
<path d="M0,-2.6 L13.3,-2.6 L17.5,-0.9 L17.5,0.9 L13.3,2.6 L0,2.6 Z" fill="#fff" stroke="#262626" stroke-width="0.9" stroke-linejoin="round"/>
<ellipse cx="0" cy="0" rx="1.3" ry="2.6" fill="#fff" stroke="#262626" stroke-width="0.9"/>
<ellipse cx="3.3" cy="0" rx="1.1" ry="2.6" fill="none" stroke="#111" stroke-width="1.3"/>
<ellipse cx="5.8" cy="0" rx="1.0" ry="2.6" fill="none" stroke="#222" stroke-width="1.0"/>
<ellipse cx="13.3" cy="0" rx="1.0" ry="2.6" fill="none" stroke="#111" stroke-width="1.1"/>
<path d="M14.3,-2.08 L17.5,-0.9 L17.5,0.9 L14.3,2.08" fill="none" stroke="#111" stroke-width="1.2"/>
</g>
<g transform="translate(176.0 600.5) rotate(29.6)">
<path d="M0,-2.6 L13.3,-2.6 L17.5,-0.9 L17.5,0.9 L13.3,2.6 L0,2.6 Z" fill="#fff" stroke="#262626" stroke-width="0.9" stroke-linejoin="round"/>
<ellipse cx="0" cy="0" rx="1.3" ry="2.6" fill="#fff" stroke="#262626" stroke-width="0.9"/>
<ellipse cx="3.3" cy="0" rx="1.1" ry="2.6" fill="none" stroke="#111" stroke-width="1.3"/>
<ellipse cx="5.8" cy="0" rx="1.0" ry="2.6" fill="none" stroke="#222" stroke-width="1.0"/>
<ellipse cx="13.3" cy="0" rx="1.0" ry="2.6" fill="none" stroke="#111" stroke-width="1.1"/>
<path d="M14.3,-2.08 L17.5,-0.9 L17.5,0.9 L14.3,2.08" fill="none" stroke="#111" stroke-width="1.2"/>
</g>
<g transform="translate(152.3 614.0) rotate(29.6)">
<path d="M0,-2.6 L13.3,-2.6 L17.5,-0.9 L17.5,0.9 L13.3,2.6 L0,2.6 Z" fill="#fff" stroke="#262626" stroke-width="0.9" stroke-linejoin="round"/>
<ellipse cx="0" cy="0" rx="1.3" ry="2.6" fill="#fff" stroke="#262626" stroke-width="0.9"/>
<ellipse cx="3.3" cy="0" rx="1.1" ry="2.6" fill="none" stroke="#111" stroke-width="1.3"/>
<ellipse cx="5.8" cy="0" rx="1.0" ry="2.6" fill="none" stroke="#222" stroke-width="1.0"/>
<ellipse cx="13.3" cy="0" rx="1.0" ry="2.6" fill="none" stroke="#111" stroke-width="1.1"/>
<path d="M14.3,-2.08 L17.5,-0.9 L17.5,0.9 L14.3,2.08" fill="none" stroke="#111" stroke-width="1.2"/>
</g>
<g transform="translate(128.0 629.2) rotate(29.6)">
<path d="M0,-2.6 L13.3,-2.6 L17.5,-0.9 L17.5,0.9 L13.3,2.6 L0,2.6 Z" fill="#fff" stroke="#262626" stroke-width="0.9" stroke-linejoin="round"/>
<ellipse cx="0" cy="0" rx="1.3" ry="2.6" fill="#fff" stroke="#262626" stroke-width="0.9"/>
<ellipse cx="3.3" cy="0" rx="1.1" ry="2.6" fill="none" stroke="#111" stroke-width="1.3"/>
<ellipse cx="5.8" cy="0" rx="1.0" ry="2.6" fill="none" stroke="#222" stroke-width="1.0"/>
<ellipse cx="13.3" cy="0" rx="1.0" ry="2.6" fill="none" stroke="#111" stroke-width="1.1"/>
<path d="M14.3,-2.08 L17.5,-0.9 L17.5,0.9 L14.3,2.08" fill="none" stroke="#111" stroke-width="1.2"/>
</g>
<g transform="translate(106.4 641.6) rotate(29.6)">
<path d="M0,-2.6 L13.3,-2.6 L17.5,-0.9 L17.5,0.9 L13.3,2.6 L0,2.6 Z" fill="#fff" stroke="#262626" stroke-width="0.9" stroke-linejoin="round"/>
<ellipse cx="0" cy="0" rx="1.3" ry="2.6" fill="#fff" stroke="#262626" stroke-width="0.9"/>
<ellipse cx="3.3" cy="0" rx="1.1" ry="2.6" fill="none" stroke="#111" stroke-width="1.3"/>
<ellipse cx="5.8" cy="0" rx="1.0" ry="2.6" fill="none" stroke="#222" stroke-width="1.0"/>
<ellipse cx="13.3" cy="0" rx="1.0" ry="2.6" fill="none" stroke="#111" stroke-width="1.1"/>
<path d="M14.3,-2.08 L17.5,-0.9 L17.5,0.9 L14.3,2.08" fill="none" stroke="#111" stroke-width="1.2"/>
</g>
<g transform="translate(85.9 650.4) rotate(29.6)">
<rect x="0" y="-2.6" width="8" height="5.2" fill="#fff" stroke="#262626" stroke-width="0.9"/>
<ellipse cx="0" cy="0" rx="1.3" ry="2.6" fill="#fff" stroke="#262626" stroke-width="0.9"/>
<ellipse cx="3.5" cy="0" rx="1.1" ry="2.6" fill="none" stroke="#111" stroke-width="1.4"/>
<rect x="8" y="-1.2" width="3" height="2.4" fill="#fff" stroke="#262626" stroke-width="0.8"/>
<rect x="11" y="-2.8" width="9" height="5.6" fill="#fff" stroke="#262626" stroke-width="0.9"/>
<ellipse cx="20" cy="0" rx="1.2" ry="2.8" fill="#fff" stroke="#111" stroke-width="1.6"/>
</g>
<g transform="translate(445.5 736.1) rotate(209.6)">
<path d="M0,-2.6 L13.3,-2.6 L17.5,-0.9 L17.5,0.9 L13.3,2.6 L0,2.6 Z" fill="#fff" stroke="#262626" stroke-width="0.9" stroke-linejoin="round"/>
<ellipse cx="0" cy="0" rx="1.3" ry="2.6" fill="#fff" stroke="#262626" stroke-width="0.9"/>
<ellipse cx="3.3" cy="0" rx="1.1" ry="2.6" fill="none" stroke="#111" stroke-width="1.3"/>
<ellipse cx="5.8" cy="0" rx="1.0" ry="2.6" fill="none" stroke="#222" stroke-width="1.0"/>
<ellipse cx="13.3" cy="0" rx="1.0" ry="2.6" fill="none" stroke="#111" stroke-width="1.1"/>
</g>
<g transform="translate(468.9 740.0) rotate(209.6)">
<path d="M0,-2.6 L13.3,-2.6 L17.5,-0.9 L17.5,0.9 L13.3,2.6 L0,2.6 Z" fill="#fff" stroke="#262626" stroke-width="0.9" stroke-linejoin="round"/>
<ellipse cx="0" cy="0" rx="1.3" ry="2.6" fill="#fff" stroke="#262626" stroke-width="0.9"/>
<ellipse cx="3.3" cy="0" rx="1.1" ry="2.6" fill="none" stroke="#111" stroke-width="1.3"/>
<ellipse cx="5.8" cy="0" rx="1.0" ry="2.6" fill="none" stroke="#222" stroke-width="1.0"/>
<ellipse cx="13.3" cy="0" rx="1.0" ry="2.6" fill="none" stroke="#111" stroke-width="1.1"/>
</g>
<g transform="translate(436.5 747.2) rotate(209.6)">
<path d="M0,-2.6 L13.3,-2.6 L17.5,-0.9 L17.5,0.9 L13.3,2.6 L0,2.6 Z" fill="#fff" stroke="#262626" stroke-width="0.9" stroke-linejoin="round"/>
<ellipse cx="0" cy="0" rx="1.3" ry="2.6" fill="#fff" stroke="#262626" stroke-width="0.9"/>
<ellipse cx="3.3" cy="0" rx="1.1" ry="2.6" fill="none" stroke="#111" stroke-width="1.3"/>
<ellipse cx="5.8" cy="0" rx="1.0" ry="2.6" fill="none" stroke="#222" stroke-width="1.0"/>
<ellipse cx="13.3" cy="0" rx="1.0" ry="2.6" fill="none" stroke="#111" stroke-width="1.1"/>
</g>
<g transform="translate(413.2 745.4) rotate(209.6)">
<path d="M0,-2.6 L13.3,-2.6 L17.5,-0.9 L17.5,0.9 L13.3,2.6 L0,2.6 Z" fill="#fff" stroke="#262626" stroke-width="0.9" stroke-linejoin="round"/>
<ellipse cx="0" cy="0" rx="1.3" ry="2.6" fill="#fff" stroke="#262626" stroke-width="0.9"/>
<ellipse cx="3.3" cy="0" rx="1.1" ry="2.6" fill="none" stroke="#111" stroke-width="1.3"/>
<ellipse cx="5.8" cy="0" rx="1.0" ry="2.6" fill="none" stroke="#222" stroke-width="1.0"/>
<ellipse cx="13.3" cy="0" rx="1.0" ry="2.6" fill="none" stroke="#111" stroke-width="1.1"/>
</g>
<g transform="translate(389.2 759.4) rotate(209.6)">
<path d="M0,-2.6 L13.3,-2.6 L17.5,-0.9 L17.5,0.9 L13.3,2.6 L0,2.6 Z" fill="#fff" stroke="#262626" stroke-width="0.9" stroke-linejoin="round"/>
<ellipse cx="0" cy="0" rx="1.3" ry="2.6" fill="#fff" stroke="#262626" stroke-width="0.9"/>
<ellipse cx="3.3" cy="0" rx="1.1" ry="2.6" fill="none" stroke="#111" stroke-width="1.3"/>
<ellipse cx="5.8" cy="0" rx="1.0" ry="2.6" fill="none" stroke="#222" stroke-width="1.0"/>
<ellipse cx="13.3" cy="0" rx="1.0" ry="2.6" fill="none" stroke="#111" stroke-width="1.1"/>
</g>
<g transform="translate(371.1 779.6) rotate(209.6)">
<path d="M0,-2.6 L13.3,-2.6 L17.5,-0.9 L17.5,0.9 L13.3,2.6 L0,2.6 Z" fill="#fff" stroke="#262626" stroke-width="0.9" stroke-linejoin="round"/>
<ellipse cx="0" cy="0" rx="1.3" ry="2.6" fill="#fff" stroke="#262626" stroke-width="0.9"/>
<ellipse cx="3.3" cy="0" rx="1.1" ry="2.6" fill="none" stroke="#111" stroke-width="1.3"/>
<ellipse cx="5.8" cy="0" rx="1.0" ry="2.6" fill="none" stroke="#222" stroke-width="1.0"/>
<ellipse cx="13.3" cy="0" rx="1.0" ry="2.6" fill="none" stroke="#111" stroke-width="1.1"/>
</g>
<g transform="translate(351.6 780.6) rotate(209.6)">
<path d="M0,-2.6 L13.3,-2.6 L17.5,-0.9 L17.5,0.9 L13.3,2.6 L0,2.6 Z" fill="#fff" stroke="#262626" stroke-width="0.9" stroke-linejoin="round"/>
<ellipse cx="0" cy="0" rx="1.3" ry="2.6" fill="#fff" stroke="#262626" stroke-width="0.9"/>
<ellipse cx="3.3" cy="0" rx="1.1" ry="2.6" fill="none" stroke="#111" stroke-width="1.3"/>
<ellipse cx="5.8" cy="0" rx="1.0" ry="2.6" fill="none" stroke="#222" stroke-width="1.0"/>
<ellipse cx="13.3" cy="0" rx="1.0" ry="2.6" fill="none" stroke="#111" stroke-width="1.1"/>
</g>
<g transform="translate(198.3 757.4) rotate(-24)">
<path d="M0,-2.6 L13.3,-2.6 L17.5,-0.9 L17.5,0.9 L13.3,2.6 L0,2.6 Z" fill="#fff" stroke="#262626" stroke-width="0.9" stroke-linejoin="round"/>
<ellipse cx="0" cy="0" rx="1.3" ry="2.6" fill="#fff" stroke="#262626" stroke-width="0.9"/>
<ellipse cx="3.3" cy="0" rx="1.1" ry="2.6" fill="none" stroke="#111" stroke-width="1.3"/>
<ellipse cx="5.8" cy="0" rx="1.0" ry="2.6" fill="none" stroke="#222" stroke-width="1.0"/>
<ellipse cx="13.3" cy="0" rx="1.0" ry="2.6" fill="none" stroke="#111" stroke-width="1.1"/>
<path d="M14.3,-2.08 L17.5,-0.9 L17.5,0.9 L14.3,2.08" fill="none" stroke="#111" stroke-width="1.2"/>
</g>
<g transform="translate(211.5 764.9) rotate(-24)">
<path d="M0,-2.6 L13.3,-2.6 L17.5,-0.9 L17.5,0.9 L13.3,2.6 L0,2.6 Z" fill="#fff" stroke="#262626" stroke-width="0.9" stroke-linejoin="round"/>
<ellipse cx="0" cy="0" rx="1.3" ry="2.6" fill="#fff" stroke="#262626" stroke-width="0.9"/>
<ellipse cx="3.3" cy="0" rx="1.1" ry="2.6" fill="none" stroke="#111" stroke-width="1.3"/>
<ellipse cx="5.8" cy="0" rx="1.0" ry="2.6" fill="none" stroke="#222" stroke-width="1.0"/>
<ellipse cx="13.3" cy="0" rx="1.0" ry="2.6" fill="none" stroke="#111" stroke-width="1.1"/>
<path d="M14.3,-2.08 L17.5,-0.9 L17.5,0.9 L14.3,2.08" fill="none" stroke="#111" stroke-width="1.2"/>
</g>
<path d="M162.5,316 L166,314.5 L174.5,318 L175.5,322 L172.5,326 L165,326 Z" fill="#fff" stroke="#262626" stroke-width="0.9" stroke-linejoin="round" />
<ellipse cx="168.8" cy="325.5" rx="4.2" ry="1.8" fill="#fff" stroke="#262626" stroke-width="0.8"/>
<path d="M165.3,325.5 L165.3,329.5 A3.5,1.4 0 0 0 172.3,329.5 L172.3,325.5" fill="#fff" stroke="#262626" stroke-width="0.8" stroke-linejoin="round" />
<path d="M155,362 L157,358.5 L162,359.5 L168,362.5 L173.5,362 L175,365.5 L171.5,369 L163,371.5 L158,369 L155,366 Z" fill="#fff" stroke="#262626" stroke-width="0.9" stroke-linejoin="round" />
<ellipse cx="169.5" cy="365.3" rx="3.0" ry="2.2" fill="#fff" stroke="#262626" stroke-width="0.8"/>
<ellipse cx="159.5" cy="365.5" rx="1.2" ry="1.2" fill="#333" stroke="#262626" stroke-width="0.5"/>
<path d="M229.5,385 C229.5,382 233,381.3 236,382.5 L241.5,386 L238,390.5 C234,392.5 229.5,390 229.5,385 Z" fill="#fff" stroke="#1a1a1a" stroke-width="1.2" stroke-linejoin="round" />
<path d="M233,385 C233,387 235,389 237.5,389" fill="none" stroke="#262626" stroke-width="0.7" stroke-linejoin="round" />
<line x1="236.0" y1="386.5" x2="242.0" y2="386.5" stroke="#111" stroke-width="1.3"/>
<path d="M240,384.8 L242.5,386.5 L240,388.2" fill="none" stroke="#111" stroke-width="1.0" stroke-linejoin="round" />
<polygon points="183.4,446.4 197.5,434.3 216.4,423.5 231.2,420.2 274.4,402.6 295.3,396.6 302.0,397.9 308.1,402.6 335.0,410.0 337.7,413.4 337.7,428.2 335.0,433.6 293.2,455.2 290.5,460.6 254.1,472.1 236.6,463.3 200.2,462.6 193.5,459.2 183.4,448.5" fill="#fff" stroke="#222" stroke-width="1.0" stroke-linejoin="round" />
<polygon points="183.4,443.6 197.5,431.5 216.4,420.7 231.2,417.4 274.4,399.8 295.3,393.8 302.0,395.1 308.1,399.8 335.0,407.2 337.7,410.6 337.7,425.4 335.0,430.8 293.2,452.4 290.5,457.8 254.1,469.3 236.6,460.5 200.2,459.8 193.5,456.4 183.4,445.7" fill="#fff" stroke="#222" stroke-width="1.0" stroke-linejoin="round" />
<clipPath id="fclip"><polygon points="188.9,442.2 202.0,431.4 219.6,421.6 233.4,418.7 273.5,402.8 293.0,397.4 299.2,398.6 304.9,402.8 329.9,409.5 332.4,412.5 332.4,425.9 329.9,430.7 291.0,450.2 288.5,455.0 254.7,465.4 238.4,457.4 204.5,456.8 198.3,453.8 188.9,444.1"/></clipPath>
<g clip-path="url(#fclip)">
<polygon points="90.6,431.4 102.9,424.8 114.4,431.0 102.1,437.6" fill="none" stroke="#444" stroke-width="0.6" stroke-linejoin="round" stroke-linejoin="round"/>
<polygon points="105.8,439.6 118.1,433.0 129.6,439.2 117.3,445.8" fill="none" stroke="#444" stroke-width="0.6" stroke-linejoin="round" stroke-linejoin="round"/>
<polygon points="121.0,447.8 133.3,441.2 144.8,447.4 132.5,454.0" fill="none" stroke="#444" stroke-width="0.6" stroke-linejoin="round" stroke-linejoin="round"/>
<polygon points="136.2,456.0 148.5,449.4 160.0,455.6 147.7,462.2" fill="none" stroke="#444" stroke-width="0.6" stroke-linejoin="round" stroke-linejoin="round"/>
<polygon points="151.4,464.2 163.7,457.6 175.2,463.8 162.9,470.4" fill="none" stroke="#444" stroke-width="0.6" stroke-linejoin="round" stroke-linejoin="round"/>
<polygon points="166.6,472.4 178.9,465.8 190.4,472.0 178.1,478.6" fill="none" stroke="#444" stroke-width="0.6" stroke-linejoin="round" stroke-linejoin="round"/>
<polygon points="181.8,480.6 194.1,474.0 205.6,480.2 193.3,486.8" fill="none" stroke="#444" stroke-width="0.6" stroke-linejoin="round" stroke-linejoin="round"/>
<polygon points="197.0,488.8 209.3,482.2 220.8,488.4 208.5,495.0" fill="none" stroke="#444" stroke-width="0.6" stroke-linejoin="round" stroke-linejoin="round"/>
<polygon points="212.2,497.0 224.5,490.4 236.0,496.6 223.7,503.2" fill="none" stroke="#444" stroke-width="0.6" stroke-linejoin="round" stroke-linejoin="round"/>
<polygon points="227.4,505.2 239.7,498.6 251.2,504.8 238.9,511.4" fill="none" stroke="#444" stroke-width="0.6" stroke-linejoin="round" stroke-linejoin="round"/>
<polygon points="106.8,422.8 119.1,416.2 130.6,422.4 118.3,429.0" fill="none" stroke="#444" stroke-width="0.6" stroke-linejoin="round" stroke-linejoin="round"/>
<polygon points="122.0,431.0 134.3,424.4 145.8,430.6 133.5,437.2" fill="none" stroke="#444" stroke-width="0.6" stroke-linejoin="round" stroke-linejoin="round"/>
<polygon points="137.2,439.2 149.5,432.6 161.0,438.8 148.7,445.4" fill="none" stroke="#444" stroke-width="0.6" stroke-linejoin="round" stroke-linejoin="round"/>
<polygon points="152.4,447.4 164.7,440.8 176.2,447.0 163.9,453.6" fill="none" stroke="#444" stroke-width="0.6" stroke-linejoin="round" stroke-linejoin="round"/>
<polygon points="167.6,455.6 179.9,449.0 191.4,455.2 179.1,461.8" fill="none" stroke="#444" stroke-width="0.6" stroke-linejoin="round" stroke-linejoin="round"/>
<polygon points="182.8,463.8 195.1,457.2 206.6,463.4 194.3,470.0" fill="none" stroke="#444" stroke-width="0.6" stroke-linejoin="round" stroke-linejoin="round"/>
<polygon points="198.0,472.0 210.3,465.4 221.8,471.6 209.5,478.2" fill="none" stroke="#444" stroke-width="0.6" stroke-linejoin="round" stroke-linejoin="round"/>
<polygon points="213.2,480.2 225.5,473.6 237.0,479.8 224.7,486.4" fill="none" stroke="#444" stroke-width="0.6" stroke-linejoin="round" stroke-linejoin="round"/>
<polygon points="228.4,488.4 240.7,481.8 252.2,488.0 239.9,494.6" fill="none" stroke="#444" stroke-width="0.6" stroke-linejoin="round" stroke-linejoin="round"/>
<polygon points="243.6,496.6 255.9,490.0 267.4,496.2 255.1,502.8" fill="none" stroke="#444" stroke-width="0.6" stroke-linejoin="round" stroke-linejoin="round"/>
<polygon points="123.0,414.2 135.3,407.6 146.8,413.8 134.5,420.4" fill="none" stroke="#444" stroke-width="0.6" stroke-linejoin="round" stroke-linejoin="round"/>
<polygon points="138.2,422.4 150.5,415.8 162.0,422.0 149.7,428.6" fill="none" stroke="#444" stroke-width="0.6" stroke-linejoin="round" stroke-linejoin="round"/>
<polygon points="153.4,430.6 165.7,424.0 177.2,430.2 164.9,436.8" fill="none" stroke="#444" stroke-width="0.6" stroke-linejoin="round" stroke-linejoin="round"/>
<polygon points="168.6,438.8 180.9,432.2 192.4,438.4 180.1,445.0" fill="none" stroke="#444" stroke-width="0.6" stroke-linejoin="round" stroke-linejoin="round"/>
<polygon points="183.8,447.0 196.1,440.4 207.6,446.6 195.3,453.2" fill="none" stroke="#444" stroke-width="0.6" stroke-linejoin="round" stroke-linejoin="round"/>
<polygon points="199.0,455.2 211.3,448.6 222.8,454.8 210.5,461.4" fill="none" stroke="#444" stroke-width="0.6" stroke-linejoin="round" stroke-linejoin="round"/>
<polygon points="214.2,463.4 226.5,456.8 238.0,463.0 225.7,469.6" fill="none" stroke="#444" stroke-width="0.6" stroke-linejoin="round" stroke-linejoin="round"/>
<polygon points="229.4,471.6 241.7,465.0 253.2,471.2 240.9,477.8" fill="none" stroke="#444" stroke-width="0.6" stroke-linejoin="round" stroke-linejoin="round"/>
<polygon points="244.6,479.8 256.9,473.2 268.4,479.4 256.1,486.0" fill="none" stroke="#444" stroke-width="0.6" stroke-linejoin="round" stroke-linejoin="round"/>
<polygon points="259.8,488.0 272.1,481.4 283.6,487.6 271.3,494.2" fill="none" stroke="#444" stroke-width="0.6" stroke-linejoin="round" stroke-linejoin="round"/>
<polygon points="139.2,405.6 151.5,399.0 163.0,405.2 150.7,411.8" fill="none" stroke="#444" stroke-width="0.6" stroke-linejoin="round" stroke-linejoin="round"/>
<polygon points="154.4,413.8 166.7,407.2 178.2,413.4 165.9,420.0" fill="none" stroke="#444" stroke-width="0.6" stroke-linejoin="round" stroke-linejoin="round"/>
<polygon points="169.6,422.0 181.9,415.4 193.4,421.6 181.1,428.2" fill="none" stroke="#444" stroke-width="0.6" stroke-linejoin="round" stroke-linejoin="round"/>
<polygon points="184.8,430.2 197.1,423.6 208.6,429.8 196.3,436.4" fill="none" stroke="#444" stroke-width="0.6" stroke-linejoin="round" stroke-linejoin="round"/>
<polygon points="200.0,438.4 212.3,431.8 223.8,438.0 211.5,444.6" fill="none" stroke="#444" stroke-width="0.6" stroke-linejoin="round" stroke-linejoin="round"/>
<polygon points="215.2,446.6 227.5,440.0 239.0,446.2 226.7,452.8" fill="none" stroke="#444" stroke-width="0.6" stroke-linejoin="round" stroke-linejoin="round"/>
<polygon points="230.4,454.8 242.7,448.2 254.2,454.4 241.9,461.0" fill="none" stroke="#444" stroke-width="0.6" stroke-linejoin="round" stroke-linejoin="round"/>
<polygon points="245.6,463.0 257.9,456.4 269.4,462.6 257.1,469.2" fill="none" stroke="#444" stroke-width="0.6" stroke-linejoin="round" stroke-linejoin="round"/>
<polygon points="260.8,471.2 273.1,464.6 284.6,470.8 272.3,477.4" fill="none" stroke="#444" stroke-width="0.6" stroke-linejoin="round" stroke-linejoin="round"/>
<polygon points="276.0,479.4 288.3,472.8 299.8,479.0 287.5,485.6" fill="none" stroke="#444" stroke-width="0.6" stroke-linejoin="round" stroke-linejoin="round"/>
<polygon points="155.4,397.0 167.7,390.4 179.2,396.6 166.9,403.2" fill="none" stroke="#444" stroke-width="0.6" stroke-linejoin="round" stroke-linejoin="round"/>
<polygon points="170.6,405.2 182.9,398.6 194.4,404.8 182.1,411.4" fill="none" stroke="#444" stroke-width="0.6" stroke-linejoin="round" stroke-linejoin="round"/>
<polygon points="185.8,413.4 198.1,406.8 209.6,413.0 197.3,419.6" fill="none" stroke="#444" stroke-width="0.6" stroke-linejoin="round" stroke-linejoin="round"/>
<polygon points="201.0,421.6 213.3,415.0 224.8,421.2 212.5,427.8" fill="none" stroke="#444" stroke-width="0.6" stroke-linejoin="round" stroke-linejoin="round"/>
<polygon points="216.2,429.8 228.5,423.2 240.0,429.4 227.7,436.0" fill="none" stroke="#444" stroke-width="0.6" stroke-linejoin="round" stroke-linejoin="round"/>
<polygon points="231.4,438.0 243.7,431.4 255.2,437.6 242.9,444.2" fill="none" stroke="#444" stroke-width="0.6" stroke-linejoin="round" stroke-linejoin="round"/>
<polygon points="246.6,446.2 258.9,439.6 270.4,445.8 258.1,452.4" fill="none" stroke="#444" stroke-width="0.6" stroke-linejoin="round" stroke-linejoin="round"/>
<polygon points="261.8,454.4 274.1,447.8 285.6,454.0 273.3,460.6" fill="none" stroke="#444" stroke-width="0.6" stroke-linejoin="round" stroke-linejoin="round"/>
<polygon points="277.0,462.6 289.3,456.0 300.8,462.2 288.5,468.8" fill="none" stroke="#444" stroke-width="0.6" stroke-linejoin="round" stroke-linejoin="round"/>
<polygon points="292.2,470.8 304.5,464.2 316.0,470.4 303.7,477.0" fill="none" stroke="#444" stroke-width="0.6" stroke-linejoin="round" stroke-linejoin="round"/>
<polygon points="171.6,388.4 183.9,381.8 195.4,388.0 183.1,394.6" fill="none" stroke="#444" stroke-width="0.6" stroke-linejoin="round" stroke-linejoin="round"/>
<polygon points="186.8,396.6 199.1,390.0 210.6,396.2 198.3,402.8" fill="none" stroke="#444" stroke-width="0.6" stroke-linejoin="round" stroke-linejoin="round"/>
<polygon points="202.0,404.8 214.3,398.2 225.8,404.4 213.5,411.0" fill="none" stroke="#444" stroke-width="0.6" stroke-linejoin="round" stroke-linejoin="round"/>
<polygon points="217.2,413.0 229.5,406.4 241.0,412.6 228.7,419.2" fill="none" stroke="#444" stroke-width="0.6" stroke-linejoin="round" stroke-linejoin="round"/>
<polygon points="232.4,421.2 244.7,414.6 256.2,420.8 243.9,427.4" fill="none" stroke="#444" stroke-width="0.6" stroke-linejoin="round" stroke-linejoin="round"/>
<polygon points="247.6,429.4 259.9,422.8 271.4,429.0 259.1,435.6" fill="none" stroke="#444" stroke-width="0.6" stroke-linejoin="round" stroke-linejoin="round"/>
<polygon points="262.8,437.6 275.1,431.0 286.6,437.2 274.3,443.8" fill="none" stroke="#444" stroke-width="0.6" stroke-linejoin="round" stroke-linejoin="round"/>
<polygon points="278.0,445.8 290.3,439.2 301.8,445.4 289.5,452.0" fill="none" stroke="#444" stroke-width="0.6" stroke-linejoin="round" stroke-linejoin="round"/>
<polygon points="293.2,454.0 305.5,447.4 317.0,453.6 304.7,460.2" fill="none" stroke="#444" stroke-width="0.6" stroke-linejoin="round" stroke-linejoin="round"/>
<polygon points="308.4,462.2 320.7,455.6 332.2,461.8 319.9,468.4" fill="none" stroke="#444" stroke-width="0.6" stroke-linejoin="round" stroke-linejoin="round"/>
<polygon points="187.8,379.8 200.1,373.2 211.6,379.4 199.3,386.0" fill="none" stroke="#444" stroke-width="0.6" stroke-linejoin="round" stroke-linejoin="round"/>
<polygon points="203.0,388.0 215.3,381.4 226.8,387.6 214.5,394.2" fill="none" stroke="#444" stroke-width="0.6" stroke-linejoin="round" stroke-linejoin="round"/>
<polygon points="218.2,396.2 230.5,389.6 242.0,395.8 229.7,402.4" fill="none" stroke="#444" stroke-width="0.6" stroke-linejoin="round" stroke-linejoin="round"/>
<polygon points="233.4,404.4 245.7,397.8 257.2,404.0 244.9,410.6" fill="none" stroke="#444" stroke-width="0.6" stroke-linejoin="round" stroke-linejoin="round"/>
<polygon points="248.6,412.6 260.9,406.0 272.4,412.2 260.1,418.8" fill="none" stroke="#444" stroke-width="0.6" stroke-linejoin="round" stroke-linejoin="round"/>
<polygon points="263.8,420.8 276.1,414.2 287.6,420.4 275.3,427.0" fill="none" stroke="#444" stroke-width="0.6" stroke-linejoin="round" stroke-linejoin="round"/>
<polygon points="279.0,429.0 291.3,422.4 302.8,428.6 290.5,435.2" fill="none" stroke="#444" stroke-width="0.6" stroke-linejoin="round" stroke-linejoin="round"/>
<polygon points="294.2,437.2 306.5,430.6 318.0,436.8 305.7,443.4" fill="none" stroke="#444" stroke-width="0.6" stroke-linejoin="round" stroke-linejoin="round"/>
<polygon points="309.4,445.4 321.7,438.8 333.2,445.0 320.9,451.6" fill="none" stroke="#444" stroke-width="0.6" stroke-linejoin="round" stroke-linejoin="round"/>
<polygon points="324.6,453.6 336.9,447.0 348.4,453.2 336.1,459.8" fill="none" stroke="#444" stroke-width="0.6" stroke-linejoin="round" stroke-linejoin="round"/>
<polygon points="204.0,371.2 216.3,364.6 227.8,370.8 215.5,377.4" fill="none" stroke="#444" stroke-width="0.6" stroke-linejoin="round" stroke-linejoin="round"/>
<polygon points="219.2,379.4 231.5,372.8 243.0,379.0 230.7,385.6" fill="none" stroke="#444" stroke-width="0.6" stroke-linejoin="round" stroke-linejoin="round"/>
<polygon points="234.4,387.6 246.7,381.0 258.2,387.2 245.9,393.8" fill="none" stroke="#444" stroke-width="0.6" stroke-linejoin="round" stroke-linejoin="round"/>
<polygon points="249.6,395.8 261.9,389.2 273.4,395.4 261.1,402.0" fill="none" stroke="#444" stroke-width="0.6" stroke-linejoin="round" stroke-linejoin="round"/>
<polygon points="264.8,404.0 277.1,397.4 288.6,403.6 276.3,410.2" fill="none" stroke="#444" stroke-width="0.6" stroke-linejoin="round" stroke-linejoin="round"/>
<polygon points="280.0,412.2 292.3,405.6 303.8,411.8 291.5,418.4" fill="none" stroke="#444" stroke-width="0.6" stroke-linejoin="round" stroke-linejoin="round"/>
<polygon points="295.2,420.4 307.5,413.8 319.0,420.0 306.7,426.6" fill="none" stroke="#444" stroke-width="0.6" stroke-linejoin="round" stroke-linejoin="round"/>
<polygon points="310.4,428.6 322.7,422.0 334.2,428.2 321.9,434.8" fill="none" stroke="#444" stroke-width="0.6" stroke-linejoin="round" stroke-linejoin="round"/>
<polygon points="325.6,436.8 337.9,430.2 349.4,436.4 337.1,443.0" fill="none" stroke="#444" stroke-width="0.6" stroke-linejoin="round" stroke-linejoin="round"/>
<polygon points="340.8,445.0 353.1,438.4 364.6,444.6 352.3,451.2" fill="none" stroke="#444" stroke-width="0.6" stroke-linejoin="round" stroke-linejoin="round"/>
<polygon points="220.2,362.6 232.5,356.0 244.0,362.2 231.7,368.8" fill="none" stroke="#444" stroke-width="0.6" stroke-linejoin="round" stroke-linejoin="round"/>
<polygon points="235.4,370.8 247.7,364.2 259.2,370.4 246.9,377.0" fill="none" stroke="#444" stroke-width="0.6" stroke-linejoin="round" stroke-linejoin="round"/>
<polygon points="250.6,379.0 262.9,372.4 274.4,378.6 262.1,385.2" fill="none" stroke="#444" stroke-width="0.6" stroke-linejoin="round" stroke-linejoin="round"/>
<polygon points="265.8,387.2 278.1,380.6 289.6,386.8 277.3,393.4" fill="none" stroke="#444" stroke-width="0.6" stroke-linejoin="round" stroke-linejoin="round"/>
<polygon points="281.0,395.4 293.3,388.8 304.8,395.0 292.5,401.6" fill="none" stroke="#444" stroke-width="0.6" stroke-linejoin="round" stroke-linejoin="round"/>
<polygon points="296.2,403.6 308.5,397.0 320.0,403.2 307.7,409.8" fill="none" stroke="#444" stroke-width="0.6" stroke-linejoin="round" stroke-linejoin="round"/>
<polygon points="311.4,411.8 323.7,405.2 335.2,411.4 322.9,418.0" fill="none" stroke="#444" stroke-width="0.6" stroke-linejoin="round" stroke-linejoin="round"/>
<polygon points="326.6,420.0 338.9,413.4 350.4,419.6 338.1,426.2" fill="none" stroke="#444" stroke-width="0.6" stroke-linejoin="round" stroke-linejoin="round"/>
<polygon points="341.8,428.2 354.1,421.6 365.6,427.8 353.3,434.4" fill="none" stroke="#444" stroke-width="0.6" stroke-linejoin="round" stroke-linejoin="round"/>
<polygon points="357.0,436.4 369.3,429.8 380.8,436.0 368.5,442.6" fill="none" stroke="#444" stroke-width="0.6" stroke-linejoin="round" stroke-linejoin="round"/>
<polygon points="236.4,354.0 248.7,347.4 260.2,353.6 247.9,360.2" fill="none" stroke="#444" stroke-width="0.6" stroke-linejoin="round" stroke-linejoin="round"/>
<polygon points="251.6,362.2 263.9,355.6 275.4,361.8 263.1,368.4" fill="none" stroke="#444" stroke-width="0.6" stroke-linejoin="round" stroke-linejoin="round"/>
<polygon points="266.8,370.4 279.1,363.8 290.6,370.0 278.3,376.6" fill="none" stroke="#444" stroke-width="0.6" stroke-linejoin="round" stroke-linejoin="round"/>
<polygon points="282.0,378.6 294.3,372.0 305.8,378.2 293.5,384.8" fill="none" stroke="#444" stroke-width="0.6" stroke-linejoin="round" stroke-linejoin="round"/>
<polygon points="297.2,386.8 309.5,380.2 321.0,386.4 308.7,393.0" fill="none" stroke="#444" stroke-width="0.6" stroke-linejoin="round" stroke-linejoin="round"/>
<polygon points="312.4,395.0 324.7,388.4 336.2,394.6 323.9,401.2" fill="none" stroke="#444" stroke-width="0.6" stroke-linejoin="round" stroke-linejoin="round"/>
<polygon points="327.6,403.2 339.9,396.6 351.4,402.8 339.1,409.4" fill="none" stroke="#444" stroke-width="0.6" stroke-linejoin="round" stroke-linejoin="round"/>
<polygon points="342.8,411.4 355.1,404.8 366.6,411.0 354.3,417.6" fill="none" stroke="#444" stroke-width="0.6" stroke-linejoin="round" stroke-linejoin="round"/>
<polygon points="358.0,419.6 370.3,413.0 381.8,419.2 369.5,425.8" fill="none" stroke="#444" stroke-width="0.6" stroke-linejoin="round" stroke-linejoin="round"/>
<polygon points="373.2,427.8 385.5,421.2 397.0,427.4 384.7,434.0" fill="none" stroke="#444" stroke-width="0.6" stroke-linejoin="round" stroke-linejoin="round"/>
<polygon points="252.6,345.4 264.9,338.8 276.4,345.0 264.1,351.6" fill="none" stroke="#444" stroke-width="0.6" stroke-linejoin="round" stroke-linejoin="round"/>
<polygon points="267.8,353.6 280.1,347.0 291.6,353.2 279.3,359.8" fill="none" stroke="#444" stroke-width="0.6" stroke-linejoin="round" stroke-linejoin="round"/>
<polygon points="283.0,361.8 295.3,355.2 306.8,361.4 294.5,368.0" fill="none" stroke="#444" stroke-width="0.6" stroke-linejoin="round" stroke-linejoin="round"/>
<polygon points="298.2,370.0 310.5,363.4 322.0,369.6 309.7,376.2" fill="none" stroke="#444" stroke-width="0.6" stroke-linejoin="round" stroke-linejoin="round"/>
<polygon points="313.4,378.2 325.7,371.6 337.2,377.8 324.9,384.4" fill="none" stroke="#444" stroke-width="0.6" stroke-linejoin="round" stroke-linejoin="round"/>
<polygon points="328.6,386.4 340.9,379.8 352.4,386.0 340.1,392.6" fill="none" stroke="#444" stroke-width="0.6" stroke-linejoin="round" stroke-linejoin="round"/>
<polygon points="343.8,394.6 356.1,388.0 367.6,394.2 355.3,400.8" fill="none" stroke="#444" stroke-width="0.6" stroke-linejoin="round" stroke-linejoin="round"/>
<polygon points="359.0,402.8 371.3,396.2 382.8,402.4 370.5,409.0" fill="none" stroke="#444" stroke-width="0.6" stroke-linejoin="round" stroke-linejoin="round"/>
<polygon points="374.2,411.0 386.5,404.4 398.0,410.6 385.7,417.2" fill="none" stroke="#444" stroke-width="0.6" stroke-linejoin="round" stroke-linejoin="round"/>
<polygon points="389.4,419.2 401.7,412.6 413.2,418.8 400.9,425.4" fill="none" stroke="#444" stroke-width="0.6" stroke-linejoin="round" stroke-linejoin="round"/>
<polygon points="268.8,336.8 281.1,330.2 292.6,336.4 280.3,343.0" fill="none" stroke="#444" stroke-width="0.6" stroke-linejoin="round" stroke-linejoin="round"/>
<polygon points="284.0,345.0 296.3,338.4 307.8,344.6 295.5,351.2" fill="none" stroke="#444" stroke-width="0.6" stroke-linejoin="round" stroke-linejoin="round"/>
<polygon points="299.2,353.2 311.5,346.6 323.0,352.8 310.7,359.4" fill="none" stroke="#444" stroke-width="0.6" stroke-linejoin="round" stroke-linejoin="round"/>
<polygon points="314.4,361.4 326.7,354.8 338.2,361.0 325.9,367.6" fill="none" stroke="#444" stroke-width="0.6" stroke-linejoin="round" stroke-linejoin="round"/>
<polygon points="329.6,369.6 341.9,363.0 353.4,369.2 341.1,375.8" fill="none" stroke="#444" stroke-width="0.6" stroke-linejoin="round" stroke-linejoin="round"/>
<polygon points="344.8,377.8 357.1,371.2 368.6,377.4 356.3,384.0" fill="none" stroke="#444" stroke-width="0.6" stroke-linejoin="round" stroke-linejoin="round"/>
<polygon points="360.0,386.0 372.3,379.4 383.8,385.6 371.5,392.2" fill="none" stroke="#444" stroke-width="0.6" stroke-linejoin="round" stroke-linejoin="round"/>
<polygon points="375.2,394.2 387.5,387.6 399.0,393.8 386.7,400.4" fill="none" stroke="#444" stroke-width="0.6" stroke-linejoin="round" stroke-linejoin="round"/>
<polygon points="390.4,402.4 402.7,395.8 414.2,402.0 401.9,408.6" fill="none" stroke="#444" stroke-width="0.6" stroke-linejoin="round" stroke-linejoin="round"/>
<polygon points="405.6,410.6 417.9,404.0 429.4,410.2 417.1,416.8" fill="none" stroke="#444" stroke-width="0.6" stroke-linejoin="round" stroke-linejoin="round"/>
</g>
<ellipse cx="295.9" cy="397.8" rx="2.1" ry="1.4" fill="#fff" stroke="#262626" stroke-width="0.8"/>
<ellipse cx="304.0" cy="403.2" rx="2.1" ry="1.4" fill="#fff" stroke="#262626" stroke-width="0.8"/>
<ellipse cx="331.0" cy="410.6" rx="2.1" ry="1.4" fill="#fff" stroke="#262626" stroke-width="0.8"/>
<ellipse cx="331.0" cy="424.1" rx="2.1" ry="1.4" fill="#fff" stroke="#262626" stroke-width="0.8"/>
<ellipse cx="310.1" cy="440.3" rx="2.1" ry="1.4" fill="#fff" stroke="#262626" stroke-width="0.8"/>
<ellipse cx="285.1" cy="450.4" rx="2.1" ry="1.4" fill="#fff" stroke="#262626" stroke-width="0.8"/>
<ellipse cx="284.5" cy="455.8" rx="2.1" ry="1.4" fill="#fff" stroke="#262626" stroke-width="0.8"/>
<ellipse cx="254.8" cy="463.2" rx="2.1" ry="1.4" fill="#fff" stroke="#262626" stroke-width="0.8"/>
<ellipse cx="235.3" cy="455.8" rx="2.1" ry="1.4" fill="#fff" stroke="#262626" stroke-width="0.8"/>
<ellipse cx="217.1" cy="453.1" rx="2.1" ry="1.4" fill="#fff" stroke="#262626" stroke-width="0.8"/>
<ellipse cx="200.2" cy="455.1" rx="2.1" ry="1.4" fill="#fff" stroke="#262626" stroke-width="0.8"/>
<ellipse cx="190.8" cy="443.0" rx="2.1" ry="1.4" fill="#fff" stroke="#262626" stroke-width="0.8"/>
<ellipse cx="199.5" cy="433.5" rx="2.1" ry="1.4" fill="#fff" stroke="#262626" stroke-width="0.8"/>
<ellipse cx="219.1" cy="424.1" rx="2.1" ry="1.4" fill="#fff" stroke="#262626" stroke-width="0.8"/>
<ellipse cx="271.0" cy="406.6" rx="2.1" ry="1.4" fill="#fff" stroke="#262626" stroke-width="0.8"/>
<ellipse cx="251.4" cy="418.0" rx="2.1" ry="1.4" fill="#fff" stroke="#262626" stroke-width="0.8"/>
<path d="M168.1,318 C158,316 142,315 136,320 C131,325 132,331 137,334 C150,341 170,350 190.7,354.5 C205,358 218,360 227.5,363 C240,368 258,380 268.5,388.5 C272,393 272,399 267.1,404 C262,409 255,412 244.5,418.2" fill="none" stroke="#1e1e1e" stroke-width="3.8" stroke-linejoin="round" />
<path d="M168.1,318 C158,316 142,315 136,320 C131,325 132,331 137,334 C150,341 170,350 190.7,354.5 C205,358 218,360 227.5,363 C240,368 258,380 268.5,388.5 C272,393 272,399 267.1,404 C262,409 255,412 244.5,418.2" fill="none" stroke="#fff" stroke-width="1.8" stroke-linejoin="round" />
<polygon points="233.0,417.5 240.0,414.0 246.5,418.0 246.5,422.0 239.5,426.0 233.0,422.0" fill="#fff" stroke="#262626" stroke-width="0.9" stroke-linejoin="round" />
<line x1="240.0" y1="418.0" x2="240.0" y2="426.0" stroke="#262626" stroke-width="0.6"/>
<line x1="233.0" y1="417.5" x2="240.0" y2="421.5" stroke="#262626" stroke-width="0.6"/>
<polyline points="244.5,418.5 248.0,416.5" fill="none" stroke="#222" stroke-width="1.6" stroke-linejoin="round" />
<polyline points="216.5,461.0 216.5,484.0" fill="none" stroke="#444" stroke-width="0.7" stroke-dasharray="4,3" stroke-linejoin="round" />
<ellipse cx="181.5" cy="228.2" rx="3.8" ry="2.2" fill="#fff" stroke="#262626" stroke-width="0.9"/>
<ellipse cx="181.5" cy="228.2" rx="1.6" ry="0.9" fill="#fff" stroke="#262626" stroke-width="0.7"/>
<path d="M177,289 L177,293 L179.5,294.5 L179.5,297.5 A3.5,1.5 0 0 0 186.5,297.5 L186.5,294.5 L189,293 L189,289 Z" fill="#fff" stroke="#262626" stroke-width="0.9" stroke-linejoin="round" />
<ellipse cx="183.0" cy="289.0" rx="6.0" ry="2.6" fill="#fff" stroke="#262626" stroke-width="0.9"/>
<ellipse cx="183.0" cy="288.8" rx="2.3" ry="1.1" fill="#fff" stroke="#262626" stroke-width="0.7"/>
<rect x="286.3" y="506" width="7" height="15.5" rx="1.5" fill="#fff" stroke="#333" stroke-width="0.8"/>
<line x1="286.3" y1="508.3" x2="293.3" y2="507.1" stroke="#555" stroke-width="0.7"/>
<line x1="286.3" y1="510.0" x2="293.3" y2="508.8" stroke="#555" stroke-width="0.7"/>
<line x1="286.3" y1="511.8" x2="293.3" y2="510.6" stroke="#555" stroke-width="0.7"/>
<line x1="286.3" y1="513.5" x2="293.3" y2="512.3" stroke="#555" stroke-width="0.7"/>
<line x1="286.3" y1="515.2" x2="293.3" y2="514.0" stroke="#555" stroke-width="0.7"/>
<line x1="286.3" y1="516.9" x2="293.3" y2="515.7" stroke="#555" stroke-width="0.7"/>
<line x1="286.3" y1="518.7" x2="293.3" y2="517.5" stroke="#555" stroke-width="0.7"/>
<line x1="286.3" y1="520.4" x2="293.3" y2="519.2" stroke="#555" stroke-width="0.7"/>
<rect x="232.0" y="537" width="7" height="16" rx="1.5" fill="#fff" stroke="#333" stroke-width="0.8"/>
<line x1="232.0" y1="539.4" x2="239.0" y2="538.2" stroke="#555" stroke-width="0.7"/>
<line x1="232.0" y1="541.2" x2="239.0" y2="540.0" stroke="#555" stroke-width="0.7"/>
<line x1="232.0" y1="542.9" x2="239.0" y2="541.7" stroke="#555" stroke-width="0.7"/>
<line x1="232.0" y1="544.7" x2="239.0" y2="543.5" stroke="#555" stroke-width="0.7"/>
<line x1="232.0" y1="546.5" x2="239.0" y2="545.3" stroke="#555" stroke-width="0.7"/>
<line x1="232.0" y1="548.3" x2="239.0" y2="547.1" stroke="#555" stroke-width="0.7"/>
<line x1="232.0" y1="550.0" x2="239.0" y2="548.8" stroke="#555" stroke-width="0.7"/>
<line x1="232.0" y1="551.8" x2="239.0" y2="550.6" stroke="#555" stroke-width="0.7"/>
<ellipse cx="235.5" cy="564.8" rx="3.8" ry="3.8" fill="#fff" stroke="#262626" stroke-width="0.9"/>
<ellipse cx="318.3" cy="556.3" rx="3.8" ry="3.8" fill="#fff" stroke="#262626" stroke-width="0.9"/>
<path d="M369,577 L369,582 A3.5,1.5 0 0 0 376,582 L376,577 Z" fill="#fff" stroke="#262626" stroke-width="0.9" stroke-linejoin="round" />
<line x1="369.0" y1="578.5" x2="376.0" y2="577.7" stroke="#262626" stroke-width="0.7"/>
<line x1="369.0" y1="580.5" x2="376.0" y2="579.7" stroke="#262626" stroke-width="0.7"/>
<ellipse cx="372.5" cy="575.5" rx="5.2" ry="3.2" fill="#fff" stroke="#262626" stroke-width="1.0"/>
<ellipse cx="372.5" cy="574.8" rx="4.2" ry="1.8" fill="#fff" stroke="#262626" stroke-width="0.6"/>
<path d="M299,808.5 L302,805 L308,806.5 L313,809 L317.5,810 L318,814 L314,817 L308,818 L303,815.5 L299,812 Z" fill="#fff" stroke="#262626" stroke-width="0.9" stroke-linejoin="round" />
<ellipse cx="313.5" cy="812.5" rx="3.2" ry="2.4" fill="#fff" stroke="#262626" stroke-width="0.8"/>
<ellipse cx="304.0" cy="811.5" rx="1.2" ry="1.2" fill="#333" stroke="#262626" stroke-width="0.5"/>
<polygon points="97.5,717.4 115.7,707.4 116.3,711.5 138.1,700.3 146.4,705.0 146.4,726.2 135.8,732.1 135.8,733.9 122.2,744.5 106.9,744.5 98.7,741.6 97.5,730.4" fill="#fff" stroke="#1e1e1e" stroke-width="1.0" stroke-linejoin="round" />
<polyline points="116.3,711.5 124.6,715.6 146.4,705.0" fill="none" stroke="#444" stroke-width="0.6" stroke-linejoin="round" />
<polyline points="98.7,730.4 145.8,706.2" fill="none" stroke="#444" stroke-width="0.6" stroke-linejoin="round" />
<polyline points="98.7,731.8 145.8,707.6" fill="none" stroke="#444" stroke-width="0.6" stroke-linejoin="round" />
<polyline points="124.6,715.6 124.6,717.4" fill="none" stroke="#444" stroke-width="0.6" stroke-linejoin="round" />
<line x1="101.0" y1="720.3" x2="103.2" y2="719.2" stroke="#888" stroke-width="0.5"/>
<line x1="106.3" y1="717.8" x2="108.5" y2="716.7" stroke="#888" stroke-width="0.5"/>
<line x1="111.6" y1="715.2" x2="113.8" y2="714.1" stroke="#888" stroke-width="0.5"/>
<line x1="101.0" y1="723.9" x2="103.2" y2="722.8" stroke="#888" stroke-width="0.5"/>
<line x1="106.3" y1="721.3" x2="108.5" y2="720.2" stroke="#888" stroke-width="0.5"/>
<line x1="111.6" y1="718.7" x2="113.8" y2="717.6" stroke="#888" stroke-width="0.5"/>
<line x1="101.0" y1="727.4" x2="103.2" y2="726.3" stroke="#888" stroke-width="0.5"/>
<line x1="106.3" y1="724.8" x2="108.5" y2="723.7" stroke="#888" stroke-width="0.5"/>
<line x1="111.6" y1="722.2" x2="113.8" y2="721.1" stroke="#888" stroke-width="0.5"/>
<polygon points="117.5,731.5 125.8,727.4 128.1,729.2 128.1,742.2 122.8,745.1 117.5,742.2" fill="#fff" stroke="#262626" stroke-width="0.9" stroke-linejoin="round" />
<polyline points="117.5,731.5 122.2,733.9 128.1,729.2" fill="none" stroke="#262626" stroke-width="0.6" stroke-linejoin="round" />
<polyline points="122.2,733.9 122.2,745.1" fill="none" stroke="#262626" stroke-width="0.6" stroke-linejoin="round" />
<polygon points="128.1,726.2 131.7,724.5 135.8,726.8 135.8,739.2 132.8,740.4 128.1,738.0" fill="#fff" stroke="#262626" stroke-width="0.9" stroke-linejoin="round" />
<polyline points="131.7,724.5 131.7,729.2 135.8,726.8" fill="none" stroke="#262626" stroke-width="0.6" stroke-linejoin="round" />
<polyline points="131.7,729.2 132.8,740.4" fill="none" stroke="#262626" stroke-width="0.6" stroke-linejoin="round" />
<polyline points="106.9,743.3 117.5,737.4" fill="none" stroke="#262626" stroke-width="0.7" stroke-linejoin="round" />
<polyline points="108.1,744.5 118.1,738.9" fill="none" stroke="#262626" stroke-width="0.7" stroke-linejoin="round" />
<polygon points="77.4,720.3 97.5,709.1 97.5,730.4 83.3,738.0 77.4,735.1" fill="#fff" stroke="#1e1e1e" stroke-width="1.0" stroke-linejoin="round" />
<line x1="80.4" y1="723.3" x2="82.8" y2="722.1" stroke="#666" stroke-width="0.55"/>
<line x1="83.9" y1="721.5" x2="85.0" y2="720.9" stroke="#666" stroke-width="0.55"/>
<line x1="85.7" y1="720.3" x2="88.1" y2="719.1" stroke="#666" stroke-width="0.55"/>
<line x1="89.2" y1="718.5" x2="90.3" y2="717.9" stroke="#666" stroke-width="0.55"/>
<line x1="91.0" y1="717.4" x2="93.4" y2="716.2" stroke="#666" stroke-width="0.55"/>
<line x1="94.5" y1="715.6" x2="95.6" y2="715.0" stroke="#666" stroke-width="0.55"/>
<line x1="80.4" y1="726.8" x2="82.8" y2="725.6" stroke="#666" stroke-width="0.55"/>
<line x1="83.9" y1="725.0" x2="85.0" y2="724.4" stroke="#666" stroke-width="0.55"/>
<line x1="85.7" y1="723.9" x2="88.1" y2="722.7" stroke="#666" stroke-width="0.55"/>
<line x1="89.2" y1="722.1" x2="90.3" y2="721.5" stroke="#666" stroke-width="0.55"/>
<line x1="91.0" y1="720.9" x2="93.4" y2="719.7" stroke="#666" stroke-width="0.55"/>
<line x1="94.5" y1="719.1" x2="95.6" y2="718.5" stroke="#666" stroke-width="0.55"/>
<line x1="80.4" y1="730.4" x2="82.8" y2="729.2" stroke="#666" stroke-width="0.55"/>
<line x1="83.9" y1="728.6" x2="85.0" y2="728.0" stroke="#666" stroke-width="0.55"/>
<line x1="85.7" y1="727.4" x2="88.1" y2="726.2" stroke="#666" stroke-width="0.55"/>
<line x1="89.2" y1="725.6" x2="90.3" y2="725.0" stroke="#666" stroke-width="0.55"/>
<line x1="91.0" y1="724.5" x2="93.4" y2="723.3" stroke="#666" stroke-width="0.55"/>
<line x1="94.5" y1="722.7" x2="95.6" y2="722.1" stroke="#666" stroke-width="0.55"/>
<line x1="80.4" y1="733.9" x2="82.8" y2="732.7" stroke="#666" stroke-width="0.55"/>
<line x1="83.9" y1="732.1" x2="85.0" y2="731.5" stroke="#666" stroke-width="0.55"/>
<line x1="85.7" y1="731.0" x2="88.1" y2="729.8" stroke="#666" stroke-width="0.55"/>
<line x1="89.2" y1="729.2" x2="90.3" y2="728.6" stroke="#666" stroke-width="0.55"/>
<line x1="91.0" y1="728.0" x2="93.4" y2="726.8" stroke="#666" stroke-width="0.55"/>
<line x1="94.5" y1="726.2" x2="95.6" y2="725.6" stroke="#666" stroke-width="0.55"/>
<line x1="89.2" y1="736.3" x2="89.2" y2="744.5" stroke="#262626" stroke-width="0.8"/>
<line x1="91.0" y1="735.7" x2="91.0" y2="743.6" stroke="#262626" stroke-width="0.8"/>
<line x1="97.5" y1="730.4" x2="97.5" y2="741.0" stroke="#262626" stroke-width="0.8"/>
<polygon points="40.3,762.8 59.8,752.2 69.2,756.9 98.7,740.4 106.9,743.3 121.6,745.7 121.6,753.4 64.5,784.6 40.3,771.6" fill="#fff" stroke="#1e1e1e" stroke-width="1.0" stroke-linejoin="round" />
<polyline points="40.7,764.6 64.5,777.5 121.4,745.9" fill="none" stroke="#555" stroke-width="0.6" stroke-linejoin="round" />
<path d="M90.4,769.3 C91.0,773.4 96.9,773.4 97.5,768.7" fill="none" stroke="#262626" stroke-width="0.8" stroke-linejoin="round" />
<path d="M99.2,765.7 L99.2,767.5 C99.8,768.7 105.7,768.7 106.3,765.7 L106.3,762.8" fill="none" stroke="#262626" stroke-width="0.8" stroke-linejoin="round" />
<polygon points="58.0,782.8 62.7,781.6 70.4,784.6 69.2,787.5 61.5,789.3 59.2,786.4" fill="#fff" stroke="#262626" stroke-width="0.9" stroke-linejoin="round" />
<line x1="79.8" y1="777.5" x2="72.7" y2="781.1" stroke="#262626" stroke-width="0.9"/>
<path d="M538,557 L546,551 C550,549 553,551 551,554 L544,560 Z" fill="#fff" stroke="#262626" stroke-width="0.9" stroke-linejoin="round" />
<ellipse cx="548.5" cy="552.5" rx="1.3" ry="1.0" fill="#333" stroke="#262626" stroke-width="0.5"/>
<path d="M538,558 C534,563 535,568 536,573 C538,580 552,587 563,595" fill="none" stroke="#151515" stroke-width="2.8" stroke-linejoin="round" />
<path d="M538,558 C534,563 535,568 536,573 C538,580 552,587 563,595" fill="none" stroke="#fff" stroke-width="0.7" stroke-linejoin="round" />
<path d="M536,573 C540,585 555,592 565,600" fill="none" stroke="#151515" stroke-width="2.8" stroke-linejoin="round" />
<path d="M536,573 C540,585 555,592 565,600" fill="none" stroke="#fff" stroke-width="0.7" stroke-linejoin="round" />
<path d="M511,575 C523,570 533,578 564,592" fill="none" stroke="#151515" stroke-width="2.4" stroke-linejoin="round" />
<path d="M511,575 C523,570 533,578 564,592" fill="none" stroke="#fff" stroke-width="0.6" stroke-linejoin="round" />
<path d="M518.1,578.6 C530.1,573.6 540.1,581.6 564,595.6" fill="none" stroke="#151515" stroke-width="2.4" stroke-linejoin="round" />
<path d="M518.1,578.6 C530.1,573.6 540.1,581.6 564,595.6" fill="none" stroke="#fff" stroke-width="0.6" stroke-linejoin="round" />
<path d="M524.3,582.1 C536.3,577.1 546.3,585.1 564,599.1" fill="none" stroke="#151515" stroke-width="2.4" stroke-linejoin="round" />
<path d="M524.3,582.1 C536.3,577.1 546.3,585.1 564,599.1" fill="none" stroke="#fff" stroke-width="0.6" stroke-linejoin="round" />
<path d="M531.4,585.7 C543.4,580.7 553.4,588.7 564,602.7" fill="none" stroke="#151515" stroke-width="2.4" stroke-linejoin="round" />
<path d="M531.4,585.7 C543.4,580.7 553.4,588.7 564,602.7" fill="none" stroke="#fff" stroke-width="0.6" stroke-linejoin="round" />
<ellipse cx="508.0" cy="576.0" rx="3.9" ry="3.3" fill="#fff" stroke="#262626" stroke-width="1.2" transform="rotate(-20 508.0 576.0)"/>
<ellipse cx="507.2" cy="576.0" rx="1.8" ry="1.8" fill="#fff" stroke="#262626" stroke-width="0.7"/>
<ellipse cx="515.1" cy="579.6" rx="3.9" ry="3.3" fill="#fff" stroke="#262626" stroke-width="1.2" transform="rotate(-20 515.1 579.6)"/>
<ellipse cx="514.3" cy="579.6" rx="1.8" ry="1.8" fill="#fff" stroke="#262626" stroke-width="0.7"/>
<ellipse cx="521.3" cy="583.1" rx="3.9" ry="3.3" fill="#fff" stroke="#262626" stroke-width="1.2" transform="rotate(-20 521.3 583.1)"/>
<ellipse cx="520.5" cy="583.1" rx="1.8" ry="1.8" fill="#fff" stroke="#262626" stroke-width="0.7"/>
<ellipse cx="528.4" cy="586.7" rx="3.9" ry="3.3" fill="#fff" stroke="#262626" stroke-width="1.2" transform="rotate(-20 528.4 586.7)"/>
<ellipse cx="527.6" cy="586.7" rx="1.8" ry="1.8" fill="#fff" stroke="#262626" stroke-width="0.7"/>
<path d="M530,596 C540,592 552,594 563,600" fill="none" stroke="#151515" stroke-width="2.4" stroke-linejoin="round" />
<path d="M530,596 C540,592 552,594 563,600" fill="none" stroke="#fff" stroke-width="0.6" stroke-linejoin="round" />
<ellipse cx="526.6" cy="596.4" rx="3.9" ry="3.3" fill="#fff" stroke="#262626" stroke-width="1.2" transform="rotate(-20 526.6 596.4)"/>
<ellipse cx="525.8" cy="596.4" rx="1.8" ry="1.8" fill="#fff" stroke="#262626" stroke-width="0.7"/>
<path d="M563.7,570.2 C561.7,579.2 557.7,587.2 566,597.2" fill="none" stroke="#151515" stroke-width="2.4" stroke-linejoin="round" />
<path d="M563.7,570.2 C561.7,579.2 557.7,587.2 566,597.2" fill="none" stroke="#fff" stroke-width="0.6" stroke-linejoin="round" />
<path d="M577,564.9 C575,573.9 571,581.9 566,591.9" fill="none" stroke="#151515" stroke-width="2.4" stroke-linejoin="round" />
<path d="M577,564.9 C575,573.9 571,581.9 566,591.9" fill="none" stroke="#fff" stroke-width="0.6" stroke-linejoin="round" />
<path d="M584.1,574.6 C582.1,583.6 578.1,591.6 566,601.6" fill="none" stroke="#151515" stroke-width="2.4" stroke-linejoin="round" />
<path d="M584.1,574.6 C582.1,583.6 578.1,591.6 566,601.6" fill="none" stroke="#fff" stroke-width="0.6" stroke-linejoin="round" />
<path d="M560.7,566.2 L560.7,570.2 A3,1.2 0 0 0 566.7,570.2 L566.7,566.2 Z" fill="#fff" stroke="#262626" stroke-width="0.8" stroke-linejoin="round" />
<ellipse cx="563.7" cy="566.2" rx="3.0" ry="1.3" fill="#fff" stroke="#262626" stroke-width="0.8"/>
<ellipse cx="563.7" cy="564.2" rx="1.6" ry="1.6" fill="#fff" stroke="#262626" stroke-width="0.7"/>
<path d="M574,560.9 L574,564.9 A3,1.2 0 0 0 580,564.9 L580,560.9 Z" fill="#fff" stroke="#262626" stroke-width="0.8" stroke-linejoin="round" />
<ellipse cx="577.0" cy="560.9" rx="3.0" ry="1.3" fill="#fff" stroke="#262626" stroke-width="0.8"/>
<ellipse cx="577.0" cy="558.9" rx="1.6" ry="1.6" fill="#fff" stroke="#262626" stroke-width="0.7"/>
<path d="M581.1,570.6 L581.1,574.6 A3,1.2 0 0 0 587.1,574.6 L587.1,570.6 Z" fill="#fff" stroke="#262626" stroke-width="0.8" stroke-linejoin="round" />
<ellipse cx="584.1" cy="570.6" rx="3.0" ry="1.3" fill="#fff" stroke="#262626" stroke-width="0.8"/>
<ellipse cx="584.1" cy="568.6" rx="1.6" ry="1.6" fill="#fff" stroke="#262626" stroke-width="0.7"/>
<path d="M566,596 C568,605 567,620 564,630 C560,638 552,630 545,622 C540,617 534,616 527,620" fill="none" stroke="#151515" stroke-width="3.0" stroke-linejoin="round" />
<path d="M566,596 C568,605 567,620 564,630 C560,638 552,630 545,622 C540,617 534,616 527,620" fill="none" stroke="#fff" stroke-width="0.9000000000000001" stroke-linejoin="round" />
<path d="M545,622 C540,626 533,628 526,632" fill="none" stroke="#151515" stroke-width="2.4" stroke-linejoin="round" />
<path d="M545,622 C540,626 533,628 526,632" fill="none" stroke="#fff" stroke-width="0.6" stroke-linejoin="round" />
<polygon points="501.0,618.0 508.0,614.5 513.0,617.0 513.0,623.0 506.0,626.5 501.0,624.0" fill="#fff" stroke="#262626" stroke-width="1.1" stroke-linejoin="round" />
<line x1="506.0" y1="620.5" x2="506.0" y2="625.6" stroke="#262626" stroke-width="0.6"/>
<line x1="501.8" y1="618.5" x2="506.0" y2="620.5" stroke="#262626" stroke-width="0.6"/>
<line x1="506.0" y1="620.5" x2="512.4" y2="617.5" stroke="#262626" stroke-width="0.6"/>
<polygon points="511.5,630.5 520.0,626.5 527.5,630.0 527.5,636.5 519.0,640.5 511.5,637.0" fill="#fff" stroke="#262626" stroke-width="1.1" stroke-linejoin="round" />
<line x1="519.0" y1="633.5" x2="519.0" y2="639.7" stroke="#262626" stroke-width="0.6"/>
<line x1="512.4" y1="631.0" x2="519.0" y2="633.5" stroke="#262626" stroke-width="0.6"/>
<line x1="519.0" y1="633.5" x2="526.6" y2="630.0" stroke="#262626" stroke-width="0.6"/>
<path d="M512,619 C518,616 522,617 527,620" fill="none" stroke="#151515" stroke-width="2.2" stroke-linejoin="round" />
<path d="M512,619 C518,616 522,617 527,620" fill="none" stroke="#fff" stroke-width="0.6" stroke-linejoin="round" />
<g stroke="#333" stroke-width="1" fill="none">
<line x1="309.5" y1="31" x2="309.5" y2="47"/>
</g>
<g>
<circle cx="627.5" cy="60.8" r="9.3" fill="#fff" stroke="#333" stroke-width="1"/>
<text x="627.5" y="65.7" font-size="13.4" text-anchor="middle" fill="#111">a</text>
<circle cx="751" cy="60.9" r="9.3" fill="#fff" stroke="#333" stroke-width="1"/>
<text x="751" y="65.8" font-size="13.4" text-anchor="middle" fill="#111">b</text>
<circle cx="868" cy="60.8" r="9.3" fill="#fff" stroke="#333" stroke-width="1"/>
<text x="868" y="65.7" font-size="13.4" text-anchor="middle" fill="#111">c</text>
<circle cx="980" cy="60.8" r="9.3" fill="#fff" stroke="#333" stroke-width="1"/>
<text x="980" y="65.7" font-size="13.4" text-anchor="middle" fill="#111">d</text>
<circle cx="1099.4" cy="60.7" r="9.3" fill="#fff" stroke="#333" stroke-width="1"/>
<text x="1099.4" y="65.60000000000001" font-size="13.4" text-anchor="middle" fill="#111">e</text>
<circle cx="627.2" cy="194.2" r="9.3" fill="#fff" stroke="#333" stroke-width="1"/>
<text x="627.2" y="199.1" font-size="13.4" text-anchor="middle" fill="#111">f</text>
<circle cx="744.6" cy="194.2" r="9.3" fill="#fff" stroke="#333" stroke-width="1"/>
<text x="744.6" y="199.1" font-size="13.4" text-anchor="middle" fill="#111">g</text>
<circle cx="866.9" cy="194.2" r="9.3" fill="#fff" stroke="#333" stroke-width="1"/>
<text x="866.9" y="199.1" font-size="13.4" text-anchor="middle" fill="#111">h</text>
<circle cx="982.3" cy="194.2" r="9.3" fill="#fff" stroke="#333" stroke-width="1"/>
<text x="982.3" y="199.1" font-size="13.4" text-anchor="middle" fill="#111">i</text>
<circle cx="1097.3" cy="194.2" r="9.3" fill="#fff" stroke="#333" stroke-width="1"/>
<text x="1097.3" y="199.1" font-size="13.4" text-anchor="middle" fill="#111">j</text>
<circle cx="627.5" cy="328.8" r="9.3" fill="#fff" stroke="#333" stroke-width="1"/>
<text x="627.5" y="333.7" font-size="13.4" text-anchor="middle" fill="#111">k</text>
<circle cx="746.6" cy="328.8" r="9.3" fill="#fff" stroke="#333" stroke-width="1"/>
<text x="746.6" y="333.7" font-size="13.4" text-anchor="middle" fill="#111">l</text>
<circle cx="866.3" cy="328.8" r="9.3" fill="#fff" stroke="#333" stroke-width="1"/>
<text x="866.3" y="333.7" font-size="13.4" text-anchor="middle" fill="#111">m</text>
<circle cx="981.4" cy="328.8" r="9.3" fill="#fff" stroke="#333" stroke-width="1"/>
<text x="981.4" y="333.7" font-size="13.4" text-anchor="middle" fill="#111">n</text>
<circle cx="1097.5" cy="328.8" r="9.3" fill="#fff" stroke="#333" stroke-width="1"/>
<text x="1097.5" y="333.7" font-size="13.4" text-anchor="middle" fill="#111">o</text>
<circle cx="627.5" cy="462.9" r="9.3" fill="#fff" stroke="#333" stroke-width="1"/>
<text x="627.5" y="467.79999999999995" font-size="13.4" text-anchor="middle" fill="#111">p</text>
<circle cx="743.9" cy="462.9" r="9.3" fill="#fff" stroke="#333" stroke-width="1"/>
<text x="743.9" y="467.79999999999995" font-size="13.4" text-anchor="middle" fill="#111">q</text>
<circle cx="866.1" cy="462.9" r="9.3" fill="#fff" stroke="#333" stroke-width="1"/>
<text x="866.1" y="467.79999999999995" font-size="13.4" text-anchor="middle" fill="#111">r</text>
<circle cx="980.4" cy="462.9" r="9.3" fill="#fff" stroke="#333" stroke-width="1"/>
<text x="980.4" y="467.79999999999995" font-size="13.4" text-anchor="middle" fill="#111">s</text>
<circle cx="1098" cy="462.9" r="9.3" fill="#fff" stroke="#333" stroke-width="1"/>
<text x="1098" y="467.79999999999995" font-size="13.4" text-anchor="middle" fill="#111">t</text>
<circle cx="458.5" cy="111.2" r="9.3" fill="#fff" stroke="#333" stroke-width="1"/>
<text x="458.5" y="116.10000000000001" font-size="13.4" text-anchor="middle" fill="#111">t</text>
<circle cx="145.5" cy="511" r="9.3" fill="#fff" stroke="#333" stroke-width="1"/>
<text x="145.5" y="515.9" font-size="13.4" text-anchor="middle" fill="#111">j</text>
<circle cx="120" cy="525.4" r="9.3" fill="#fff" stroke="#333" stroke-width="1"/>
<text x="120" y="530.3" font-size="13.4" text-anchor="middle" fill="#111">h</text>
<circle cx="94.3" cy="539" r="9.3" fill="#fff" stroke="#333" stroke-width="1"/>
<text x="94.3" y="543.9" font-size="13.4" text-anchor="middle" fill="#111">f</text>
<circle cx="70.6" cy="552.9" r="9.3" fill="#fff" stroke="#333" stroke-width="1"/>
<text x="70.6" y="557.8" font-size="13.4" text-anchor="middle" fill="#111">d</text>
<circle cx="205.3" cy="556.9" r="9.3" fill="#fff" stroke="#333" stroke-width="1"/>
<text x="205.3" y="561.8" font-size="13.4" text-anchor="middle" fill="#111">i</text>
<circle cx="179.8" cy="571.2" r="9.3" fill="#fff" stroke="#333" stroke-width="1"/>
<text x="179.8" y="576.1" font-size="13.4" text-anchor="middle" fill="#111">g</text>
<circle cx="156.5" cy="584.9" r="9.3" fill="#fff" stroke="#333" stroke-width="1"/>
<text x="156.5" y="589.8" font-size="13.4" text-anchor="middle" fill="#111">e</text>
<circle cx="131.7" cy="599.3" r="9.3" fill="#fff" stroke="#333" stroke-width="1"/>
<text x="131.7" y="604.1999999999999" font-size="13.4" text-anchor="middle" fill="#111">c</text>
<circle cx="110.1" cy="612.8" r="9.3" fill="#fff" stroke="#333" stroke-width="1"/>
<text x="110.1" y="617.6999999999999" font-size="13.4" text-anchor="middle" fill="#111">b</text>
<circle cx="93.6" cy="685.3" r="9.3" fill="#fff" stroke="#333" stroke-width="1"/>
<text x="93.6" y="690.1999999999999" font-size="13.4" text-anchor="middle" fill="#111">a</text>
<circle cx="439.4" cy="701.5" r="9.3" fill="#fff" stroke="#333" stroke-width="1"/>
<text x="439.4" y="706.4" font-size="13.4" text-anchor="middle" fill="#111">l</text>
<circle cx="465.8" cy="769.4" r="9.3" fill="#fff" stroke="#333" stroke-width="1"/>
<text x="465.8" y="774.3" font-size="13.4" text-anchor="middle" fill="#111">k</text>
<circle cx="432.8" cy="776.8" r="9.3" fill="#fff" stroke="#333" stroke-width="1"/>
<text x="432.8" y="781.6999999999999" font-size="13.4" text-anchor="middle" fill="#111">m</text>
<circle cx="409.3" cy="775" r="9.3" fill="#fff" stroke="#333" stroke-width="1"/>
<text x="409.3" y="779.9" font-size="13.4" text-anchor="middle" fill="#111">n</text>
<circle cx="385.6" cy="788.9" r="9.3" fill="#fff" stroke="#333" stroke-width="1"/>
<text x="385.6" y="793.8" font-size="13.4" text-anchor="middle" fill="#111">o</text>
<circle cx="168" cy="756.3" r="9.3" fill="#fff" stroke="#333" stroke-width="1"/>
<text x="168" y="761.1999999999999" font-size="13.4" text-anchor="middle" fill="#111">s</text>
<circle cx="218.9" cy="793.4" r="9.3" fill="#fff" stroke="#333" stroke-width="1"/>
<text x="218.9" y="798.3" font-size="13.4" text-anchor="middle" fill="#111">r</text>
<circle cx="342.1" cy="807.5" r="9.3" fill="#fff" stroke="#333" stroke-width="1"/>
<text x="342.1" y="812.4" font-size="13.4" text-anchor="middle" fill="#111">q</text>
<circle cx="366.6" cy="809.6" r="9.3" fill="#fff" stroke="#333" stroke-width="1"/>
<text x="366.6" y="814.5" font-size="13.4" text-anchor="middle" fill="#111">p</text>
</g>
<g font-size="15.2" fill="#1e1e1e">
<text x="288.4" y="25.0">46200</text>
<text x="328.4" y="63.7">46201A</text>
<text x="297.9" y="79.9">46201A</text>
<text x="264.4" y="95.8">46202A</text>
<text x="242.7" y="110.2">46389</text>
<text x="242.7" y="122.7">46442</text>
<text x="213.8" y="136.9">46388</text>
<text x="213.8" y="151.2">43213</text>
<text x="431.9" y="90.8">46203</text>
<text x="451.8" y="158.7">46395B</text>
<text x="396.9" y="183.0">46387A</text>
<text x="489.6" y="184.2">46201A</text>
<text x="454.9" y="199.0">46202A</text>
<text x="423.7" y="219.6">46202A</text>
<text x="104.4" y="211.7">46383A</text>
<text x="115.8" y="232.7">46114</text>
<text x="83.4" y="267.7">46210B</text>
<text x="110.0" y="294.2">47385</text>
<text x="56.1" y="332.9">46221D</text>
<text x="162.2" y="343.9">46310B</text>
<text x="84.7" y="371.2">45671C</text>
<text x="165.2" y="393.1">46209</text>
<text x="363.4" y="429.3">45611B</text>
<text x="119.9" y="479.0">46390A</text>
<text x="241.6" y="499.2">46441</text>
<text x="318.4" y="517.6">45656D</text>
<text x="517.2" y="526.4">46212H</text>
<text x="266.9" y="550.8">45654E</text>
<text x="348.7" y="561.8">45366</text>
<text x="264.6" y="570.3">47120B</text>
<text x="400.8" y="582.0">46384A</text>
<text x="469.8" y="658.8">45607B</text>
<text x="461.7" y="690.3">45605B</text>
<text x="78.4" y="802.8">46204A</text>
<text x="238.5" y="817.5">45671</text>
<text x="628.1" y="97.3">45621D</text>
<text x="673.8" y="116.9">45576</text>
<text x="637.4" y="164.4">45651B</text>
<text x="734.5" y="89.8">45622C</text>
<text x="768.3" y="109.8">46244L</text>
<text x="811.0" y="129.5">45576</text>
<text x="739.8" y="150.6">45632D</text>
<text x="777.7" y="176.1">45631D</text>
<text x="879.8" y="103.6">45625D</text>
<text x="919.0" y="119.8">45576</text>
<text x="864.1" y="149.2">45873</text>
<text x="897.4" y="164.9">46261</text>
<text x="996.5" y="101.6">45627C</text>
<text x="1035.7" y="117.7">45576</text>
<text x="980.4" y="147.7">45879</text>
<text x="1008.3" y="162.8">46243C</text>
<text x="1102.1" y="101.0">45628E</text>
<text x="1140.8" y="116.9">45576</text>
<text x="1114.0" y="162.7">46261A</text>
<text x="631.4" y="235.6">45635C</text>
<text x="670.2" y="251.3">45576</text>
<text x="643.4" y="296.8">46261A</text>
<text x="758.1" y="235.6">46242A</text>
<text x="799.2" y="256.2">45576</text>
<text x="739.8" y="281.1">45638C</text>
<text x="771.8" y="303.2">45879</text>
<text x="878.3" y="236.6">46261B</text>
<text x="921.6" y="256.8">45576</text>
<text x="861.6" y="275.2">45652C</text>
<text x="900.4" y="304.2">45873</text>
<text x="973.9" y="224.4">45949</text>
<text x="1001.8" y="243.5">45627C</text>
<text x="983.4" y="283.7">45652C</text>
<text x="1023.6" y="313.1">45576</text>
<text x="1112.4" y="231.6">46236B</text>
<text x="1150.1" y="249.5">45576</text>
<text x="1099.9" y="276.5">45949</text>
<text x="1117.3" y="296.7">45627E</text>
<text x="615.7" y="356.3">45642C</text>
<text x="648.7" y="369.2">43148A</text>
<text x="683.9" y="386.3">45576</text>
<text x="630.4" y="421.6">45659B</text>
<text x="664.3" y="437.8">45620D</text>
<text x="764.4" y="363.7">46242A</text>
<text x="798.7" y="382.4">45576</text>
<text x="739.2" y="414.7">45638C</text>
<text x="781.0" y="431.4">45879</text>
<text x="878.9" y="367.3">45645B</text>
<text x="917.1" y="382.4">45576</text>
<text x="868.1" y="418.2">45894</text>
<text x="894.5" y="431.4">45889A</text>
<text x="999.4" y="364.7">45640A</text>
<text x="1035.4" y="382.4">45576</text>
<text x="986.3" y="418.2">45968</text>
<text x="1012.2" y="431.4">46261C</text>
<text x="1114.4" y="363.3">45645B</text>
<text x="1149.4" y="382.5">45576</text>
<text x="1100.5" y="418.4">45892</text>
<text x="1127.2" y="431.4">45889A</text>
<text x="618.9" y="493.2">46349A</text>
<text x="650.6" y="510.1">45648A</text>
<text x="684.9" y="525.6">45576</text>
<text x="631.0" y="558.9">45968A</text>
<text x="662.4" y="574.6">45863B</text>
<text x="758.4" y="505.2">41719C</text>
<text x="794.7" y="518.9">45576</text>
<text x="740.8" y="554.6">45854A</text>
<text x="771.8" y="567.3">45637D</text>
<text x="868.7" y="504.0">45654C</text>
<text x="910.2" y="518.9">45576</text>
<text x="882.4" y="565.4">46244A</text>
<text x="1007.3" y="505.6">19362</text>
<text x="1036.7" y="526.7">45366</text>
<text x="986.1" y="555.6">45894</text>
<text x="1019.6" y="574.2">45656C</text>
<text x="1137.5" y="496.9">19364</text>
<text x="1086.7" y="524.8">45945A</text>
<text x="1148.1" y="546.9">45756A</text>
<text x="1112.2" y="565.6">41719A</text>
</g>
</svg></body></html>
